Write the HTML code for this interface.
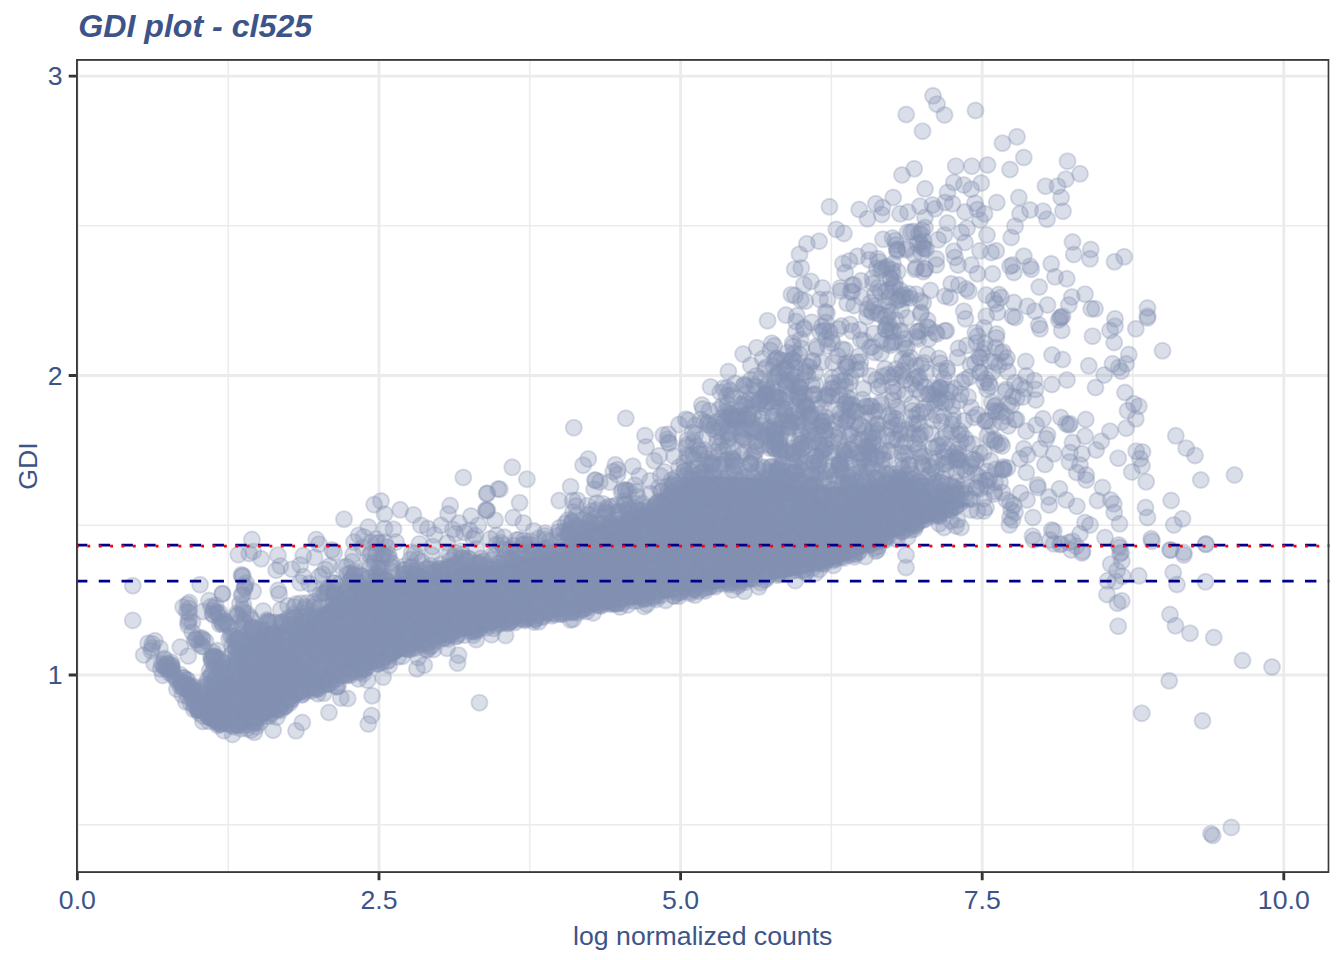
<!DOCTYPE html>
<html><head><meta charset="utf-8"><title>GDI plot - cl525</title>
<style>
html,body{margin:0;padding:0;background:#fff;}
body{width:1344px;height:960px;overflow:hidden;font-family:"Liberation Sans",sans-serif;}
svg{display:block}
text{font-family:"Liberation Sans",sans-serif;fill:#3C5488;}
.p circle{fill:#8491B4;fill-opacity:.3;stroke:#8491B4;stroke-opacity:.3;stroke-width:1.9}
</style></head><body>
<svg width="1344" height="960" viewBox="0 0 1344 960">
<rect width="1344" height="960" fill="#fff"/>
<defs><clipPath id="cp"><rect x="76.0" y="58.95" width="1253.55" height="814.0999999999999"/></clipPath></defs>
<g clip-path="url(#cp)">
<path d="M228.20 58.95V873.05M529.80 58.95V873.05M831.40 58.95V873.05M1133.00 58.95V873.05M76.0 824.68H1329.55M76.0 525.25H1329.55M76.0 225.82H1329.55" stroke="#EBEBEB" stroke-width="1.42" fill="none"/>
<path d="M77.40 58.95V873.05M379.00 58.95V873.05M680.60 58.95V873.05M982.20 58.95V873.05M1283.80 58.95V873.05M76.0 674.96H1329.55M76.0 375.53H1329.55M76.0 76.10H1329.55" stroke="#EBEBEB" stroke-width="2.84" fill="none"/>
<path d="M238.0 730.1L244.0 729.6L250.0 727.7L256.0 725.9L262.0 724.0L268.0 720.5L274.0 717.0L280.0 713.5L286.0 709.8L292.0 706.0L298.0 702.2L304.0 698.5L310.0 695.7L316.0 692.8L322.0 690.0L328.0 686.9L334.0 683.8L340.0 680.6L346.0 677.7L352.0 676.0L358.0 674.3L364.0 672.6L370.0 670.7L376.0 668.7L382.0 666.7L388.0 664.5L394.0 661.2L400.0 658.0L406.0 654.8L412.0 652.5L418.0 650.4L424.0 648.4L430.0 646.4L436.0 644.7L442.0 643.0L448.0 641.3L454.0 639.7L460.0 638.1L466.0 636.5L472.0 635.0L478.0 633.5L484.0 632.0L490.0 630.5L496.0 629.0L502.0 627.6L508.0 626.4L514.0 625.2L520.0 624.0L526.0 622.8L532.0 621.7L538.0 620.7L544.0 619.7L550.0 618.7L556.0 617.8L562.0 616.8L568.0 615.8L574.0 614.8L580.0 613.9L586.0 612.9L592.0 611.9L598.0 610.9L604.0 610.0L610.0 609.0L616.0 608.0L622.0 606.9L628.0 605.7L634.0 604.6L640.0 603.4L646.0 602.3L652.0 601.1L658.0 600.0L664.0 598.9L670.0 597.7L676.0 596.6L682.0 595.4L688.0 594.3L694.0 593.1L700.0 592.0L706.0 591.0L712.0 590.0L718.0 588.9L724.0 587.9L730.0 586.9L736.0 585.9L742.0 584.9L748.0 583.8L754.0 582.8L760.0 581.8L766.0 580.8L772.0 579.8L778.0 578.7L784.0 577.7L790.0 576.7L796.0 575.7L802.0 574.4L808.0 572.6L814.0 570.8L820.0 569.0L826.0 567.2L832.0 565.4L838.0 563.6L844.0 561.8L850.0 560.0L856.0 557.0L862.0 554.0L868.0 551.0L874.0 548.0L880.0 545.0L886.0 542.0L892.0 539.0L898.0 536.0L904.0 533.3L910.0 530.8L916.0 528.3L922.0 525.8L928.0 523.3L934.0 520.8L940.0 518.0L946.0 515.0L952.0 512.0L958.0 509.0L964.0 506.9L970.0 505.3L970.0 503.6L964.0 502.3L958.0 501.0L952.0 499.7L946.0 498.4L940.0 497.1L934.0 495.3L928.0 491.0L922.0 486.6L916.0 482.3L910.0 478.0L904.0 479.0L898.0 479.9L892.0 480.9L886.0 481.8L880.0 482.8L874.0 483.8L868.0 484.7L862.0 485.7L856.0 486.2L850.0 486.4L844.0 486.6L838.0 486.9L832.0 487.1L826.0 487.4L820.0 487.6L814.0 487.8L808.0 487.6L802.0 486.4L796.0 485.2L790.0 484.0L784.0 482.8L778.0 481.6L772.0 480.4L766.0 479.2L760.0 478.0L754.0 477.8L748.0 477.5L742.0 477.3L736.0 477.0L730.0 476.8L724.0 476.6L718.0 476.3L712.0 476.1L706.0 476.4L700.0 476.9L694.0 477.5L688.0 478.0L682.0 483.6L676.0 489.1L670.0 494.7L664.0 500.3L658.0 504.9L652.0 507.7L646.0 510.4L640.0 513.2L634.0 515.5L628.0 516.8L622.0 518.2L616.0 519.5L610.0 520.9L604.0 522.5L598.0 525.2L592.0 527.9L586.0 530.6L580.0 533.3L574.0 536.0L568.0 544.2L562.0 551.2L556.0 552.4L550.0 553.5L544.0 554.7L538.0 555.9L532.0 557.0L526.0 558.2L520.0 559.5L514.0 560.8L508.0 562.2L502.0 563.5L496.0 564.9L490.0 566.1L484.0 567.0L478.0 567.9L472.0 568.7L466.0 569.6L460.0 570.4L454.0 571.3L448.0 572.2L442.0 573.1L436.0 574.1L430.0 575.0L424.0 576.0L418.0 576.3L412.0 576.6L406.0 576.9L400.0 577.2L394.0 577.5L388.0 577.8L382.0 578.2L376.0 579.5L370.0 580.8L364.0 582.0L358.0 583.3L352.0 584.6L346.0 588.4L340.0 593.5L334.0 598.6L328.0 603.7L322.0 608.8L316.0 613.6L310.0 617.1L304.0 620.6L298.0 623.4L292.0 624.5L286.0 625.5L280.0 626.6L274.0 627.7L268.0 628.8L262.0 633.2L256.0 638.2L250.0 643.3L244.0 648.3L238.0 656.1Z" fill="#8793B5"/>
<g class="p">
<circle cx="205.4" cy="684.1" r="8.06"/><circle cx="207.3" cy="713.4" r="8.06"/><circle cx="208.9" cy="703.7" r="8.06"/><circle cx="209.0" cy="704.5" r="8.06"/><circle cx="211.5" cy="710.2" r="8.06"/><circle cx="211.7" cy="714.9" r="8.06"/><circle cx="211.8" cy="716.0" r="8.06"/><circle cx="211.5" cy="716.3" r="8.06"/><circle cx="212.4" cy="697.4" r="8.06"/><circle cx="212.9" cy="700.1" r="8.06"/><circle cx="212.2" cy="713.9" r="8.06"/><circle cx="212.0" cy="715.3" r="8.06"/><circle cx="213.2" cy="697.8" r="8.06"/><circle cx="213.4" cy="699.8" r="8.06"/><circle cx="214.9" cy="696.7" r="8.06"/><circle cx="214.3" cy="708.0" r="8.06"/><circle cx="215.8" cy="685.2" r="8.06"/><circle cx="216.7" cy="699.9" r="8.06"/><circle cx="216.7" cy="720.8" r="8.06"/><circle cx="217.0" cy="722.8" r="8.06"/><circle cx="217.3" cy="650.5" r="8.06"/><circle cx="217.8" cy="673.3" r="8.06"/><circle cx="217.2" cy="709.3" r="8.06"/><circle cx="218.4" cy="694.6" r="8.06"/><circle cx="218.7" cy="718.7" r="8.06"/><circle cx="218.5" cy="720.0" r="8.06"/><circle cx="218.8" cy="721.8" r="8.06"/><circle cx="220.0" cy="686.3" r="8.06"/><circle cx="219.3" cy="688.7" r="8.06"/><circle cx="219.9" cy="710.5" r="8.06"/><circle cx="220.8" cy="708.0" r="8.06"/><circle cx="220.1" cy="708.8" r="8.06"/><circle cx="220.0" cy="715.1" r="8.06"/><circle cx="220.3" cy="717.0" r="8.06"/><circle cx="220.1" cy="723.5" r="8.06"/><circle cx="220.4" cy="724.2" r="8.06"/><circle cx="221.8" cy="688.5" r="8.06"/><circle cx="221.7" cy="705.1" r="8.06"/><circle cx="222.7" cy="685.7" r="8.06"/><circle cx="222.2" cy="716.7" r="8.06"/><circle cx="223.5" cy="684.4" r="8.06"/><circle cx="223.2" cy="722.1" r="8.06"/><circle cx="223.9" cy="730.6" r="8.06"/><circle cx="224.3" cy="672.2" r="8.06"/><circle cx="224.6" cy="685.3" r="8.06"/><circle cx="224.3" cy="717.1" r="8.06"/><circle cx="225.2" cy="697.5" r="8.06"/><circle cx="225.9" cy="705.8" r="8.06"/><circle cx="225.8" cy="708.6" r="8.06"/><circle cx="226.8" cy="718.4" r="8.06"/><circle cx="226.9" cy="719.1" r="8.06"/><circle cx="227.2" cy="663.4" r="8.06"/><circle cx="227.7" cy="682.0" r="8.06"/><circle cx="228.4" cy="667.3" r="8.06"/><circle cx="228.9" cy="685.1" r="8.06"/><circle cx="228.3" cy="723.5" r="8.06"/><circle cx="229.9" cy="668.8" r="8.06"/><circle cx="229.1" cy="701.9" r="8.06"/><circle cx="229.8" cy="713.7" r="8.06"/><circle cx="229.2" cy="715.8" r="8.06"/><circle cx="229.6" cy="724.2" r="8.06"/><circle cx="230.7" cy="691.3" r="8.06"/><circle cx="230.2" cy="709.9" r="8.06"/><circle cx="231.2" cy="654.7" r="8.06"/><circle cx="231.6" cy="668.0" r="8.06"/><circle cx="231.1" cy="684.4" r="8.06"/><circle cx="231.9" cy="701.4" r="8.06"/><circle cx="231.1" cy="725.3" r="8.06"/><circle cx="232.2" cy="645.4" r="8.06"/><circle cx="233.0" cy="652.5" r="8.06"/><circle cx="232.3" cy="686.5" r="8.06"/><circle cx="232.8" cy="702.9" r="8.06"/><circle cx="232.1" cy="715.5" r="8.06"/><circle cx="233.9" cy="664.9" r="8.06"/><circle cx="233.6" cy="710.6" r="8.06"/><circle cx="233.3" cy="725.5" r="8.06"/><circle cx="234.8" cy="640.7" r="8.06"/><circle cx="234.5" cy="665.3" r="8.06"/><circle cx="234.4" cy="680.1" r="8.06"/><circle cx="234.6" cy="708.5" r="8.06"/><circle cx="234.1" cy="713.1" r="8.06"/><circle cx="234.3" cy="715.2" r="8.06"/><circle cx="234.2" cy="726.8" r="8.06"/><circle cx="235.9" cy="648.0" r="8.06"/><circle cx="235.9" cy="655.7" r="8.06"/><circle cx="235.3" cy="669.2" r="8.06"/><circle cx="235.2" cy="673.4" r="8.06"/><circle cx="235.1" cy="684.3" r="8.06"/><circle cx="236.0" cy="696.7" r="8.06"/><circle cx="235.7" cy="724.2" r="8.06"/><circle cx="236.2" cy="649.1" r="8.06"/><circle cx="236.8" cy="657.5" r="8.06"/><circle cx="236.6" cy="658.9" r="8.06"/><circle cx="236.9" cy="704.6" r="8.06"/><circle cx="237.3" cy="664.2" r="8.06"/><circle cx="237.6" cy="701.0" r="8.06"/><circle cx="237.9" cy="721.9" r="8.06"/><circle cx="237.2" cy="723.3" r="8.06"/><circle cx="237.1" cy="724.7" r="8.06"/><circle cx="237.4" cy="724.7" r="8.06"/><circle cx="238.8" cy="659.6" r="8.06"/><circle cx="238.8" cy="682.8" r="8.06"/><circle cx="238.5" cy="697.3" r="8.06"/><circle cx="238.4" cy="717.5" r="8.06"/><circle cx="239.0" cy="725.3" r="8.06"/><circle cx="239.5" cy="647.9" r="8.06"/><circle cx="239.0" cy="652.2" r="8.06"/><circle cx="239.1" cy="664.6" r="8.06"/><circle cx="239.9" cy="693.5" r="8.06"/><circle cx="240.8" cy="679.8" r="8.06"/><circle cx="240.5" cy="691.3" r="8.06"/><circle cx="240.9" cy="713.8" r="8.06"/><circle cx="241.0" cy="656.4" r="8.06"/><circle cx="241.6" cy="668.9" r="8.06"/><circle cx="241.7" cy="671.6" r="8.06"/><circle cx="241.7" cy="687.4" r="8.06"/><circle cx="241.8" cy="707.7" r="8.06"/><circle cx="241.1" cy="728.7" r="8.06"/><circle cx="242.6" cy="626.4" r="8.06"/><circle cx="242.2" cy="696.4" r="8.06"/><circle cx="242.3" cy="720.5" r="8.06"/><circle cx="242.6" cy="722.5" r="8.06"/><circle cx="243.8" cy="651.6" r="8.06"/><circle cx="243.4" cy="658.3" r="8.06"/><circle cx="243.5" cy="697.3" r="8.06"/><circle cx="243.4" cy="712.0" r="8.06"/><circle cx="245.0" cy="642.4" r="8.06"/><circle cx="244.7" cy="661.0" r="8.06"/><circle cx="244.7" cy="669.7" r="8.06"/><circle cx="244.8" cy="709.4" r="8.06"/><circle cx="244.2" cy="725.2" r="8.06"/><circle cx="245.4" cy="640.4" r="8.06"/><circle cx="245.9" cy="646.8" r="8.06"/><circle cx="245.4" cy="657.7" r="8.06"/><circle cx="245.3" cy="705.6" r="8.06"/><circle cx="246.8" cy="641.2" r="8.06"/><circle cx="246.5" cy="667.6" r="8.06"/><circle cx="246.7" cy="706.5" r="8.06"/><circle cx="247.9" cy="638.8" r="8.06"/><circle cx="247.2" cy="643.3" r="8.06"/><circle cx="247.3" cy="672.7" r="8.06"/><circle cx="247.8" cy="724.8" r="8.06"/><circle cx="247.0" cy="728.6" r="8.06"/><circle cx="248.5" cy="704.7" r="8.06"/><circle cx="248.6" cy="711.5" r="8.06"/><circle cx="248.8" cy="714.6" r="8.06"/><circle cx="248.1" cy="718.5" r="8.06"/><circle cx="248.4" cy="721.4" r="8.06"/><circle cx="249.6" cy="657.4" r="8.06"/><circle cx="249.2" cy="677.6" r="8.06"/><circle cx="249.3" cy="680.5" r="8.06"/><circle cx="249.8" cy="686.0" r="8.06"/><circle cx="250.0" cy="694.1" r="8.06"/><circle cx="250.3" cy="617.2" r="8.06"/><circle cx="250.4" cy="653.9" r="8.06"/><circle cx="250.2" cy="657.9" r="8.06"/><circle cx="250.8" cy="664.2" r="8.06"/><circle cx="250.0" cy="670.1" r="8.06"/><circle cx="250.5" cy="678.3" r="8.06"/><circle cx="250.7" cy="688.6" r="8.06"/><circle cx="250.4" cy="698.6" r="8.06"/><circle cx="250.7" cy="702.7" r="8.06"/><circle cx="250.1" cy="704.3" r="8.06"/><circle cx="251.2" cy="640.5" r="8.06"/><circle cx="251.8" cy="687.4" r="8.06"/><circle cx="251.2" cy="730.1" r="8.06"/><circle cx="252.7" cy="634.9" r="8.06"/><circle cx="252.1" cy="653.1" r="8.06"/><circle cx="252.1" cy="696.0" r="8.06"/><circle cx="252.2" cy="721.3" r="8.06"/><circle cx="253.3" cy="668.8" r="8.06"/><circle cx="253.0" cy="678.0" r="8.06"/><circle cx="253.5" cy="693.1" r="8.06"/><circle cx="253.6" cy="702.9" r="8.06"/><circle cx="253.5" cy="703.0" r="8.06"/><circle cx="253.4" cy="722.2" r="8.06"/><circle cx="254.6" cy="636.0" r="8.06"/><circle cx="254.7" cy="689.2" r="8.06"/><circle cx="254.4" cy="694.9" r="8.06"/><circle cx="254.3" cy="702.3" r="8.06"/><circle cx="254.7" cy="721.8" r="8.06"/><circle cx="254.9" cy="722.7" r="8.06"/><circle cx="255.9" cy="632.2" r="8.06"/><circle cx="255.1" cy="634.9" r="8.06"/><circle cx="255.3" cy="640.3" r="8.06"/><circle cx="255.4" cy="717.7" r="8.06"/><circle cx="256.6" cy="643.7" r="8.06"/><circle cx="256.8" cy="648.2" r="8.06"/><circle cx="256.3" cy="693.2" r="8.06"/><circle cx="256.7" cy="697.0" r="8.06"/><circle cx="256.7" cy="704.7" r="8.06"/><circle cx="256.2" cy="704.4" r="8.06"/><circle cx="256.4" cy="717.8" r="8.06"/><circle cx="256.0" cy="723.6" r="8.06"/><circle cx="256.5" cy="726.7" r="8.06"/><circle cx="257.1" cy="636.1" r="8.06"/><circle cx="257.7" cy="646.4" r="8.06"/><circle cx="257.3" cy="676.9" r="8.06"/><circle cx="258.1" cy="641.5" r="8.06"/><circle cx="259.0" cy="646.1" r="8.06"/><circle cx="258.0" cy="668.1" r="8.06"/><circle cx="258.8" cy="671.3" r="8.06"/><circle cx="258.4" cy="691.5" r="8.06"/><circle cx="259.1" cy="629.2" r="8.06"/><circle cx="259.1" cy="682.6" r="8.06"/><circle cx="259.1" cy="683.7" r="8.06"/><circle cx="259.6" cy="695.9" r="8.06"/><circle cx="259.3" cy="711.5" r="8.06"/><circle cx="259.9" cy="712.6" r="8.06"/><circle cx="259.7" cy="713.1" r="8.06"/><circle cx="259.9" cy="722.4" r="8.06"/><circle cx="260.5" cy="627.5" r="8.06"/><circle cx="260.7" cy="658.8" r="8.06"/><circle cx="260.1" cy="676.5" r="8.06"/><circle cx="260.2" cy="677.9" r="8.06"/><circle cx="260.9" cy="687.3" r="8.06"/><circle cx="261.0" cy="697.9" r="8.06"/><circle cx="260.8" cy="699.1" r="8.06"/><circle cx="260.3" cy="717.6" r="8.06"/><circle cx="261.7" cy="631.0" r="8.06"/><circle cx="261.6" cy="642.1" r="8.06"/><circle cx="261.9" cy="645.3" r="8.06"/><circle cx="261.2" cy="652.1" r="8.06"/><circle cx="261.9" cy="664.4" r="8.06"/><circle cx="261.2" cy="682.3" r="8.06"/><circle cx="261.8" cy="697.8" r="8.06"/><circle cx="261.9" cy="704.4" r="8.06"/><circle cx="261.4" cy="706.1" r="8.06"/><circle cx="261.3" cy="711.9" r="8.06"/><circle cx="262.8" cy="629.9" r="8.06"/><circle cx="262.1" cy="651.3" r="8.06"/><circle cx="262.2" cy="678.8" r="8.06"/><circle cx="262.0" cy="687.3" r="8.06"/><circle cx="262.8" cy="702.4" r="8.06"/><circle cx="263.2" cy="611.0" r="8.06"/><circle cx="263.8" cy="643.9" r="8.06"/><circle cx="263.4" cy="644.3" r="8.06"/><circle cx="263.2" cy="673.3" r="8.06"/><circle cx="263.0" cy="691.6" r="8.06"/><circle cx="263.4" cy="709.8" r="8.06"/><circle cx="264.9" cy="634.9" r="8.06"/><circle cx="265.0" cy="636.7" r="8.06"/><circle cx="264.3" cy="640.0" r="8.06"/><circle cx="264.4" cy="665.7" r="8.06"/><circle cx="264.7" cy="668.3" r="8.06"/><circle cx="264.4" cy="705.4" r="8.06"/><circle cx="265.3" cy="643.0" r="8.06"/><circle cx="265.3" cy="655.6" r="8.06"/><circle cx="265.2" cy="667.3" r="8.06"/><circle cx="265.5" cy="668.1" r="8.06"/><circle cx="265.6" cy="677.9" r="8.06"/><circle cx="265.8" cy="691.8" r="8.06"/><circle cx="265.4" cy="701.9" r="8.06"/><circle cx="266.0" cy="706.3" r="8.06"/><circle cx="266.9" cy="637.6" r="8.06"/><circle cx="266.4" cy="695.3" r="8.06"/><circle cx="266.2" cy="712.6" r="8.06"/><circle cx="266.9" cy="715.8" r="8.06"/><circle cx="267.0" cy="620.0" r="8.06"/><circle cx="267.7" cy="621.4" r="8.06"/><circle cx="267.4" cy="635.2" r="8.06"/><circle cx="268.3" cy="622.0" r="8.06"/><circle cx="268.3" cy="622.2" r="8.06"/><circle cx="268.5" cy="651.3" r="8.06"/><circle cx="269.0" cy="660.8" r="8.06"/><circle cx="268.9" cy="665.3" r="8.06"/><circle cx="268.2" cy="669.4" r="8.06"/><circle cx="268.7" cy="699.2" r="8.06"/><circle cx="269.6" cy="641.5" r="8.06"/><circle cx="269.6" cy="649.3" r="8.06"/><circle cx="269.2" cy="666.1" r="8.06"/><circle cx="269.1" cy="673.0" r="8.06"/><circle cx="269.4" cy="700.4" r="8.06"/><circle cx="269.6" cy="709.2" r="8.06"/><circle cx="269.6" cy="716.3" r="8.06"/><circle cx="270.7" cy="622.4" r="8.06"/><circle cx="270.6" cy="635.2" r="8.06"/><circle cx="270.9" cy="635.9" r="8.06"/><circle cx="270.7" cy="654.9" r="8.06"/><circle cx="270.6" cy="677.4" r="8.06"/><circle cx="270.9" cy="691.9" r="8.06"/><circle cx="270.2" cy="713.6" r="8.06"/><circle cx="271.0" cy="651.2" r="8.06"/><circle cx="271.9" cy="653.5" r="8.06"/><circle cx="271.5" cy="698.6" r="8.06"/><circle cx="271.7" cy="713.2" r="8.06"/><circle cx="272.9" cy="638.3" r="8.06"/><circle cx="272.3" cy="645.0" r="8.06"/><circle cx="272.5" cy="655.6" r="8.06"/><circle cx="272.7" cy="667.9" r="8.06"/><circle cx="272.8" cy="689.0" r="8.06"/><circle cx="272.1" cy="691.4" r="8.06"/><circle cx="272.7" cy="708.0" r="8.06"/><circle cx="273.6" cy="633.7" r="8.06"/><circle cx="273.6" cy="676.1" r="8.06"/><circle cx="273.5" cy="689.1" r="8.06"/><circle cx="273.2" cy="691.9" r="8.06"/><circle cx="274.9" cy="622.6" r="8.06"/><circle cx="274.8" cy="633.0" r="8.06"/><circle cx="274.2" cy="633.3" r="8.06"/><circle cx="274.5" cy="674.8" r="8.06"/><circle cx="274.1" cy="676.4" r="8.06"/><circle cx="274.1" cy="688.6" r="8.06"/><circle cx="274.0" cy="691.5" r="8.06"/><circle cx="274.3" cy="700.4" r="8.06"/><circle cx="275.6" cy="643.7" r="8.06"/><circle cx="275.3" cy="666.6" r="8.06"/><circle cx="275.7" cy="677.5" r="8.06"/><circle cx="275.3" cy="690.2" r="8.06"/><circle cx="275.1" cy="698.1" r="8.06"/><circle cx="275.3" cy="707.9" r="8.06"/><circle cx="276.6" cy="635.3" r="8.06"/><circle cx="276.9" cy="652.6" r="8.06"/><circle cx="276.6" cy="662.8" r="8.06"/><circle cx="276.7" cy="667.4" r="8.06"/><circle cx="276.2" cy="667.1" r="8.06"/><circle cx="276.3" cy="694.1" r="8.06"/><circle cx="276.6" cy="710.1" r="8.06"/><circle cx="276.9" cy="717.1" r="8.06"/><circle cx="277.5" cy="649.6" r="8.06"/><circle cx="277.5" cy="664.0" r="8.06"/><circle cx="277.1" cy="666.6" r="8.06"/><circle cx="278.2" cy="590.3" r="8.06"/><circle cx="278.3" cy="673.4" r="8.06"/><circle cx="278.9" cy="689.6" r="8.06"/><circle cx="278.2" cy="708.4" r="8.06"/><circle cx="279.2" cy="593.9" r="8.06"/><circle cx="279.9" cy="654.1" r="8.06"/><circle cx="279.2" cy="686.3" r="8.06"/><circle cx="279.4" cy="697.7" r="8.06"/><circle cx="279.4" cy="708.7" r="8.06"/><circle cx="279.2" cy="708.9" r="8.06"/><circle cx="280.8" cy="609.9" r="8.06"/><circle cx="280.7" cy="662.9" r="8.06"/><circle cx="280.0" cy="688.0" r="8.06"/><circle cx="280.8" cy="710.4" r="8.06"/><circle cx="281.9" cy="622.4" r="8.06"/><circle cx="281.5" cy="622.0" r="8.06"/><circle cx="281.4" cy="632.4" r="8.06"/><circle cx="281.7" cy="636.8" r="8.06"/><circle cx="281.9" cy="663.8" r="8.06"/><circle cx="281.1" cy="670.5" r="8.06"/><circle cx="281.6" cy="672.2" r="8.06"/><circle cx="281.7" cy="685.8" r="8.06"/><circle cx="281.8" cy="704.3" r="8.06"/><circle cx="281.2" cy="705.1" r="8.06"/><circle cx="282.4" cy="622.7" r="8.06"/><circle cx="282.5" cy="650.7" r="8.06"/><circle cx="282.5" cy="667.5" r="8.06"/><circle cx="282.7" cy="676.2" r="8.06"/><circle cx="283.0" cy="685.0" r="8.06"/><circle cx="282.5" cy="698.1" r="8.06"/><circle cx="282.6" cy="700.2" r="8.06"/><circle cx="283.3" cy="625.0" r="8.06"/><circle cx="283.2" cy="657.8" r="8.06"/><circle cx="283.8" cy="676.5" r="8.06"/><circle cx="283.7" cy="692.4" r="8.06"/><circle cx="283.2" cy="693.3" r="8.06"/><circle cx="283.4" cy="699.9" r="8.06"/><circle cx="284.9" cy="632.2" r="8.06"/><circle cx="284.9" cy="641.7" r="8.06"/><circle cx="284.6" cy="655.2" r="8.06"/><circle cx="284.9" cy="686.9" r="8.06"/><circle cx="284.6" cy="697.0" r="8.06"/><circle cx="284.2" cy="706.6" r="8.06"/><circle cx="285.0" cy="706.2" r="8.06"/><circle cx="285.6" cy="641.2" r="8.06"/><circle cx="285.4" cy="659.3" r="8.06"/><circle cx="285.7" cy="683.7" r="8.06"/><circle cx="285.2" cy="693.5" r="8.06"/><circle cx="285.4" cy="706.3" r="8.06"/><circle cx="286.9" cy="631.8" r="8.06"/><circle cx="286.3" cy="681.5" r="8.06"/><circle cx="287.0" cy="685.2" r="8.06"/><circle cx="287.1" cy="620.1" r="8.06"/><circle cx="287.5" cy="632.3" r="8.06"/><circle cx="287.7" cy="646.4" r="8.06"/><circle cx="287.5" cy="662.7" r="8.06"/><circle cx="287.6" cy="664.0" r="8.06"/><circle cx="287.6" cy="667.1" r="8.06"/><circle cx="287.1" cy="667.9" r="8.06"/><circle cx="287.5" cy="672.1" r="8.06"/><circle cx="288.0" cy="605.9" r="8.06"/><circle cx="288.1" cy="639.3" r="8.06"/><circle cx="288.3" cy="668.1" r="8.06"/><circle cx="288.6" cy="675.2" r="8.06"/><circle cx="288.4" cy="686.4" r="8.06"/><circle cx="288.3" cy="701.3" r="8.06"/><circle cx="289.2" cy="617.4" r="8.06"/><circle cx="289.6" cy="648.2" r="8.06"/><circle cx="290.0" cy="691.7" r="8.06"/><circle cx="289.3" cy="698.0" r="8.06"/><circle cx="289.9" cy="703.0" r="8.06"/><circle cx="290.7" cy="620.1" r="8.06"/><circle cx="290.8" cy="624.6" r="8.06"/><circle cx="290.2" cy="626.3" r="8.06"/><circle cx="290.8" cy="699.8" r="8.06"/><circle cx="291.4" cy="661.5" r="8.06"/><circle cx="292.5" cy="660.1" r="8.06"/><circle cx="292.5" cy="663.3" r="8.06"/><circle cx="292.3" cy="670.6" r="8.06"/><circle cx="292.9" cy="671.6" r="8.06"/><circle cx="292.3" cy="681.6" r="8.06"/><circle cx="292.1" cy="699.1" r="8.06"/><circle cx="293.3" cy="668.3" r="8.06"/><circle cx="293.8" cy="675.1" r="8.06"/><circle cx="294.4" cy="606.9" r="8.06"/><circle cx="294.1" cy="614.3" r="8.06"/><circle cx="294.8" cy="617.3" r="8.06"/><circle cx="294.4" cy="624.2" r="8.06"/><circle cx="294.5" cy="628.8" r="8.06"/><circle cx="294.4" cy="653.4" r="8.06"/><circle cx="294.6" cy="657.9" r="8.06"/><circle cx="295.9" cy="604.0" r="8.06"/><circle cx="295.5" cy="618.7" r="8.06"/><circle cx="295.9" cy="646.5" r="8.06"/><circle cx="295.4" cy="651.3" r="8.06"/><circle cx="295.2" cy="666.0" r="8.06"/><circle cx="296.7" cy="642.3" r="8.06"/><circle cx="296.3" cy="690.1" r="8.06"/><circle cx="297.7" cy="649.9" r="8.06"/><circle cx="298.8" cy="634.1" r="8.06"/><circle cx="298.9" cy="639.3" r="8.06"/><circle cx="298.7" cy="648.4" r="8.06"/><circle cx="298.6" cy="668.1" r="8.06"/><circle cx="298.4" cy="670.0" r="8.06"/><circle cx="298.2" cy="693.2" r="8.06"/><circle cx="299.5" cy="621.1" r="8.06"/><circle cx="299.1" cy="672.8" r="8.06"/><circle cx="299.5" cy="686.3" r="8.06"/><circle cx="300.2" cy="582.7" r="8.06"/><circle cx="300.8" cy="603.2" r="8.06"/><circle cx="300.2" cy="627.4" r="8.06"/><circle cx="300.4" cy="669.8" r="8.06"/><circle cx="300.5" cy="669.7" r="8.06"/><circle cx="300.1" cy="690.4" r="8.06"/><circle cx="301.6" cy="658.7" r="8.06"/><circle cx="301.9" cy="694.8" r="8.06"/><circle cx="302.7" cy="613.5" r="8.06"/><circle cx="302.4" cy="616.5" r="8.06"/><circle cx="302.5" cy="622.4" r="8.06"/><circle cx="302.5" cy="631.7" r="8.06"/><circle cx="303.0" cy="663.5" r="8.06"/><circle cx="302.9" cy="670.3" r="8.06"/><circle cx="302.1" cy="670.8" r="8.06"/><circle cx="302.1" cy="678.9" r="8.06"/><circle cx="302.9" cy="684.0" r="8.06"/><circle cx="302.6" cy="692.0" r="8.06"/><circle cx="302.3" cy="694.4" r="8.06"/><circle cx="303.5" cy="576.5" r="8.06"/><circle cx="303.7" cy="622.2" r="8.06"/><circle cx="303.3" cy="626.3" r="8.06"/><circle cx="303.6" cy="647.7" r="8.06"/><circle cx="303.6" cy="653.4" r="8.06"/><circle cx="303.7" cy="671.4" r="8.06"/><circle cx="304.6" cy="609.1" r="8.06"/><circle cx="304.1" cy="630.4" r="8.06"/><circle cx="304.2" cy="638.5" r="8.06"/><circle cx="304.0" cy="662.2" r="8.06"/><circle cx="304.9" cy="686.5" r="8.06"/><circle cx="305.3" cy="606.8" r="8.06"/><circle cx="305.6" cy="627.1" r="8.06"/><circle cx="305.6" cy="683.0" r="8.06"/><circle cx="305.6" cy="691.3" r="8.06"/><circle cx="307.0" cy="602.9" r="8.06"/><circle cx="306.8" cy="632.7" r="8.06"/><circle cx="306.6" cy="658.2" r="8.06"/><circle cx="306.6" cy="660.3" r="8.06"/><circle cx="306.1" cy="673.7" r="8.06"/><circle cx="307.9" cy="616.2" r="8.06"/><circle cx="307.6" cy="620.3" r="8.06"/><circle cx="307.7" cy="620.7" r="8.06"/><circle cx="307.6" cy="621.4" r="8.06"/><circle cx="307.7" cy="622.6" r="8.06"/><circle cx="307.8" cy="636.6" r="8.06"/><circle cx="307.8" cy="645.8" r="8.06"/><circle cx="307.9" cy="681.7" r="8.06"/><circle cx="309.2" cy="583.5" r="8.06"/><circle cx="309.6" cy="632.4" r="8.06"/><circle cx="309.1" cy="641.3" r="8.06"/><circle cx="310.2" cy="615.8" r="8.06"/><circle cx="310.1" cy="621.0" r="8.06"/><circle cx="310.4" cy="669.7" r="8.06"/><circle cx="310.3" cy="689.2" r="8.06"/><circle cx="311.6" cy="633.7" r="8.06"/><circle cx="311.9" cy="676.6" r="8.06"/><circle cx="311.9" cy="686.7" r="8.06"/><circle cx="312.0" cy="690.7" r="8.06"/><circle cx="312.8" cy="613.9" r="8.06"/><circle cx="312.9" cy="643.2" r="8.06"/><circle cx="312.7" cy="680.8" r="8.06"/><circle cx="313.5" cy="607.0" r="8.06"/><circle cx="313.5" cy="628.6" r="8.06"/><circle cx="313.2" cy="648.8" r="8.06"/><circle cx="313.7" cy="654.1" r="8.06"/><circle cx="314.0" cy="669.9" r="8.06"/><circle cx="314.6" cy="557.4" r="8.06"/><circle cx="314.1" cy="601.8" r="8.06"/><circle cx="314.3" cy="629.1" r="8.06"/><circle cx="314.1" cy="634.1" r="8.06"/><circle cx="315.0" cy="648.6" r="8.06"/><circle cx="314.6" cy="677.4" r="8.06"/><circle cx="315.7" cy="589.0" r="8.06"/><circle cx="315.2" cy="604.3" r="8.06"/><circle cx="315.5" cy="651.2" r="8.06"/><circle cx="315.6" cy="687.1" r="8.06"/><circle cx="315.7" cy="687.5" r="8.06"/><circle cx="316.4" cy="617.2" r="8.06"/><circle cx="316.5" cy="618.5" r="8.06"/><circle cx="316.4" cy="619.3" r="8.06"/><circle cx="316.0" cy="651.4" r="8.06"/><circle cx="316.4" cy="664.2" r="8.06"/><circle cx="316.6" cy="688.9" r="8.06"/><circle cx="316.9" cy="688.7" r="8.06"/><circle cx="317.4" cy="618.7" r="8.06"/><circle cx="317.8" cy="628.0" r="8.06"/><circle cx="317.1" cy="628.0" r="8.06"/><circle cx="317.9" cy="654.9" r="8.06"/><circle cx="317.0" cy="666.0" r="8.06"/><circle cx="317.7" cy="693.7" r="8.06"/><circle cx="318.5" cy="667.9" r="8.06"/><circle cx="318.9" cy="688.9" r="8.06"/><circle cx="319.3" cy="576.5" r="8.06"/><circle cx="319.3" cy="606.1" r="8.06"/><circle cx="319.5" cy="648.5" r="8.06"/><circle cx="320.0" cy="665.3" r="8.06"/><circle cx="319.6" cy="670.3" r="8.06"/><circle cx="320.6" cy="594.2" r="8.06"/><circle cx="320.7" cy="607.0" r="8.06"/><circle cx="320.5" cy="619.7" r="8.06"/><circle cx="320.7" cy="633.0" r="8.06"/><circle cx="320.0" cy="634.0" r="8.06"/><circle cx="320.7" cy="669.9" r="8.06"/><circle cx="320.0" cy="672.7" r="8.06"/><circle cx="321.6" cy="684.9" r="8.06"/><circle cx="322.6" cy="574.2" r="8.06"/><circle cx="322.8" cy="615.1" r="8.06"/><circle cx="322.7" cy="631.7" r="8.06"/><circle cx="322.3" cy="646.9" r="8.06"/><circle cx="322.2" cy="660.9" r="8.06"/><circle cx="322.7" cy="663.8" r="8.06"/><circle cx="323.5" cy="593.3" r="8.06"/><circle cx="323.4" cy="628.6" r="8.06"/><circle cx="323.7" cy="632.7" r="8.06"/><circle cx="323.1" cy="679.6" r="8.06"/><circle cx="323.9" cy="679.9" r="8.06"/><circle cx="323.7" cy="693.3" r="8.06"/><circle cx="324.6" cy="592.7" r="8.06"/><circle cx="324.6" cy="615.0" r="8.06"/><circle cx="324.7" cy="619.3" r="8.06"/><circle cx="324.8" cy="638.9" r="8.06"/><circle cx="324.9" cy="669.3" r="8.06"/><circle cx="324.6" cy="679.2" r="8.06"/><circle cx="324.6" cy="685.0" r="8.06"/><circle cx="325.5" cy="569.4" r="8.06"/><circle cx="325.5" cy="624.8" r="8.06"/><circle cx="325.1" cy="641.0" r="8.06"/><circle cx="325.6" cy="651.6" r="8.06"/><circle cx="325.4" cy="651.8" r="8.06"/><circle cx="325.7" cy="657.1" r="8.06"/><circle cx="326.6" cy="591.7" r="8.06"/><circle cx="326.7" cy="677.4" r="8.06"/><circle cx="326.3" cy="679.1" r="8.06"/><circle cx="327.9" cy="590.2" r="8.06"/><circle cx="327.3" cy="591.1" r="8.06"/><circle cx="327.5" cy="615.9" r="8.06"/><circle cx="327.6" cy="618.1" r="8.06"/><circle cx="327.0" cy="625.7" r="8.06"/><circle cx="327.3" cy="637.0" r="8.06"/><circle cx="327.9" cy="646.0" r="8.06"/><circle cx="327.3" cy="678.3" r="8.06"/><circle cx="327.8" cy="684.0" r="8.06"/><circle cx="328.3" cy="587.6" r="8.06"/><circle cx="328.3" cy="613.8" r="8.06"/><circle cx="328.9" cy="639.8" r="8.06"/><circle cx="328.3" cy="645.4" r="8.06"/><circle cx="328.6" cy="684.0" r="8.06"/><circle cx="329.0" cy="611.7" r="8.06"/><circle cx="329.2" cy="616.8" r="8.06"/><circle cx="329.3" cy="683.4" r="8.06"/><circle cx="330.0" cy="622.2" r="8.06"/><circle cx="330.3" cy="626.2" r="8.06"/><circle cx="330.8" cy="635.9" r="8.06"/><circle cx="330.5" cy="641.3" r="8.06"/><circle cx="330.1" cy="679.5" r="8.06"/><circle cx="331.9" cy="550.0" r="8.06"/><circle cx="331.6" cy="606.5" r="8.06"/><circle cx="331.3" cy="644.1" r="8.06"/><circle cx="331.3" cy="674.9" r="8.06"/><circle cx="331.4" cy="678.7" r="8.06"/><circle cx="331.6" cy="683.0" r="8.06"/><circle cx="332.5" cy="594.3" r="8.06"/><circle cx="332.9" cy="607.5" r="8.06"/><circle cx="332.3" cy="609.7" r="8.06"/><circle cx="332.8" cy="639.7" r="8.06"/><circle cx="332.8" cy="651.7" r="8.06"/><circle cx="333.4" cy="583.0" r="8.06"/><circle cx="333.5" cy="592.5" r="8.06"/><circle cx="333.3" cy="636.6" r="8.06"/><circle cx="333.2" cy="637.0" r="8.06"/><circle cx="334.7" cy="589.4" r="8.06"/><circle cx="334.9" cy="590.6" r="8.06"/><circle cx="334.6" cy="595.7" r="8.06"/><circle cx="334.1" cy="596.3" r="8.06"/><circle cx="334.7" cy="621.7" r="8.06"/><circle cx="334.9" cy="626.3" r="8.06"/><circle cx="334.3" cy="656.6" r="8.06"/><circle cx="335.1" cy="583.0" r="8.06"/><circle cx="335.8" cy="593.7" r="8.06"/><circle cx="335.5" cy="593.1" r="8.06"/><circle cx="335.4" cy="607.0" r="8.06"/><circle cx="335.1" cy="608.6" r="8.06"/><circle cx="335.4" cy="628.6" r="8.06"/><circle cx="335.1" cy="647.3" r="8.06"/><circle cx="335.5" cy="654.8" r="8.06"/><circle cx="335.6" cy="660.4" r="8.06"/><circle cx="335.2" cy="678.3" r="8.06"/><circle cx="336.3" cy="637.0" r="8.06"/><circle cx="336.3" cy="670.4" r="8.06"/><circle cx="336.6" cy="676.1" r="8.06"/><circle cx="336.9" cy="686.5" r="8.06"/><circle cx="336.2" cy="686.8" r="8.06"/><circle cx="337.8" cy="605.2" r="8.06"/><circle cx="337.7" cy="612.6" r="8.06"/><circle cx="337.9" cy="621.8" r="8.06"/><circle cx="337.7" cy="625.2" r="8.06"/><circle cx="337.6" cy="637.8" r="8.06"/><circle cx="337.3" cy="656.0" r="8.06"/><circle cx="337.2" cy="659.5" r="8.06"/><circle cx="337.3" cy="678.6" r="8.06"/><circle cx="338.6" cy="599.3" r="8.06"/><circle cx="338.9" cy="604.4" r="8.06"/><circle cx="338.6" cy="612.3" r="8.06"/><circle cx="338.5" cy="620.3" r="8.06"/><circle cx="338.1" cy="636.1" r="8.06"/><circle cx="338.8" cy="640.4" r="8.06"/><circle cx="338.5" cy="652.8" r="8.06"/><circle cx="338.0" cy="670.7" r="8.06"/><circle cx="338.1" cy="686.1" r="8.06"/><circle cx="339.6" cy="583.7" r="8.06"/><circle cx="339.6" cy="598.4" r="8.06"/><circle cx="339.8" cy="604.5" r="8.06"/><circle cx="339.5" cy="640.8" r="8.06"/><circle cx="340.3" cy="603.0" r="8.06"/><circle cx="340.4" cy="604.4" r="8.06"/><circle cx="340.5" cy="609.6" r="8.06"/><circle cx="340.6" cy="619.4" r="8.06"/><circle cx="340.6" cy="643.0" r="8.06"/><circle cx="341.4" cy="627.1" r="8.06"/><circle cx="341.7" cy="635.3" r="8.06"/><circle cx="341.9" cy="657.4" r="8.06"/><circle cx="341.1" cy="674.9" r="8.06"/><circle cx="341.7" cy="675.1" r="8.06"/><circle cx="342.4" cy="567.3" r="8.06"/><circle cx="342.9" cy="595.5" r="8.06"/><circle cx="342.1" cy="616.6" r="8.06"/><circle cx="342.7" cy="622.4" r="8.06"/><circle cx="342.0" cy="626.8" r="8.06"/><circle cx="342.7" cy="632.0" r="8.06"/><circle cx="342.2" cy="653.1" r="8.06"/><circle cx="342.4" cy="658.6" r="8.06"/><circle cx="342.8" cy="675.3" r="8.06"/><circle cx="343.9" cy="610.3" r="8.06"/><circle cx="343.6" cy="650.0" r="8.06"/><circle cx="344.4" cy="639.7" r="8.06"/><circle cx="344.7" cy="642.4" r="8.06"/><circle cx="344.5" cy="642.3" r="8.06"/><circle cx="344.8" cy="646.9" r="8.06"/><circle cx="344.7" cy="658.3" r="8.06"/><circle cx="344.6" cy="665.0" r="8.06"/><circle cx="345.3" cy="591.7" r="8.06"/><circle cx="345.5" cy="605.3" r="8.06"/><circle cx="345.8" cy="611.1" r="8.06"/><circle cx="345.2" cy="631.8" r="8.06"/><circle cx="345.2" cy="635.6" r="8.06"/><circle cx="345.6" cy="674.8" r="8.06"/><circle cx="346.5" cy="566.5" r="8.06"/><circle cx="346.8" cy="589.3" r="8.06"/><circle cx="346.1" cy="592.5" r="8.06"/><circle cx="346.9" cy="597.5" r="8.06"/><circle cx="346.2" cy="662.0" r="8.06"/><circle cx="347.5" cy="574.2" r="8.06"/><circle cx="347.4" cy="634.9" r="8.06"/><circle cx="347.4" cy="639.8" r="8.06"/><circle cx="347.4" cy="650.6" r="8.06"/><circle cx="347.1" cy="674.3" r="8.06"/><circle cx="348.0" cy="675.4" r="8.06"/><circle cx="348.0" cy="583.2" r="8.06"/><circle cx="348.1" cy="616.0" r="8.06"/><circle cx="348.6" cy="625.8" r="8.06"/><circle cx="349.9" cy="606.7" r="8.06"/><circle cx="349.8" cy="630.9" r="8.06"/><circle cx="349.0" cy="640.0" r="8.06"/><circle cx="349.2" cy="646.8" r="8.06"/><circle cx="350.6" cy="573.1" r="8.06"/><circle cx="350.9" cy="580.1" r="8.06"/><circle cx="350.3" cy="581.6" r="8.06"/><circle cx="350.0" cy="598.2" r="8.06"/><circle cx="350.5" cy="656.7" r="8.06"/><circle cx="350.5" cy="672.5" r="8.06"/><circle cx="350.7" cy="675.1" r="8.06"/><circle cx="351.5" cy="607.6" r="8.06"/><circle cx="351.2" cy="633.4" r="8.06"/><circle cx="352.0" cy="644.5" r="8.06"/><circle cx="351.4" cy="647.4" r="8.06"/><circle cx="351.1" cy="656.6" r="8.06"/><circle cx="352.2" cy="561.7" r="8.06"/><circle cx="352.3" cy="578.7" r="8.06"/><circle cx="352.1" cy="584.5" r="8.06"/><circle cx="352.9" cy="609.3" r="8.06"/><circle cx="352.4" cy="622.0" r="8.06"/><circle cx="352.3" cy="634.1" r="8.06"/><circle cx="352.7" cy="639.6" r="8.06"/><circle cx="352.2" cy="644.2" r="8.06"/><circle cx="352.5" cy="652.8" r="8.06"/><circle cx="352.0" cy="652.6" r="8.06"/><circle cx="352.7" cy="670.0" r="8.06"/><circle cx="353.1" cy="554.7" r="8.06"/><circle cx="353.6" cy="575.5" r="8.06"/><circle cx="354.0" cy="671.7" r="8.06"/><circle cx="354.0" cy="542.1" r="8.06"/><circle cx="354.9" cy="571.4" r="8.06"/><circle cx="355.0" cy="575.2" r="8.06"/><circle cx="354.5" cy="602.3" r="8.06"/><circle cx="354.0" cy="633.3" r="8.06"/><circle cx="354.4" cy="639.3" r="8.06"/><circle cx="354.6" cy="656.8" r="8.06"/><circle cx="354.0" cy="662.7" r="8.06"/><circle cx="355.4" cy="573.6" r="8.06"/><circle cx="355.6" cy="582.6" r="8.06"/><circle cx="356.0" cy="607.3" r="8.06"/><circle cx="355.7" cy="608.5" r="8.06"/><circle cx="355.8" cy="622.8" r="8.06"/><circle cx="355.5" cy="636.5" r="8.06"/><circle cx="355.0" cy="657.3" r="8.06"/><circle cx="355.7" cy="659.1" r="8.06"/><circle cx="355.1" cy="662.6" r="8.06"/><circle cx="356.2" cy="581.7" r="8.06"/><circle cx="356.6" cy="648.5" r="8.06"/><circle cx="356.1" cy="653.0" r="8.06"/><circle cx="357.4" cy="581.6" r="8.06"/><circle cx="358.0" cy="648.5" r="8.06"/><circle cx="357.5" cy="658.2" r="8.06"/><circle cx="358.7" cy="535.3" r="8.06"/><circle cx="358.9" cy="590.2" r="8.06"/><circle cx="358.7" cy="612.3" r="8.06"/><circle cx="358.2" cy="612.4" r="8.06"/><circle cx="358.3" cy="631.0" r="8.06"/><circle cx="358.3" cy="662.9" r="8.06"/><circle cx="358.5" cy="679.0" r="8.06"/><circle cx="359.6" cy="600.3" r="8.06"/><circle cx="359.1" cy="617.3" r="8.06"/><circle cx="359.0" cy="637.3" r="8.06"/><circle cx="359.7" cy="640.0" r="8.06"/><circle cx="359.1" cy="668.6" r="8.06"/><circle cx="359.3" cy="672.3" r="8.06"/><circle cx="360.9" cy="575.7" r="8.06"/><circle cx="360.0" cy="601.0" r="8.06"/><circle cx="360.5" cy="605.2" r="8.06"/><circle cx="361.3" cy="586.7" r="8.06"/><circle cx="361.9" cy="614.3" r="8.06"/><circle cx="361.3" cy="627.2" r="8.06"/><circle cx="361.2" cy="634.0" r="8.06"/><circle cx="361.7" cy="637.3" r="8.06"/><circle cx="361.7" cy="643.8" r="8.06"/><circle cx="361.8" cy="667.2" r="8.06"/><circle cx="361.5" cy="669.2" r="8.06"/><circle cx="362.7" cy="547.6" r="8.06"/><circle cx="362.1" cy="576.0" r="8.06"/><circle cx="362.2" cy="591.2" r="8.06"/><circle cx="362.7" cy="599.2" r="8.06"/><circle cx="362.8" cy="607.8" r="8.06"/><circle cx="362.1" cy="614.7" r="8.06"/><circle cx="362.7" cy="670.6" r="8.06"/><circle cx="364.0" cy="594.2" r="8.06"/><circle cx="363.4" cy="609.9" r="8.06"/><circle cx="364.0" cy="611.4" r="8.06"/><circle cx="363.5" cy="635.2" r="8.06"/><circle cx="363.8" cy="646.7" r="8.06"/><circle cx="363.9" cy="647.6" r="8.06"/><circle cx="363.8" cy="649.7" r="8.06"/><circle cx="364.0" cy="662.6" r="8.06"/><circle cx="363.3" cy="673.8" r="8.06"/><circle cx="364.0" cy="590.7" r="8.06"/><circle cx="364.8" cy="597.7" r="8.06"/><circle cx="364.6" cy="599.0" r="8.06"/><circle cx="364.1" cy="605.9" r="8.06"/><circle cx="364.8" cy="614.2" r="8.06"/><circle cx="364.2" cy="641.5" r="8.06"/><circle cx="364.4" cy="667.3" r="8.06"/><circle cx="364.8" cy="668.7" r="8.06"/><circle cx="365.6" cy="591.0" r="8.06"/><circle cx="365.1" cy="620.6" r="8.06"/><circle cx="365.4" cy="639.3" r="8.06"/><circle cx="366.2" cy="608.5" r="8.06"/><circle cx="366.2" cy="631.0" r="8.06"/><circle cx="366.1" cy="667.8" r="8.06"/><circle cx="367.7" cy="578.8" r="8.06"/><circle cx="367.7" cy="589.9" r="8.06"/><circle cx="367.8" cy="602.7" r="8.06"/><circle cx="367.1" cy="611.0" r="8.06"/><circle cx="367.2" cy="624.6" r="8.06"/><circle cx="367.4" cy="625.2" r="8.06"/><circle cx="367.6" cy="636.8" r="8.06"/><circle cx="367.3" cy="644.7" r="8.06"/><circle cx="367.0" cy="648.3" r="8.06"/><circle cx="367.3" cy="649.8" r="8.06"/><circle cx="367.6" cy="655.9" r="8.06"/><circle cx="367.6" cy="662.1" r="8.06"/><circle cx="368.9" cy="563.3" r="8.06"/><circle cx="368.7" cy="615.5" r="8.06"/><circle cx="368.2" cy="623.1" r="8.06"/><circle cx="368.9" cy="666.2" r="8.06"/><circle cx="369.9" cy="554.9" r="8.06"/><circle cx="369.7" cy="595.5" r="8.06"/><circle cx="369.0" cy="606.5" r="8.06"/><circle cx="369.9" cy="606.4" r="8.06"/><circle cx="369.2" cy="622.0" r="8.06"/><circle cx="369.9" cy="624.5" r="8.06"/><circle cx="369.5" cy="637.0" r="8.06"/><circle cx="369.4" cy="640.4" r="8.06"/><circle cx="370.9" cy="542.5" r="8.06"/><circle cx="370.1" cy="566.7" r="8.06"/><circle cx="371.0" cy="589.1" r="8.06"/><circle cx="370.7" cy="640.4" r="8.06"/><circle cx="371.2" cy="553.0" r="8.06"/><circle cx="372.0" cy="577.2" r="8.06"/><circle cx="371.1" cy="581.5" r="8.06"/><circle cx="371.7" cy="593.6" r="8.06"/><circle cx="371.5" cy="610.3" r="8.06"/><circle cx="371.0" cy="622.9" r="8.06"/><circle cx="371.4" cy="632.1" r="8.06"/><circle cx="371.0" cy="634.9" r="8.06"/><circle cx="371.6" cy="637.4" r="8.06"/><circle cx="371.4" cy="650.2" r="8.06"/><circle cx="372.6" cy="585.8" r="8.06"/><circle cx="372.5" cy="603.7" r="8.06"/><circle cx="372.8" cy="604.1" r="8.06"/><circle cx="372.3" cy="617.5" r="8.06"/><circle cx="372.3" cy="620.7" r="8.06"/><circle cx="373.4" cy="588.4" r="8.06"/><circle cx="373.9" cy="607.6" r="8.06"/><circle cx="373.4" cy="627.2" r="8.06"/><circle cx="373.3" cy="647.3" r="8.06"/><circle cx="374.8" cy="559.9" r="8.06"/><circle cx="374.3" cy="562.6" r="8.06"/><circle cx="374.9" cy="604.5" r="8.06"/><circle cx="374.4" cy="636.8" r="8.06"/><circle cx="374.7" cy="638.9" r="8.06"/><circle cx="375.4" cy="579.2" r="8.06"/><circle cx="375.3" cy="629.4" r="8.06"/><circle cx="375.5" cy="633.6" r="8.06"/><circle cx="375.7" cy="642.9" r="8.06"/><circle cx="375.0" cy="649.6" r="8.06"/><circle cx="375.4" cy="662.3" r="8.06"/><circle cx="376.2" cy="539.1" r="8.06"/><circle cx="376.5" cy="553.2" r="8.06"/><circle cx="376.9" cy="573.8" r="8.06"/><circle cx="376.9" cy="601.1" r="8.06"/><circle cx="376.5" cy="602.2" r="8.06"/><circle cx="376.1" cy="609.9" r="8.06"/><circle cx="376.3" cy="633.0" r="8.06"/><circle cx="376.9" cy="654.1" r="8.06"/><circle cx="377.4" cy="576.4" r="8.06"/><circle cx="377.8" cy="607.7" r="8.06"/><circle cx="377.6" cy="627.9" r="8.06"/><circle cx="377.9" cy="642.9" r="8.06"/><circle cx="377.2" cy="660.5" r="8.06"/><circle cx="377.5" cy="664.1" r="8.06"/><circle cx="378.4" cy="567.8" r="8.06"/><circle cx="379.0" cy="613.4" r="8.06"/><circle cx="378.7" cy="634.2" r="8.06"/><circle cx="378.2" cy="645.2" r="8.06"/><circle cx="378.3" cy="651.0" r="8.06"/><circle cx="378.9" cy="653.3" r="8.06"/><circle cx="378.3" cy="663.7" r="8.06"/><circle cx="379.1" cy="542.8" r="8.06"/><circle cx="379.3" cy="576.9" r="8.06"/><circle cx="380.0" cy="582.1" r="8.06"/><circle cx="379.8" cy="590.0" r="8.06"/><circle cx="379.9" cy="593.6" r="8.06"/><circle cx="379.2" cy="599.3" r="8.06"/><circle cx="379.7" cy="625.3" r="8.06"/><circle cx="379.8" cy="648.1" r="8.06"/><circle cx="380.4" cy="568.3" r="8.06"/><circle cx="381.0" cy="574.7" r="8.06"/><circle cx="380.5" cy="576.8" r="8.06"/><circle cx="380.5" cy="579.8" r="8.06"/><circle cx="380.5" cy="585.6" r="8.06"/><circle cx="380.6" cy="599.6" r="8.06"/><circle cx="380.7" cy="637.6" r="8.06"/><circle cx="380.1" cy="647.2" r="8.06"/><circle cx="381.6" cy="558.7" r="8.06"/><circle cx="381.9" cy="584.0" r="8.06"/><circle cx="381.9" cy="613.1" r="8.06"/><circle cx="381.6" cy="662.3" r="8.06"/><circle cx="382.2" cy="554.4" r="8.06"/><circle cx="382.7" cy="569.2" r="8.06"/><circle cx="382.9" cy="587.1" r="8.06"/><circle cx="382.2" cy="616.5" r="8.06"/><circle cx="382.8" cy="660.2" r="8.06"/><circle cx="383.3" cy="595.2" r="8.06"/><circle cx="383.2" cy="607.6" r="8.06"/><circle cx="384.7" cy="542.3" r="8.06"/><circle cx="384.1" cy="555.6" r="8.06"/><circle cx="384.2" cy="594.4" r="8.06"/><circle cx="385.0" cy="608.6" r="8.06"/><circle cx="384.2" cy="627.7" r="8.06"/><circle cx="385.5" cy="580.9" r="8.06"/><circle cx="385.6" cy="580.3" r="8.06"/><circle cx="385.0" cy="581.0" r="8.06"/><circle cx="386.8" cy="547.2" r="8.06"/><circle cx="386.8" cy="556.5" r="8.06"/><circle cx="386.2" cy="580.1" r="8.06"/><circle cx="386.5" cy="585.7" r="8.06"/><circle cx="386.1" cy="587.7" r="8.06"/><circle cx="386.8" cy="657.1" r="8.06"/><circle cx="387.5" cy="595.5" r="8.06"/><circle cx="387.2" cy="596.8" r="8.06"/><circle cx="387.2" cy="621.7" r="8.06"/><circle cx="387.7" cy="627.1" r="8.06"/><circle cx="387.7" cy="644.0" r="8.06"/><circle cx="387.5" cy="660.7" r="8.06"/><circle cx="388.6" cy="554.5" r="8.06"/><circle cx="388.1" cy="586.3" r="8.06"/><circle cx="388.4" cy="587.3" r="8.06"/><circle cx="388.5" cy="596.4" r="8.06"/><circle cx="388.9" cy="600.3" r="8.06"/><circle cx="388.2" cy="610.9" r="8.06"/><circle cx="388.8" cy="616.4" r="8.06"/><circle cx="388.2" cy="632.1" r="8.06"/><circle cx="388.8" cy="652.5" r="8.06"/><circle cx="388.3" cy="660.8" r="8.06"/><circle cx="389.2" cy="558.4" r="8.06"/><circle cx="389.3" cy="595.9" r="8.06"/><circle cx="389.5" cy="615.5" r="8.06"/><circle cx="389.7" cy="621.5" r="8.06"/><circle cx="389.3" cy="624.4" r="8.06"/><circle cx="389.7" cy="649.6" r="8.06"/><circle cx="389.2" cy="665.5" r="8.06"/><circle cx="390.5" cy="591.8" r="8.06"/><circle cx="390.3" cy="621.8" r="8.06"/><circle cx="391.5" cy="566.7" r="8.06"/><circle cx="391.8" cy="571.7" r="8.06"/><circle cx="391.4" cy="608.9" r="8.06"/><circle cx="391.9" cy="615.0" r="8.06"/><circle cx="391.4" cy="629.5" r="8.06"/><circle cx="392.0" cy="635.8" r="8.06"/><circle cx="392.2" cy="563.5" r="8.06"/><circle cx="392.0" cy="592.3" r="8.06"/><circle cx="392.0" cy="608.9" r="8.06"/><circle cx="392.5" cy="653.3" r="8.06"/><circle cx="393.0" cy="596.8" r="8.06"/><circle cx="393.4" cy="610.7" r="8.06"/><circle cx="393.2" cy="613.0" r="8.06"/><circle cx="393.0" cy="652.5" r="8.06"/><circle cx="394.1" cy="583.4" r="8.06"/><circle cx="394.6" cy="611.7" r="8.06"/><circle cx="394.5" cy="617.3" r="8.06"/><circle cx="394.5" cy="638.3" r="8.06"/><circle cx="394.3" cy="641.3" r="8.06"/><circle cx="395.5" cy="591.2" r="8.06"/><circle cx="395.7" cy="595.1" r="8.06"/><circle cx="395.3" cy="609.7" r="8.06"/><circle cx="395.9" cy="628.9" r="8.06"/><circle cx="395.5" cy="633.6" r="8.06"/><circle cx="395.2" cy="647.7" r="8.06"/><circle cx="396.4" cy="586.0" r="8.06"/><circle cx="396.0" cy="590.9" r="8.06"/><circle cx="396.7" cy="594.3" r="8.06"/><circle cx="396.8" cy="608.6" r="8.06"/><circle cx="396.3" cy="609.7" r="8.06"/><circle cx="396.9" cy="610.2" r="8.06"/><circle cx="396.9" cy="612.1" r="8.06"/><circle cx="397.8" cy="583.5" r="8.06"/><circle cx="397.1" cy="617.7" r="8.06"/><circle cx="397.6" cy="625.0" r="8.06"/><circle cx="397.4" cy="636.9" r="8.06"/><circle cx="397.2" cy="638.2" r="8.06"/><circle cx="397.1" cy="643.6" r="8.06"/><circle cx="398.9" cy="573.5" r="8.06"/><circle cx="398.8" cy="603.0" r="8.06"/><circle cx="398.1" cy="628.9" r="8.06"/><circle cx="398.0" cy="656.8" r="8.06"/><circle cx="399.8" cy="599.4" r="8.06"/><circle cx="399.8" cy="615.6" r="8.06"/><circle cx="399.7" cy="641.3" r="8.06"/><circle cx="400.7" cy="617.0" r="8.06"/><circle cx="400.6" cy="646.8" r="8.06"/><circle cx="401.9" cy="579.2" r="8.06"/><circle cx="401.3" cy="598.4" r="8.06"/><circle cx="401.1" cy="599.6" r="8.06"/><circle cx="401.3" cy="612.0" r="8.06"/><circle cx="402.0" cy="611.9" r="8.06"/><circle cx="401.1" cy="620.2" r="8.06"/><circle cx="402.8" cy="587.8" r="8.06"/><circle cx="402.6" cy="627.8" r="8.06"/><circle cx="402.4" cy="656.3" r="8.06"/><circle cx="403.3" cy="569.8" r="8.06"/><circle cx="403.9" cy="574.8" r="8.06"/><circle cx="403.9" cy="583.9" r="8.06"/><circle cx="403.5" cy="597.0" r="8.06"/><circle cx="403.6" cy="601.1" r="8.06"/><circle cx="403.4" cy="627.5" r="8.06"/><circle cx="404.0" cy="637.1" r="8.06"/><circle cx="404.2" cy="566.3" r="8.06"/><circle cx="404.3" cy="589.3" r="8.06"/><circle cx="404.1" cy="614.5" r="8.06"/><circle cx="404.5" cy="632.8" r="8.06"/><circle cx="404.6" cy="636.5" r="8.06"/><circle cx="405.2" cy="569.8" r="8.06"/><circle cx="405.8" cy="592.5" r="8.06"/><circle cx="405.3" cy="595.7" r="8.06"/><circle cx="405.8" cy="596.9" r="8.06"/><circle cx="405.5" cy="598.5" r="8.06"/><circle cx="405.1" cy="604.7" r="8.06"/><circle cx="405.9" cy="610.0" r="8.06"/><circle cx="405.1" cy="622.1" r="8.06"/><circle cx="405.3" cy="647.9" r="8.06"/><circle cx="406.3" cy="574.1" r="8.06"/><circle cx="406.4" cy="628.6" r="8.06"/><circle cx="406.2" cy="649.0" r="8.06"/><circle cx="407.8" cy="588.0" r="8.06"/><circle cx="407.6" cy="601.9" r="8.06"/><circle cx="407.4" cy="625.7" r="8.06"/><circle cx="407.5" cy="639.1" r="8.06"/><circle cx="407.5" cy="642.0" r="8.06"/><circle cx="408.7" cy="573.9" r="8.06"/><circle cx="408.6" cy="618.4" r="8.06"/><circle cx="408.9" cy="626.5" r="8.06"/><circle cx="408.1" cy="648.4" r="8.06"/><circle cx="408.7" cy="649.6" r="8.06"/><circle cx="409.6" cy="578.2" r="8.06"/><circle cx="409.7" cy="586.6" r="8.06"/><circle cx="410.5" cy="559.6" r="8.06"/><circle cx="410.9" cy="567.8" r="8.06"/><circle cx="410.9" cy="589.4" r="8.06"/><circle cx="411.7" cy="552.3" r="8.06"/><circle cx="411.9" cy="566.5" r="8.06"/><circle cx="411.8" cy="584.2" r="8.06"/><circle cx="411.1" cy="588.2" r="8.06"/><circle cx="411.6" cy="596.0" r="8.06"/><circle cx="411.4" cy="638.2" r="8.06"/><circle cx="411.3" cy="649.2" r="8.06"/><circle cx="412.9" cy="576.5" r="8.06"/><circle cx="412.8" cy="611.2" r="8.06"/><circle cx="412.3" cy="615.9" r="8.06"/><circle cx="412.8" cy="647.1" r="8.06"/><circle cx="413.4" cy="514.9" r="8.06"/><circle cx="413.4" cy="581.8" r="8.06"/><circle cx="413.6" cy="618.0" r="8.06"/><circle cx="413.9" cy="622.7" r="8.06"/><circle cx="414.7" cy="553.4" r="8.06"/><circle cx="414.9" cy="585.5" r="8.06"/><circle cx="414.4" cy="599.5" r="8.06"/><circle cx="414.9" cy="617.4" r="8.06"/><circle cx="414.9" cy="623.8" r="8.06"/><circle cx="415.6" cy="571.1" r="8.06"/><circle cx="415.3" cy="573.7" r="8.06"/><circle cx="415.6" cy="575.4" r="8.06"/><circle cx="415.2" cy="580.7" r="8.06"/><circle cx="415.1" cy="585.8" r="8.06"/><circle cx="415.7" cy="587.9" r="8.06"/><circle cx="416.0" cy="622.0" r="8.06"/><circle cx="416.3" cy="591.6" r="8.06"/><circle cx="416.7" cy="613.0" r="8.06"/><circle cx="416.7" cy="623.6" r="8.06"/><circle cx="416.8" cy="631.6" r="8.06"/><circle cx="416.4" cy="647.8" r="8.06"/><circle cx="417.7" cy="559.7" r="8.06"/><circle cx="417.5" cy="569.5" r="8.06"/><circle cx="417.4" cy="581.8" r="8.06"/><circle cx="417.8" cy="594.0" r="8.06"/><circle cx="418.1" cy="575.1" r="8.06"/><circle cx="418.6" cy="577.4" r="8.06"/><circle cx="418.7" cy="585.4" r="8.06"/><circle cx="418.4" cy="595.6" r="8.06"/><circle cx="418.2" cy="600.0" r="8.06"/><circle cx="418.2" cy="601.7" r="8.06"/><circle cx="418.2" cy="640.4" r="8.06"/><circle cx="418.2" cy="657.6" r="8.06"/><circle cx="419.4" cy="543.9" r="8.06"/><circle cx="419.2" cy="589.0" r="8.06"/><circle cx="419.3" cy="590.1" r="8.06"/><circle cx="419.9" cy="598.8" r="8.06"/><circle cx="419.5" cy="618.4" r="8.06"/><circle cx="419.4" cy="627.2" r="8.06"/><circle cx="419.9" cy="630.0" r="8.06"/><circle cx="420.2" cy="590.7" r="8.06"/><circle cx="420.2" cy="602.8" r="8.06"/><circle cx="420.4" cy="603.6" r="8.06"/><circle cx="420.3" cy="629.0" r="8.06"/><circle cx="420.5" cy="644.4" r="8.06"/><circle cx="421.4" cy="561.4" r="8.06"/><circle cx="421.4" cy="606.8" r="8.06"/><circle cx="421.6" cy="608.3" r="8.06"/><circle cx="421.2" cy="628.9" r="8.06"/><circle cx="422.9" cy="578.8" r="8.06"/><circle cx="422.2" cy="596.7" r="8.06"/><circle cx="422.3" cy="620.8" r="8.06"/><circle cx="422.0" cy="642.1" r="8.06"/><circle cx="422.5" cy="643.2" r="8.06"/><circle cx="424.2" cy="578.2" r="8.06"/><circle cx="424.0" cy="593.9" r="8.06"/><circle cx="424.8" cy="602.6" r="8.06"/><circle cx="424.6" cy="604.0" r="8.06"/><circle cx="424.5" cy="621.9" r="8.06"/><circle cx="424.4" cy="629.0" r="8.06"/><circle cx="425.0" cy="634.0" r="8.06"/><circle cx="425.3" cy="569.7" r="8.06"/><circle cx="425.6" cy="601.8" r="8.06"/><circle cx="425.8" cy="619.8" r="8.06"/><circle cx="425.3" cy="624.7" r="8.06"/><circle cx="425.4" cy="638.3" r="8.06"/><circle cx="425.6" cy="644.7" r="8.06"/><circle cx="425.9" cy="649.4" r="8.06"/><circle cx="426.9" cy="597.2" r="8.06"/><circle cx="426.5" cy="600.7" r="8.06"/><circle cx="426.4" cy="614.7" r="8.06"/><circle cx="426.5" cy="621.0" r="8.06"/><circle cx="426.7" cy="630.5" r="8.06"/><circle cx="427.4" cy="568.3" r="8.06"/><circle cx="427.1" cy="579.1" r="8.06"/><circle cx="427.8" cy="603.2" r="8.06"/><circle cx="427.6" cy="613.1" r="8.06"/><circle cx="427.4" cy="619.3" r="8.06"/><circle cx="427.5" cy="642.8" r="8.06"/><circle cx="427.5" cy="649.8" r="8.06"/><circle cx="428.7" cy="616.7" r="8.06"/><circle cx="429.6" cy="572.7" r="8.06"/><circle cx="429.2" cy="589.3" r="8.06"/><circle cx="429.4" cy="600.9" r="8.06"/><circle cx="429.2" cy="639.5" r="8.06"/><circle cx="429.4" cy="643.4" r="8.06"/><circle cx="430.0" cy="647.0" r="8.06"/><circle cx="430.5" cy="565.7" r="8.06"/><circle cx="430.0" cy="594.4" r="8.06"/><circle cx="430.5" cy="630.0" r="8.06"/><circle cx="431.8" cy="555.0" r="8.06"/><circle cx="431.7" cy="569.8" r="8.06"/><circle cx="431.3" cy="608.6" r="8.06"/><circle cx="431.6" cy="622.7" r="8.06"/><circle cx="431.8" cy="645.7" r="8.06"/><circle cx="432.6" cy="546.5" r="8.06"/><circle cx="432.3" cy="586.5" r="8.06"/><circle cx="433.0" cy="607.3" r="8.06"/><circle cx="432.7" cy="608.0" r="8.06"/><circle cx="433.0" cy="625.3" r="8.06"/><circle cx="433.2" cy="572.5" r="8.06"/><circle cx="433.5" cy="649.5" r="8.06"/><circle cx="434.1" cy="575.7" r="8.06"/><circle cx="434.3" cy="587.5" r="8.06"/><circle cx="434.4" cy="604.6" r="8.06"/><circle cx="434.2" cy="609.3" r="8.06"/><circle cx="434.8" cy="616.7" r="8.06"/><circle cx="434.1" cy="617.1" r="8.06"/><circle cx="435.0" cy="572.0" r="8.06"/><circle cx="435.0" cy="598.8" r="8.06"/><circle cx="435.1" cy="614.4" r="8.06"/><circle cx="435.8" cy="639.9" r="8.06"/><circle cx="436.5" cy="570.8" r="8.06"/><circle cx="436.7" cy="590.3" r="8.06"/><circle cx="437.0" cy="610.3" r="8.06"/><circle cx="436.5" cy="624.6" r="8.06"/><circle cx="437.0" cy="626.2" r="8.06"/><circle cx="437.3" cy="591.1" r="8.06"/><circle cx="437.4" cy="598.1" r="8.06"/><circle cx="437.9" cy="627.9" r="8.06"/><circle cx="437.9" cy="633.5" r="8.06"/><circle cx="437.8" cy="638.1" r="8.06"/><circle cx="438.6" cy="591.8" r="8.06"/><circle cx="438.4" cy="640.7" r="8.06"/><circle cx="439.8" cy="568.9" r="8.06"/><circle cx="439.7" cy="600.5" r="8.06"/><circle cx="439.8" cy="605.6" r="8.06"/><circle cx="439.9" cy="607.3" r="8.06"/><circle cx="439.3" cy="607.1" r="8.06"/><circle cx="441.0" cy="525.3" r="8.06"/><circle cx="440.7" cy="564.3" r="8.06"/><circle cx="440.2" cy="569.0" r="8.06"/><circle cx="440.6" cy="571.8" r="8.06"/><circle cx="440.3" cy="601.0" r="8.06"/><circle cx="440.1" cy="615.4" r="8.06"/><circle cx="441.8" cy="619.4" r="8.06"/><circle cx="441.7" cy="625.7" r="8.06"/><circle cx="442.5" cy="569.3" r="8.06"/><circle cx="442.2" cy="576.6" r="8.06"/><circle cx="442.9" cy="589.5" r="8.06"/><circle cx="442.2" cy="600.3" r="8.06"/><circle cx="442.5" cy="627.6" r="8.06"/><circle cx="443.1" cy="580.3" r="8.06"/><circle cx="443.9" cy="603.8" r="8.06"/><circle cx="443.2" cy="610.7" r="8.06"/><circle cx="443.8" cy="615.8" r="8.06"/><circle cx="443.3" cy="630.4" r="8.06"/><circle cx="444.0" cy="633.2" r="8.06"/><circle cx="443.9" cy="638.1" r="8.06"/><circle cx="444.4" cy="570.8" r="8.06"/><circle cx="444.3" cy="580.1" r="8.06"/><circle cx="444.6" cy="600.8" r="8.06"/><circle cx="444.8" cy="626.9" r="8.06"/><circle cx="444.2" cy="627.2" r="8.06"/><circle cx="444.3" cy="638.2" r="8.06"/><circle cx="445.9" cy="587.0" r="8.06"/><circle cx="445.2" cy="594.9" r="8.06"/><circle cx="446.5" cy="579.1" r="8.06"/><circle cx="446.9" cy="602.9" r="8.06"/><circle cx="446.7" cy="603.3" r="8.06"/><circle cx="446.2" cy="606.8" r="8.06"/><circle cx="446.1" cy="625.0" r="8.06"/><circle cx="447.3" cy="543.0" r="8.06"/><circle cx="447.5" cy="569.4" r="8.06"/><circle cx="447.9" cy="588.6" r="8.06"/><circle cx="447.1" cy="599.6" r="8.06"/><circle cx="447.7" cy="610.5" r="8.06"/><circle cx="447.1" cy="612.1" r="8.06"/><circle cx="447.7" cy="636.3" r="8.06"/><circle cx="448.0" cy="638.9" r="8.06"/><circle cx="447.1" cy="648.3" r="8.06"/><circle cx="448.0" cy="566.5" r="8.06"/><circle cx="448.3" cy="595.5" r="8.06"/><circle cx="448.1" cy="600.4" r="8.06"/><circle cx="448.3" cy="606.9" r="8.06"/><circle cx="448.2" cy="613.4" r="8.06"/><circle cx="448.9" cy="630.2" r="8.06"/><circle cx="448.1" cy="633.2" r="8.06"/><circle cx="449.2" cy="554.0" r="8.06"/><circle cx="449.4" cy="567.4" r="8.06"/><circle cx="449.6" cy="568.6" r="8.06"/><circle cx="449.3" cy="591.0" r="8.06"/><circle cx="449.6" cy="605.5" r="8.06"/><circle cx="450.0" cy="619.9" r="8.06"/><circle cx="449.9" cy="634.1" r="8.06"/><circle cx="449.3" cy="635.0" r="8.06"/><circle cx="450.1" cy="560.2" r="8.06"/><circle cx="451.7" cy="590.4" r="8.06"/><circle cx="452.0" cy="634.6" r="8.06"/><circle cx="452.9" cy="565.9" r="8.06"/><circle cx="452.1" cy="592.4" r="8.06"/><circle cx="452.2" cy="617.2" r="8.06"/><circle cx="452.0" cy="627.5" r="8.06"/><circle cx="453.5" cy="565.5" r="8.06"/><circle cx="454.2" cy="557.0" r="8.06"/><circle cx="454.7" cy="587.6" r="8.06"/><circle cx="454.6" cy="593.9" r="8.06"/><circle cx="454.8" cy="607.4" r="8.06"/><circle cx="455.4" cy="552.9" r="8.06"/><circle cx="455.1" cy="577.4" r="8.06"/><circle cx="455.0" cy="589.6" r="8.06"/><circle cx="455.5" cy="617.4" r="8.06"/><circle cx="455.2" cy="623.0" r="8.06"/><circle cx="455.5" cy="625.9" r="8.06"/><circle cx="457.0" cy="582.2" r="8.06"/><circle cx="456.3" cy="589.4" r="8.06"/><circle cx="456.0" cy="598.7" r="8.06"/><circle cx="456.9" cy="615.7" r="8.06"/><circle cx="456.6" cy="636.1" r="8.06"/><circle cx="456.3" cy="636.4" r="8.06"/><circle cx="457.4" cy="563.2" r="8.06"/><circle cx="457.8" cy="569.8" r="8.06"/><circle cx="457.0" cy="571.4" r="8.06"/><circle cx="457.1" cy="590.0" r="8.06"/><circle cx="457.2" cy="608.7" r="8.06"/><circle cx="457.8" cy="624.0" r="8.06"/><circle cx="457.0" cy="627.0" r="8.06"/><circle cx="458.9" cy="523.0" r="8.06"/><circle cx="458.4" cy="604.1" r="8.06"/><circle cx="458.1" cy="624.4" r="8.06"/><circle cx="458.4" cy="634.3" r="8.06"/><circle cx="459.3" cy="579.3" r="8.06"/><circle cx="459.4" cy="603.7" r="8.06"/><circle cx="460.8" cy="551.2" r="8.06"/><circle cx="461.0" cy="577.0" r="8.06"/><circle cx="460.8" cy="579.1" r="8.06"/><circle cx="460.3" cy="598.0" r="8.06"/><circle cx="460.7" cy="620.8" r="8.06"/><circle cx="462.1" cy="554.4" r="8.06"/><circle cx="462.1" cy="557.9" r="8.06"/><circle cx="462.3" cy="558.6" r="8.06"/><circle cx="462.1" cy="564.8" r="8.06"/><circle cx="462.5" cy="575.0" r="8.06"/><circle cx="462.2" cy="616.6" r="8.06"/><circle cx="463.5" cy="569.0" r="8.06"/><circle cx="463.6" cy="593.9" r="8.06"/><circle cx="463.4" cy="600.9" r="8.06"/><circle cx="464.2" cy="532.5" r="8.06"/><circle cx="464.5" cy="573.8" r="8.06"/><circle cx="464.2" cy="599.0" r="8.06"/><circle cx="464.0" cy="621.9" r="8.06"/><circle cx="464.3" cy="635.1" r="8.06"/><circle cx="465.2" cy="560.5" r="8.06"/><circle cx="465.7" cy="574.4" r="8.06"/><circle cx="465.5" cy="576.4" r="8.06"/><circle cx="465.5" cy="598.3" r="8.06"/><circle cx="465.9" cy="603.3" r="8.06"/><circle cx="466.9" cy="561.2" r="8.06"/><circle cx="466.7" cy="577.1" r="8.06"/><circle cx="466.7" cy="614.0" r="8.06"/><circle cx="466.1" cy="622.0" r="8.06"/><circle cx="466.8" cy="625.0" r="8.06"/><circle cx="467.5" cy="558.3" r="8.06"/><circle cx="467.1" cy="603.7" r="8.06"/><circle cx="467.8" cy="607.0" r="8.06"/><circle cx="468.4" cy="575.5" r="8.06"/><circle cx="468.8" cy="592.7" r="8.06"/><circle cx="468.1" cy="613.7" r="8.06"/><circle cx="468.6" cy="626.2" r="8.06"/><circle cx="469.6" cy="530.3" r="8.06"/><circle cx="469.6" cy="559.0" r="8.06"/><circle cx="469.4" cy="572.0" r="8.06"/><circle cx="469.4" cy="572.0" r="8.06"/><circle cx="469.5" cy="579.8" r="8.06"/><circle cx="470.1" cy="569.8" r="8.06"/><circle cx="470.3" cy="606.3" r="8.06"/><circle cx="470.8" cy="610.3" r="8.06"/><circle cx="470.2" cy="631.2" r="8.06"/><circle cx="471.1" cy="574.6" r="8.06"/><circle cx="471.9" cy="589.8" r="8.06"/><circle cx="471.4" cy="610.9" r="8.06"/><circle cx="471.5" cy="622.8" r="8.06"/><circle cx="471.5" cy="624.9" r="8.06"/><circle cx="472.5" cy="629.0" r="8.06"/><circle cx="473.2" cy="538.3" r="8.06"/><circle cx="473.4" cy="577.9" r="8.06"/><circle cx="473.3" cy="600.8" r="8.06"/><circle cx="474.0" cy="601.6" r="8.06"/><circle cx="473.8" cy="606.6" r="8.06"/><circle cx="473.6" cy="619.5" r="8.06"/><circle cx="473.4" cy="628.1" r="8.06"/><circle cx="473.2" cy="630.9" r="8.06"/><circle cx="473.4" cy="635.2" r="8.06"/><circle cx="474.3" cy="604.9" r="8.06"/><circle cx="474.7" cy="610.9" r="8.06"/><circle cx="474.8" cy="628.2" r="8.06"/><circle cx="474.1" cy="631.0" r="8.06"/><circle cx="474.3" cy="632.3" r="8.06"/><circle cx="475.2" cy="535.5" r="8.06"/><circle cx="475.6" cy="564.0" r="8.06"/><circle cx="475.7" cy="572.9" r="8.06"/><circle cx="475.9" cy="589.3" r="8.06"/><circle cx="475.6" cy="605.4" r="8.06"/><circle cx="476.4" cy="548.9" r="8.06"/><circle cx="476.2" cy="564.7" r="8.06"/><circle cx="476.3" cy="570.2" r="8.06"/><circle cx="476.5" cy="573.6" r="8.06"/><circle cx="477.0" cy="578.5" r="8.06"/><circle cx="476.4" cy="629.3" r="8.06"/><circle cx="478.0" cy="563.0" r="8.06"/><circle cx="477.4" cy="600.1" r="8.06"/><circle cx="477.9" cy="601.9" r="8.06"/><circle cx="478.0" cy="630.1" r="8.06"/><circle cx="478.3" cy="571.9" r="8.06"/><circle cx="478.8" cy="595.5" r="8.06"/><circle cx="478.3" cy="609.6" r="8.06"/><circle cx="478.3" cy="612.5" r="8.06"/><circle cx="478.6" cy="626.4" r="8.06"/><circle cx="479.8" cy="562.7" r="8.06"/><circle cx="479.4" cy="564.3" r="8.06"/><circle cx="479.0" cy="579.1" r="8.06"/><circle cx="479.8" cy="590.7" r="8.06"/><circle cx="480.0" cy="607.0" r="8.06"/><circle cx="479.3" cy="608.2" r="8.06"/><circle cx="479.9" cy="628.6" r="8.06"/><circle cx="480.1" cy="566.6" r="8.06"/><circle cx="480.3" cy="581.2" r="8.06"/><circle cx="481.1" cy="558.4" r="8.06"/><circle cx="481.1" cy="570.6" r="8.06"/><circle cx="481.7" cy="575.3" r="8.06"/><circle cx="481.3" cy="597.0" r="8.06"/><circle cx="481.4" cy="602.2" r="8.06"/><circle cx="481.5" cy="610.8" r="8.06"/><circle cx="481.8" cy="610.9" r="8.06"/><circle cx="482.8" cy="589.5" r="8.06"/><circle cx="482.9" cy="624.8" r="8.06"/><circle cx="483.4" cy="561.2" r="8.06"/><circle cx="483.7" cy="585.1" r="8.06"/><circle cx="483.9" cy="603.8" r="8.06"/><circle cx="483.5" cy="605.9" r="8.06"/><circle cx="483.5" cy="619.6" r="8.06"/><circle cx="483.5" cy="620.9" r="8.06"/><circle cx="484.9" cy="573.0" r="8.06"/><circle cx="484.5" cy="575.6" r="8.06"/><circle cx="484.2" cy="596.6" r="8.06"/><circle cx="485.9" cy="509.8" r="8.06"/><circle cx="485.9" cy="565.7" r="8.06"/><circle cx="485.9" cy="570.5" r="8.06"/><circle cx="485.7" cy="601.7" r="8.06"/><circle cx="485.9" cy="606.1" r="8.06"/><circle cx="486.3" cy="587.1" r="8.06"/><circle cx="486.2" cy="589.9" r="8.06"/><circle cx="486.8" cy="603.4" r="8.06"/><circle cx="487.0" cy="614.9" r="8.06"/><circle cx="486.8" cy="621.7" r="8.06"/><circle cx="487.2" cy="591.0" r="8.06"/><circle cx="487.9" cy="623.3" r="8.06"/><circle cx="487.0" cy="627.8" r="8.06"/><circle cx="488.1" cy="596.8" r="8.06"/><circle cx="488.6" cy="603.2" r="8.06"/><circle cx="488.2" cy="621.9" r="8.06"/><circle cx="488.3" cy="625.5" r="8.06"/><circle cx="489.4" cy="573.4" r="8.06"/><circle cx="489.4" cy="595.3" r="8.06"/><circle cx="490.0" cy="606.8" r="8.06"/><circle cx="490.3" cy="538.9" r="8.06"/><circle cx="490.5" cy="578.9" r="8.06"/><circle cx="490.6" cy="592.9" r="8.06"/><circle cx="491.2" cy="560.2" r="8.06"/><circle cx="491.7" cy="569.4" r="8.06"/><circle cx="491.2" cy="604.4" r="8.06"/><circle cx="491.6" cy="634.7" r="8.06"/><circle cx="492.1" cy="555.4" r="8.06"/><circle cx="493.0" cy="579.4" r="8.06"/><circle cx="492.1" cy="580.4" r="8.06"/><circle cx="492.2" cy="603.0" r="8.06"/><circle cx="492.1" cy="609.1" r="8.06"/><circle cx="492.2" cy="622.8" r="8.06"/><circle cx="493.5" cy="567.2" r="8.06"/><circle cx="493.3" cy="583.7" r="8.06"/><circle cx="493.6" cy="584.9" r="8.06"/><circle cx="493.7" cy="600.1" r="8.06"/><circle cx="493.9" cy="617.8" r="8.06"/><circle cx="493.6" cy="628.4" r="8.06"/><circle cx="494.3" cy="573.6" r="8.06"/><circle cx="494.7" cy="578.9" r="8.06"/><circle cx="494.4" cy="601.4" r="8.06"/><circle cx="494.6" cy="612.4" r="8.06"/><circle cx="495.0" cy="555.7" r="8.06"/><circle cx="496.0" cy="600.9" r="8.06"/><circle cx="496.5" cy="535.4" r="8.06"/><circle cx="496.3" cy="544.5" r="8.06"/><circle cx="496.2" cy="587.2" r="8.06"/><circle cx="496.3" cy="602.3" r="8.06"/><circle cx="496.0" cy="618.7" r="8.06"/><circle cx="496.1" cy="625.6" r="8.06"/><circle cx="498.1" cy="563.4" r="8.06"/><circle cx="498.7" cy="591.9" r="8.06"/><circle cx="499.0" cy="610.0" r="8.06"/><circle cx="498.2" cy="623.5" r="8.06"/><circle cx="500.0" cy="570.4" r="8.06"/><circle cx="499.4" cy="601.4" r="8.06"/><circle cx="499.8" cy="612.5" r="8.06"/><circle cx="500.3" cy="563.1" r="8.06"/><circle cx="500.5" cy="567.5" r="8.06"/><circle cx="500.4" cy="612.0" r="8.06"/><circle cx="501.1" cy="542.7" r="8.06"/><circle cx="502.0" cy="585.1" r="8.06"/><circle cx="501.6" cy="589.7" r="8.06"/><circle cx="501.9" cy="593.6" r="8.06"/><circle cx="501.5" cy="623.4" r="8.06"/><circle cx="503.0" cy="545.1" r="8.06"/><circle cx="502.5" cy="609.5" r="8.06"/><circle cx="503.8" cy="549.3" r="8.06"/><circle cx="504.0" cy="558.7" r="8.06"/><circle cx="503.4" cy="606.1" r="8.06"/><circle cx="503.4" cy="614.2" r="8.06"/><circle cx="503.4" cy="622.0" r="8.06"/><circle cx="504.3" cy="537.2" r="8.06"/><circle cx="504.1" cy="577.2" r="8.06"/><circle cx="504.7" cy="583.6" r="8.06"/><circle cx="504.6" cy="614.6" r="8.06"/><circle cx="505.8" cy="549.9" r="8.06"/><circle cx="505.0" cy="576.7" r="8.06"/><circle cx="506.0" cy="592.8" r="8.06"/><circle cx="505.2" cy="604.9" r="8.06"/><circle cx="505.4" cy="610.2" r="8.06"/><circle cx="505.6" cy="612.6" r="8.06"/><circle cx="505.7" cy="618.9" r="8.06"/><circle cx="505.2" cy="621.4" r="8.06"/><circle cx="505.5" cy="635.4" r="8.06"/><circle cx="506.5" cy="564.5" r="8.06"/><circle cx="506.2" cy="567.7" r="8.06"/><circle cx="506.4" cy="587.1" r="8.06"/><circle cx="507.0" cy="600.2" r="8.06"/><circle cx="507.2" cy="577.0" r="8.06"/><circle cx="507.1" cy="595.5" r="8.06"/><circle cx="507.6" cy="602.9" r="8.06"/><circle cx="507.1" cy="617.5" r="8.06"/><circle cx="507.2" cy="623.4" r="8.06"/><circle cx="508.9" cy="558.7" r="8.06"/><circle cx="508.7" cy="598.5" r="8.06"/><circle cx="508.9" cy="623.0" r="8.06"/><circle cx="509.5" cy="558.6" r="8.06"/><circle cx="509.5" cy="569.3" r="8.06"/><circle cx="509.4" cy="574.1" r="8.06"/><circle cx="509.4" cy="621.1" r="8.06"/><circle cx="510.5" cy="549.0" r="8.06"/><circle cx="510.1" cy="569.6" r="8.06"/><circle cx="510.7" cy="579.7" r="8.06"/><circle cx="510.3" cy="607.2" r="8.06"/><circle cx="511.0" cy="617.2" r="8.06"/><circle cx="510.4" cy="621.5" r="8.06"/><circle cx="511.8" cy="596.4" r="8.06"/><circle cx="512.5" cy="558.9" r="8.06"/><circle cx="512.9" cy="560.6" r="8.06"/><circle cx="512.4" cy="573.6" r="8.06"/><circle cx="512.3" cy="577.7" r="8.06"/><circle cx="512.7" cy="608.8" r="8.06"/><circle cx="512.7" cy="609.4" r="8.06"/><circle cx="512.5" cy="619.0" r="8.06"/><circle cx="513.2" cy="517.6" r="8.06"/><circle cx="513.7" cy="545.8" r="8.06"/><circle cx="513.3" cy="559.5" r="8.06"/><circle cx="513.6" cy="577.7" r="8.06"/><circle cx="513.8" cy="606.1" r="8.06"/><circle cx="513.0" cy="613.8" r="8.06"/><circle cx="513.3" cy="617.5" r="8.06"/><circle cx="513.5" cy="620.5" r="8.06"/><circle cx="514.3" cy="555.6" r="8.06"/><circle cx="514.2" cy="585.5" r="8.06"/><circle cx="514.2" cy="611.1" r="8.06"/><circle cx="514.9" cy="622.5" r="8.06"/><circle cx="515.4" cy="585.0" r="8.06"/><circle cx="515.6" cy="613.8" r="8.06"/><circle cx="516.7" cy="539.9" r="8.06"/><circle cx="517.7" cy="558.3" r="8.06"/><circle cx="517.7" cy="563.8" r="8.06"/><circle cx="517.7" cy="564.2" r="8.06"/><circle cx="517.4" cy="581.2" r="8.06"/><circle cx="517.9" cy="582.1" r="8.06"/><circle cx="518.0" cy="609.0" r="8.06"/><circle cx="518.8" cy="550.5" r="8.06"/><circle cx="518.5" cy="553.1" r="8.06"/><circle cx="518.4" cy="571.7" r="8.06"/><circle cx="518.1" cy="588.8" r="8.06"/><circle cx="518.9" cy="605.2" r="8.06"/><circle cx="519.2" cy="539.6" r="8.06"/><circle cx="519.7" cy="554.1" r="8.06"/><circle cx="519.9" cy="568.1" r="8.06"/><circle cx="519.8" cy="580.6" r="8.06"/><circle cx="520.3" cy="581.5" r="8.06"/><circle cx="520.2" cy="595.5" r="8.06"/><circle cx="520.8" cy="604.9" r="8.06"/><circle cx="520.4" cy="613.5" r="8.06"/><circle cx="520.0" cy="619.0" r="8.06"/><circle cx="521.2" cy="574.7" r="8.06"/><circle cx="521.3" cy="606.7" r="8.06"/><circle cx="522.7" cy="566.9" r="8.06"/><circle cx="522.4" cy="601.4" r="8.06"/><circle cx="522.2" cy="604.0" r="8.06"/><circle cx="523.4" cy="523.0" r="8.06"/><circle cx="523.9" cy="540.5" r="8.06"/><circle cx="523.6" cy="544.3" r="8.06"/><circle cx="523.7" cy="544.9" r="8.06"/><circle cx="523.9" cy="564.4" r="8.06"/><circle cx="523.6" cy="570.8" r="8.06"/><circle cx="523.7" cy="583.1" r="8.06"/><circle cx="523.7" cy="586.6" r="8.06"/><circle cx="523.3" cy="593.8" r="8.06"/><circle cx="523.4" cy="605.8" r="8.06"/><circle cx="523.3" cy="610.5" r="8.06"/><circle cx="524.3" cy="568.4" r="8.06"/><circle cx="524.6" cy="569.4" r="8.06"/><circle cx="525.0" cy="580.7" r="8.06"/><circle cx="524.2" cy="613.9" r="8.06"/><circle cx="524.3" cy="613.2" r="8.06"/><circle cx="524.9" cy="620.4" r="8.06"/><circle cx="525.6" cy="569.2" r="8.06"/><circle cx="525.1" cy="610.7" r="8.06"/><circle cx="525.1" cy="619.3" r="8.06"/><circle cx="525.0" cy="619.0" r="8.06"/><circle cx="526.7" cy="557.0" r="8.06"/><circle cx="526.5" cy="565.5" r="8.06"/><circle cx="526.3" cy="590.6" r="8.06"/><circle cx="526.6" cy="605.1" r="8.06"/><circle cx="526.7" cy="609.0" r="8.06"/><circle cx="526.0" cy="617.4" r="8.06"/><circle cx="527.4" cy="567.3" r="8.06"/><circle cx="527.9" cy="570.5" r="8.06"/><circle cx="527.0" cy="573.2" r="8.06"/><circle cx="527.4" cy="583.6" r="8.06"/><circle cx="528.0" cy="586.1" r="8.06"/><circle cx="527.7" cy="594.9" r="8.06"/><circle cx="527.1" cy="617.0" r="8.06"/><circle cx="528.6" cy="569.2" r="8.06"/><circle cx="528.9" cy="583.6" r="8.06"/><circle cx="528.9" cy="594.4" r="8.06"/><circle cx="528.6" cy="615.9" r="8.06"/><circle cx="529.7" cy="555.3" r="8.06"/><circle cx="529.7" cy="590.7" r="8.06"/><circle cx="529.3" cy="593.1" r="8.06"/><circle cx="530.0" cy="598.5" r="8.06"/><circle cx="529.9" cy="605.3" r="8.06"/><circle cx="529.8" cy="611.3" r="8.06"/><circle cx="529.2" cy="616.4" r="8.06"/><circle cx="530.6" cy="541.2" r="8.06"/><circle cx="530.5" cy="544.6" r="8.06"/><circle cx="530.7" cy="552.1" r="8.06"/><circle cx="530.9" cy="566.9" r="8.06"/><circle cx="530.1" cy="591.1" r="8.06"/><circle cx="531.7" cy="548.9" r="8.06"/><circle cx="531.5" cy="583.4" r="8.06"/><circle cx="532.7" cy="596.1" r="8.06"/><circle cx="532.2" cy="599.1" r="8.06"/><circle cx="532.1" cy="600.7" r="8.06"/><circle cx="533.7" cy="530.9" r="8.06"/><circle cx="533.8" cy="554.0" r="8.06"/><circle cx="533.5" cy="571.3" r="8.06"/><circle cx="533.1" cy="575.2" r="8.06"/><circle cx="533.4" cy="604.0" r="8.06"/><circle cx="533.5" cy="611.5" r="8.06"/><circle cx="533.9" cy="621.9" r="8.06"/><circle cx="534.1" cy="547.9" r="8.06"/><circle cx="534.4" cy="551.1" r="8.06"/><circle cx="534.1" cy="560.0" r="8.06"/><circle cx="534.8" cy="619.6" r="8.06"/><circle cx="534.7" cy="619.3" r="8.06"/><circle cx="535.0" cy="579.7" r="8.06"/><circle cx="535.2" cy="616.5" r="8.06"/><circle cx="536.4" cy="558.1" r="8.06"/><circle cx="536.8" cy="558.7" r="8.06"/><circle cx="536.5" cy="563.7" r="8.06"/><circle cx="536.3" cy="568.1" r="8.06"/><circle cx="536.0" cy="576.4" r="8.06"/><circle cx="536.3" cy="618.1" r="8.06"/><circle cx="537.9" cy="568.5" r="8.06"/><circle cx="537.5" cy="592.8" r="8.06"/><circle cx="537.0" cy="615.1" r="8.06"/><circle cx="538.4" cy="538.6" r="8.06"/><circle cx="538.7" cy="578.1" r="8.06"/><circle cx="538.6" cy="601.2" r="8.06"/><circle cx="538.2" cy="602.5" r="8.06"/><circle cx="538.8" cy="621.8" r="8.06"/><circle cx="539.6" cy="569.4" r="8.06"/><circle cx="540.8" cy="581.1" r="8.06"/><circle cx="541.3" cy="555.1" r="8.06"/><circle cx="541.5" cy="585.8" r="8.06"/><circle cx="541.8" cy="586.9" r="8.06"/><circle cx="541.6" cy="597.4" r="8.06"/><circle cx="541.0" cy="614.9" r="8.06"/><circle cx="542.6" cy="552.5" r="8.06"/><circle cx="542.8" cy="555.7" r="8.06"/><circle cx="542.1" cy="592.2" r="8.06"/><circle cx="542.8" cy="599.3" r="8.06"/><circle cx="543.0" cy="616.4" r="8.06"/><circle cx="543.2" cy="569.6" r="8.06"/><circle cx="543.5" cy="569.4" r="8.06"/><circle cx="543.6" cy="585.9" r="8.06"/><circle cx="543.8" cy="590.3" r="8.06"/><circle cx="543.0" cy="616.9" r="8.06"/><circle cx="544.5" cy="559.8" r="8.06"/><circle cx="544.5" cy="572.3" r="8.06"/><circle cx="544.7" cy="576.6" r="8.06"/><circle cx="544.8" cy="586.0" r="8.06"/><circle cx="545.2" cy="533.2" r="8.06"/><circle cx="545.2" cy="536.0" r="8.06"/><circle cx="546.0" cy="539.5" r="8.06"/><circle cx="545.9" cy="550.9" r="8.06"/><circle cx="545.1" cy="566.2" r="8.06"/><circle cx="545.0" cy="587.8" r="8.06"/><circle cx="545.8" cy="595.2" r="8.06"/><circle cx="546.0" cy="548.1" r="8.06"/><circle cx="546.6" cy="549.7" r="8.06"/><circle cx="546.7" cy="565.9" r="8.06"/><circle cx="547.8" cy="547.7" r="8.06"/><circle cx="547.8" cy="580.4" r="8.06"/><circle cx="547.4" cy="612.6" r="8.06"/><circle cx="547.7" cy="613.1" r="8.06"/><circle cx="548.8" cy="553.3" r="8.06"/><circle cx="548.4" cy="572.2" r="8.06"/><circle cx="549.5" cy="541.6" r="8.06"/><circle cx="549.4" cy="562.6" r="8.06"/><circle cx="549.7" cy="582.1" r="8.06"/><circle cx="550.4" cy="552.7" r="8.06"/><circle cx="550.6" cy="563.0" r="8.06"/><circle cx="550.8" cy="580.4" r="8.06"/><circle cx="550.2" cy="608.8" r="8.06"/><circle cx="551.0" cy="557.8" r="8.06"/><circle cx="551.8" cy="589.4" r="8.06"/><circle cx="551.7" cy="593.9" r="8.06"/><circle cx="551.6" cy="604.0" r="8.06"/><circle cx="552.4" cy="576.8" r="8.06"/><circle cx="552.4" cy="578.9" r="8.06"/><circle cx="552.4" cy="582.4" r="8.06"/><circle cx="552.5" cy="587.8" r="8.06"/><circle cx="552.3" cy="612.9" r="8.06"/><circle cx="552.6" cy="613.2" r="8.06"/><circle cx="552.1" cy="615.7" r="8.06"/><circle cx="553.4" cy="555.6" r="8.06"/><circle cx="553.0" cy="557.6" r="8.06"/><circle cx="553.1" cy="562.7" r="8.06"/><circle cx="553.2" cy="571.3" r="8.06"/><circle cx="553.9" cy="584.8" r="8.06"/><circle cx="553.4" cy="594.3" r="8.06"/><circle cx="553.0" cy="596.4" r="8.06"/><circle cx="553.6" cy="598.6" r="8.06"/><circle cx="554.6" cy="551.8" r="8.06"/><circle cx="554.8" cy="559.7" r="8.06"/><circle cx="554.5" cy="564.6" r="8.06"/><circle cx="554.6" cy="574.0" r="8.06"/><circle cx="554.1" cy="574.1" r="8.06"/><circle cx="554.8" cy="576.7" r="8.06"/><circle cx="554.8" cy="579.8" r="8.06"/><circle cx="554.6" cy="580.6" r="8.06"/><circle cx="554.3" cy="584.4" r="8.06"/><circle cx="554.3" cy="589.5" r="8.06"/><circle cx="554.5" cy="589.8" r="8.06"/><circle cx="554.4" cy="590.0" r="8.06"/><circle cx="555.8" cy="589.9" r="8.06"/><circle cx="555.2" cy="614.4" r="8.06"/><circle cx="556.1" cy="562.4" r="8.06"/><circle cx="557.9" cy="535.7" r="8.06"/><circle cx="557.8" cy="552.5" r="8.06"/><circle cx="558.0" cy="578.4" r="8.06"/><circle cx="558.7" cy="532.0" r="8.06"/><circle cx="558.6" cy="557.2" r="8.06"/><circle cx="558.9" cy="561.8" r="8.06"/><circle cx="558.6" cy="570.3" r="8.06"/><circle cx="558.8" cy="585.8" r="8.06"/><circle cx="559.0" cy="602.4" r="8.06"/><circle cx="559.0" cy="609.1" r="8.06"/><circle cx="559.6" cy="527.8" r="8.06"/><circle cx="559.0" cy="563.6" r="8.06"/><circle cx="559.5" cy="592.6" r="8.06"/><circle cx="559.3" cy="596.8" r="8.06"/><circle cx="560.8" cy="569.1" r="8.06"/><circle cx="560.6" cy="572.3" r="8.06"/><circle cx="560.3" cy="588.1" r="8.06"/><circle cx="560.1" cy="600.3" r="8.06"/><circle cx="560.9" cy="612.5" r="8.06"/><circle cx="560.4" cy="614.0" r="8.06"/><circle cx="561.3" cy="541.0" r="8.06"/><circle cx="561.8" cy="562.5" r="8.06"/><circle cx="561.2" cy="575.2" r="8.06"/><circle cx="561.1" cy="607.5" r="8.06"/><circle cx="561.4" cy="614.2" r="8.06"/><circle cx="562.8" cy="547.0" r="8.06"/><circle cx="562.3" cy="550.7" r="8.06"/><circle cx="563.7" cy="531.3" r="8.06"/><circle cx="563.5" cy="540.2" r="8.06"/><circle cx="564.0" cy="599.6" r="8.06"/><circle cx="563.1" cy="611.5" r="8.06"/><circle cx="564.8" cy="563.3" r="8.06"/><circle cx="564.6" cy="573.5" r="8.06"/><circle cx="564.3" cy="578.3" r="8.06"/><circle cx="564.4" cy="579.3" r="8.06"/><circle cx="564.8" cy="589.8" r="8.06"/><circle cx="564.5" cy="613.6" r="8.06"/><circle cx="565.5" cy="523.4" r="8.06"/><circle cx="565.4" cy="552.4" r="8.06"/><circle cx="565.7" cy="553.5" r="8.06"/><circle cx="565.9" cy="596.6" r="8.06"/><circle cx="565.4" cy="600.3" r="8.06"/><circle cx="566.3" cy="532.5" r="8.06"/><circle cx="566.8" cy="571.2" r="8.06"/><circle cx="566.3" cy="578.3" r="8.06"/><circle cx="566.3" cy="588.0" r="8.06"/><circle cx="567.9" cy="520.1" r="8.06"/><circle cx="568.0" cy="544.2" r="8.06"/><circle cx="567.2" cy="565.6" r="8.06"/><circle cx="567.4" cy="569.4" r="8.06"/><circle cx="568.0" cy="582.4" r="8.06"/><circle cx="567.1" cy="610.6" r="8.06"/><circle cx="568.9" cy="533.5" r="8.06"/><circle cx="568.1" cy="535.0" r="8.06"/><circle cx="568.8" cy="547.0" r="8.06"/><circle cx="568.1" cy="599.4" r="8.06"/><circle cx="569.7" cy="528.6" r="8.06"/><circle cx="569.4" cy="532.8" r="8.06"/><circle cx="569.7" cy="580.7" r="8.06"/><circle cx="569.2" cy="591.1" r="8.06"/><circle cx="570.6" cy="533.0" r="8.06"/><circle cx="570.2" cy="565.3" r="8.06"/><circle cx="570.2" cy="576.7" r="8.06"/><circle cx="570.4" cy="596.3" r="8.06"/><circle cx="570.9" cy="611.1" r="8.06"/><circle cx="570.4" cy="612.6" r="8.06"/><circle cx="570.4" cy="619.9" r="8.06"/><circle cx="571.8" cy="523.0" r="8.06"/><circle cx="571.1" cy="554.8" r="8.06"/><circle cx="571.0" cy="600.6" r="8.06"/><circle cx="572.0" cy="520.9" r="8.06"/><circle cx="572.5" cy="522.2" r="8.06"/><circle cx="572.4" cy="528.5" r="8.06"/><circle cx="572.8" cy="533.9" r="8.06"/><circle cx="572.5" cy="553.4" r="8.06"/><circle cx="572.8" cy="611.6" r="8.06"/><circle cx="572.8" cy="611.9" r="8.06"/><circle cx="573.0" cy="512.0" r="8.06"/><circle cx="573.7" cy="539.7" r="8.06"/><circle cx="573.1" cy="544.6" r="8.06"/><circle cx="573.6" cy="576.2" r="8.06"/><circle cx="573.1" cy="619.3" r="8.06"/><circle cx="574.5" cy="538.9" r="8.06"/><circle cx="574.9" cy="540.8" r="8.06"/><circle cx="574.5" cy="541.1" r="8.06"/><circle cx="574.2" cy="553.1" r="8.06"/><circle cx="575.9" cy="506.0" r="8.06"/><circle cx="575.9" cy="516.3" r="8.06"/><circle cx="575.1" cy="563.7" r="8.06"/><circle cx="575.1" cy="604.7" r="8.06"/><circle cx="575.9" cy="608.2" r="8.06"/><circle cx="575.9" cy="608.5" r="8.06"/><circle cx="576.4" cy="526.4" r="8.06"/><circle cx="576.3" cy="559.8" r="8.06"/><circle cx="576.2" cy="583.9" r="8.06"/><circle cx="577.5" cy="500.4" r="8.06"/><circle cx="577.3" cy="526.4" r="8.06"/><circle cx="577.0" cy="542.3" r="8.06"/><circle cx="577.5" cy="556.7" r="8.06"/><circle cx="577.7" cy="610.9" r="8.06"/><circle cx="578.0" cy="613.0" r="8.06"/><circle cx="578.6" cy="533.0" r="8.06"/><circle cx="578.6" cy="553.9" r="8.06"/><circle cx="578.0" cy="565.1" r="8.06"/><circle cx="578.8" cy="589.5" r="8.06"/><circle cx="578.9" cy="591.6" r="8.06"/><circle cx="578.9" cy="592.7" r="8.06"/><circle cx="579.2" cy="536.5" r="8.06"/><circle cx="579.5" cy="540.0" r="8.06"/><circle cx="579.0" cy="543.2" r="8.06"/><circle cx="579.8" cy="545.7" r="8.06"/><circle cx="579.4" cy="555.0" r="8.06"/><circle cx="579.8" cy="555.1" r="8.06"/><circle cx="579.7" cy="569.9" r="8.06"/><circle cx="579.0" cy="570.7" r="8.06"/><circle cx="579.2" cy="578.4" r="8.06"/><circle cx="579.0" cy="584.7" r="8.06"/><circle cx="579.7" cy="602.8" r="8.06"/><circle cx="580.2" cy="528.7" r="8.06"/><circle cx="580.0" cy="540.8" r="8.06"/><circle cx="580.6" cy="565.3" r="8.06"/><circle cx="580.6" cy="567.3" r="8.06"/><circle cx="580.9" cy="579.2" r="8.06"/><circle cx="580.7" cy="583.9" r="8.06"/><circle cx="580.6" cy="590.9" r="8.06"/><circle cx="580.3" cy="601.1" r="8.06"/><circle cx="581.2" cy="582.6" r="8.06"/><circle cx="582.1" cy="538.6" r="8.06"/><circle cx="582.8" cy="546.5" r="8.06"/><circle cx="582.5" cy="556.9" r="8.06"/><circle cx="582.6" cy="577.7" r="8.06"/><circle cx="582.9" cy="605.7" r="8.06"/><circle cx="582.1" cy="609.2" r="8.06"/><circle cx="582.2" cy="610.1" r="8.06"/><circle cx="583.5" cy="519.6" r="8.06"/><circle cx="584.2" cy="528.9" r="8.06"/><circle cx="584.6" cy="542.6" r="8.06"/><circle cx="584.3" cy="563.4" r="8.06"/><circle cx="584.6" cy="604.5" r="8.06"/><circle cx="584.8" cy="608.2" r="8.06"/><circle cx="585.1" cy="536.6" r="8.06"/><circle cx="585.5" cy="544.7" r="8.06"/><circle cx="585.4" cy="565.7" r="8.06"/><circle cx="586.0" cy="566.8" r="8.06"/><circle cx="585.9" cy="607.9" r="8.06"/><circle cx="586.7" cy="530.9" r="8.06"/><circle cx="586.4" cy="570.7" r="8.06"/><circle cx="586.9" cy="587.4" r="8.06"/><circle cx="586.0" cy="590.2" r="8.06"/><circle cx="586.6" cy="598.4" r="8.06"/><circle cx="586.4" cy="601.5" r="8.06"/><circle cx="586.6" cy="611.5" r="8.06"/><circle cx="587.5" cy="505.7" r="8.06"/><circle cx="587.9" cy="514.4" r="8.06"/><circle cx="587.2" cy="530.6" r="8.06"/><circle cx="587.4" cy="561.9" r="8.06"/><circle cx="588.0" cy="581.6" r="8.06"/><circle cx="588.5" cy="528.2" r="8.06"/><circle cx="588.9" cy="554.6" r="8.06"/><circle cx="588.3" cy="570.2" r="8.06"/><circle cx="588.1" cy="580.1" r="8.06"/><circle cx="588.6" cy="581.0" r="8.06"/><circle cx="588.2" cy="593.4" r="8.06"/><circle cx="589.9" cy="514.9" r="8.06"/><circle cx="589.1" cy="522.1" r="8.06"/><circle cx="589.4" cy="537.0" r="8.06"/><circle cx="589.2" cy="560.4" r="8.06"/><circle cx="589.4" cy="567.4" r="8.06"/><circle cx="589.5" cy="570.7" r="8.06"/><circle cx="589.5" cy="572.5" r="8.06"/><circle cx="589.1" cy="607.4" r="8.06"/><circle cx="590.2" cy="521.6" r="8.06"/><circle cx="590.5" cy="529.3" r="8.06"/><circle cx="590.0" cy="529.1" r="8.06"/><circle cx="590.5" cy="587.1" r="8.06"/><circle cx="590.6" cy="594.8" r="8.06"/><circle cx="591.6" cy="511.1" r="8.06"/><circle cx="592.0" cy="524.2" r="8.06"/><circle cx="591.6" cy="533.3" r="8.06"/><circle cx="591.2" cy="551.6" r="8.06"/><circle cx="591.7" cy="598.3" r="8.06"/><circle cx="591.5" cy="600.6" r="8.06"/><circle cx="591.1" cy="604.2" r="8.06"/><circle cx="592.7" cy="553.5" r="8.06"/><circle cx="592.5" cy="562.4" r="8.06"/><circle cx="592.0" cy="577.8" r="8.06"/><circle cx="592.1" cy="597.7" r="8.06"/><circle cx="593.7" cy="519.0" r="8.06"/><circle cx="593.4" cy="579.9" r="8.06"/><circle cx="593.5" cy="580.9" r="8.06"/><circle cx="593.1" cy="582.9" r="8.06"/><circle cx="593.4" cy="589.4" r="8.06"/><circle cx="593.2" cy="599.4" r="8.06"/><circle cx="593.5" cy="602.4" r="8.06"/><circle cx="593.2" cy="612.9" r="8.06"/><circle cx="594.9" cy="479.9" r="8.06"/><circle cx="594.5" cy="530.8" r="8.06"/><circle cx="594.1" cy="577.6" r="8.06"/><circle cx="594.1" cy="589.9" r="8.06"/><circle cx="595.7" cy="480.6" r="8.06"/><circle cx="595.2" cy="528.6" r="8.06"/><circle cx="595.9" cy="551.7" r="8.06"/><circle cx="595.2" cy="554.8" r="8.06"/><circle cx="595.3" cy="565.4" r="8.06"/><circle cx="595.4" cy="594.3" r="8.06"/><circle cx="595.3" cy="596.3" r="8.06"/><circle cx="595.0" cy="601.3" r="8.06"/><circle cx="596.8" cy="503.0" r="8.06"/><circle cx="596.6" cy="510.2" r="8.06"/><circle cx="596.2" cy="534.3" r="8.06"/><circle cx="596.3" cy="537.4" r="8.06"/><circle cx="596.6" cy="548.6" r="8.06"/><circle cx="596.1" cy="568.3" r="8.06"/><circle cx="596.7" cy="582.2" r="8.06"/><circle cx="596.3" cy="584.7" r="8.06"/><circle cx="596.8" cy="602.3" r="8.06"/><circle cx="596.9" cy="603.3" r="8.06"/><circle cx="597.8" cy="605.5" r="8.06"/><circle cx="598.9" cy="523.5" r="8.06"/><circle cx="598.6" cy="540.4" r="8.06"/><circle cx="598.1" cy="556.2" r="8.06"/><circle cx="598.8" cy="575.6" r="8.06"/><circle cx="599.0" cy="589.7" r="8.06"/><circle cx="598.3" cy="594.8" r="8.06"/><circle cx="599.9" cy="529.8" r="8.06"/><circle cx="599.7" cy="537.7" r="8.06"/><circle cx="599.5" cy="561.8" r="8.06"/><circle cx="599.9" cy="562.6" r="8.06"/><circle cx="599.1" cy="569.6" r="8.06"/><circle cx="599.6" cy="571.4" r="8.06"/><circle cx="599.4" cy="573.8" r="8.06"/><circle cx="599.8" cy="574.9" r="8.06"/><circle cx="599.3" cy="594.5" r="8.06"/><circle cx="599.3" cy="604.0" r="8.06"/><circle cx="600.2" cy="534.1" r="8.06"/><circle cx="600.9" cy="554.4" r="8.06"/><circle cx="600.8" cy="561.7" r="8.06"/><circle cx="600.2" cy="577.8" r="8.06"/><circle cx="600.3" cy="605.3" r="8.06"/><circle cx="601.0" cy="606.0" r="8.06"/><circle cx="601.0" cy="596.0" r="8.06"/><circle cx="602.7" cy="503.7" r="8.06"/><circle cx="602.1" cy="551.6" r="8.06"/><circle cx="602.0" cy="559.0" r="8.06"/><circle cx="603.5" cy="523.3" r="8.06"/><circle cx="603.9" cy="552.8" r="8.06"/><circle cx="603.4" cy="561.5" r="8.06"/><circle cx="603.0" cy="561.2" r="8.06"/><circle cx="604.2" cy="517.4" r="8.06"/><circle cx="604.7" cy="544.1" r="8.06"/><circle cx="604.0" cy="545.9" r="8.06"/><circle cx="604.0" cy="578.5" r="8.06"/><circle cx="604.4" cy="597.9" r="8.06"/><circle cx="604.5" cy="603.6" r="8.06"/><circle cx="605.7" cy="511.5" r="8.06"/><circle cx="605.7" cy="513.4" r="8.06"/><circle cx="605.5" cy="557.1" r="8.06"/><circle cx="605.7" cy="583.4" r="8.06"/><circle cx="606.2" cy="508.8" r="8.06"/><circle cx="606.5" cy="550.5" r="8.06"/><circle cx="606.8" cy="556.9" r="8.06"/><circle cx="606.1" cy="574.8" r="8.06"/><circle cx="606.7" cy="595.2" r="8.06"/><circle cx="608.0" cy="513.6" r="8.06"/><circle cx="607.5" cy="544.0" r="8.06"/><circle cx="607.1" cy="599.5" r="8.06"/><circle cx="608.6" cy="506.4" r="8.06"/><circle cx="608.1" cy="522.7" r="8.06"/><circle cx="608.0" cy="526.6" r="8.06"/><circle cx="608.7" cy="570.6" r="8.06"/><circle cx="608.4" cy="592.2" r="8.06"/><circle cx="608.1" cy="597.5" r="8.06"/><circle cx="609.7" cy="482.1" r="8.06"/><circle cx="609.8" cy="524.0" r="8.06"/><circle cx="609.8" cy="526.2" r="8.06"/><circle cx="609.8" cy="533.7" r="8.06"/><circle cx="609.1" cy="534.6" r="8.06"/><circle cx="609.9" cy="540.7" r="8.06"/><circle cx="609.2" cy="556.6" r="8.06"/><circle cx="610.0" cy="582.6" r="8.06"/><circle cx="610.8" cy="530.5" r="8.06"/><circle cx="610.8" cy="573.2" r="8.06"/><circle cx="610.2" cy="575.1" r="8.06"/><circle cx="610.3" cy="578.1" r="8.06"/><circle cx="610.9" cy="604.3" r="8.06"/><circle cx="611.2" cy="522.0" r="8.06"/><circle cx="611.3" cy="527.1" r="8.06"/><circle cx="611.1" cy="552.4" r="8.06"/><circle cx="611.1" cy="603.0" r="8.06"/><circle cx="612.4" cy="506.4" r="8.06"/><circle cx="612.2" cy="527.4" r="8.06"/><circle cx="612.5" cy="550.6" r="8.06"/><circle cx="612.7" cy="555.8" r="8.06"/><circle cx="612.4" cy="557.9" r="8.06"/><circle cx="612.2" cy="571.2" r="8.06"/><circle cx="612.1" cy="595.1" r="8.06"/><circle cx="612.4" cy="598.7" r="8.06"/><circle cx="612.5" cy="603.1" r="8.06"/><circle cx="613.4" cy="534.4" r="8.06"/><circle cx="613.5" cy="543.2" r="8.06"/><circle cx="613.7" cy="549.4" r="8.06"/><circle cx="613.7" cy="568.7" r="8.06"/><circle cx="613.5" cy="586.4" r="8.06"/><circle cx="614.0" cy="593.0" r="8.06"/><circle cx="613.7" cy="602.1" r="8.06"/><circle cx="614.8" cy="542.6" r="8.06"/><circle cx="614.3" cy="545.4" r="8.06"/><circle cx="614.0" cy="546.4" r="8.06"/><circle cx="614.2" cy="546.4" r="8.06"/><circle cx="614.6" cy="548.6" r="8.06"/><circle cx="614.4" cy="579.5" r="8.06"/><circle cx="614.5" cy="597.6" r="8.06"/><circle cx="614.1" cy="597.8" r="8.06"/><circle cx="614.5" cy="603.7" r="8.06"/><circle cx="615.4" cy="464.8" r="8.06"/><circle cx="615.1" cy="547.3" r="8.06"/><circle cx="615.4" cy="552.0" r="8.06"/><circle cx="615.6" cy="564.5" r="8.06"/><circle cx="615.9" cy="574.8" r="8.06"/><circle cx="615.9" cy="578.9" r="8.06"/><circle cx="616.0" cy="586.3" r="8.06"/><circle cx="615.8" cy="587.2" r="8.06"/><circle cx="616.9" cy="505.1" r="8.06"/><circle cx="616.3" cy="531.2" r="8.06"/><circle cx="616.7" cy="539.9" r="8.06"/><circle cx="616.7" cy="553.9" r="8.06"/><circle cx="616.7" cy="560.5" r="8.06"/><circle cx="616.0" cy="563.2" r="8.06"/><circle cx="616.3" cy="577.0" r="8.06"/><circle cx="616.9" cy="588.3" r="8.06"/><circle cx="616.9" cy="598.4" r="8.06"/><circle cx="617.7" cy="469.7" r="8.06"/><circle cx="617.7" cy="511.9" r="8.06"/><circle cx="617.5" cy="527.6" r="8.06"/><circle cx="617.1" cy="527.8" r="8.06"/><circle cx="618.0" cy="549.6" r="8.06"/><circle cx="617.1" cy="554.9" r="8.06"/><circle cx="617.4" cy="561.3" r="8.06"/><circle cx="617.7" cy="566.8" r="8.06"/><circle cx="617.9" cy="603.1" r="8.06"/><circle cx="617.3" cy="603.7" r="8.06"/><circle cx="617.9" cy="603.5" r="8.06"/><circle cx="618.6" cy="585.2" r="8.06"/><circle cx="618.8" cy="587.2" r="8.06"/><circle cx="618.8" cy="588.0" r="8.06"/><circle cx="619.3" cy="511.4" r="8.06"/><circle cx="619.8" cy="513.5" r="8.06"/><circle cx="619.1" cy="519.5" r="8.06"/><circle cx="619.4" cy="538.2" r="8.06"/><circle cx="619.3" cy="560.6" r="8.06"/><circle cx="619.7" cy="579.4" r="8.06"/><circle cx="619.3" cy="580.5" r="8.06"/><circle cx="620.5" cy="540.7" r="8.06"/><circle cx="620.4" cy="559.2" r="8.06"/><circle cx="620.1" cy="563.0" r="8.06"/><circle cx="620.5" cy="571.5" r="8.06"/><circle cx="620.7" cy="575.2" r="8.06"/><circle cx="620.7" cy="575.4" r="8.06"/><circle cx="620.0" cy="607.0" r="8.06"/><circle cx="621.5" cy="492.0" r="8.06"/><circle cx="621.1" cy="523.9" r="8.06"/><circle cx="621.4" cy="532.2" r="8.06"/><circle cx="621.7" cy="544.0" r="8.06"/><circle cx="621.9" cy="548.8" r="8.06"/><circle cx="621.1" cy="567.0" r="8.06"/><circle cx="622.0" cy="594.0" r="8.06"/><circle cx="621.2" cy="599.1" r="8.06"/><circle cx="622.2" cy="527.8" r="8.06"/><circle cx="622.1" cy="542.2" r="8.06"/><circle cx="622.5" cy="549.4" r="8.06"/><circle cx="622.3" cy="552.3" r="8.06"/><circle cx="622.5" cy="559.5" r="8.06"/><circle cx="622.2" cy="563.0" r="8.06"/><circle cx="622.7" cy="568.5" r="8.06"/><circle cx="623.0" cy="592.6" r="8.06"/><circle cx="622.8" cy="602.9" r="8.06"/><circle cx="623.8" cy="522.4" r="8.06"/><circle cx="623.4" cy="536.1" r="8.06"/><circle cx="623.7" cy="554.9" r="8.06"/><circle cx="624.3" cy="501.0" r="8.06"/><circle cx="624.2" cy="504.6" r="8.06"/><circle cx="624.2" cy="561.6" r="8.06"/><circle cx="624.6" cy="583.3" r="8.06"/><circle cx="625.6" cy="490.1" r="8.06"/><circle cx="625.6" cy="503.9" r="8.06"/><circle cx="625.6" cy="527.3" r="8.06"/><circle cx="625.2" cy="568.3" r="8.06"/><circle cx="625.5" cy="572.0" r="8.06"/><circle cx="625.3" cy="577.1" r="8.06"/><circle cx="626.8" cy="529.6" r="8.06"/><circle cx="626.1" cy="532.0" r="8.06"/><circle cx="626.3" cy="550.9" r="8.06"/><circle cx="626.9" cy="559.2" r="8.06"/><circle cx="626.5" cy="576.1" r="8.06"/><circle cx="626.3" cy="591.5" r="8.06"/><circle cx="627.4" cy="513.6" r="8.06"/><circle cx="627.9" cy="520.2" r="8.06"/><circle cx="627.0" cy="534.1" r="8.06"/><circle cx="627.1" cy="540.5" r="8.06"/><circle cx="627.2" cy="558.1" r="8.06"/><circle cx="627.1" cy="581.2" r="8.06"/><circle cx="627.0" cy="600.3" r="8.06"/><circle cx="627.6" cy="605.0" r="8.06"/><circle cx="629.0" cy="507.0" r="8.06"/><circle cx="628.3" cy="509.1" r="8.06"/><circle cx="628.7" cy="510.1" r="8.06"/><circle cx="628.2" cy="530.1" r="8.06"/><circle cx="628.1" cy="532.1" r="8.06"/><circle cx="628.7" cy="540.2" r="8.06"/><circle cx="628.0" cy="562.4" r="8.06"/><circle cx="628.0" cy="579.7" r="8.06"/><circle cx="629.8" cy="520.6" r="8.06"/><circle cx="629.9" cy="523.5" r="8.06"/><circle cx="629.4" cy="527.2" r="8.06"/><circle cx="629.1" cy="556.1" r="8.06"/><circle cx="631.0" cy="519.9" r="8.06"/><circle cx="630.0" cy="545.1" r="8.06"/><circle cx="630.6" cy="580.5" r="8.06"/><circle cx="631.4" cy="518.7" r="8.06"/><circle cx="631.3" cy="519.4" r="8.06"/><circle cx="631.1" cy="523.9" r="8.06"/><circle cx="631.7" cy="545.1" r="8.06"/><circle cx="633.0" cy="533.8" r="8.06"/><circle cx="632.1" cy="535.3" r="8.06"/><circle cx="632.3" cy="548.8" r="8.06"/><circle cx="632.1" cy="550.4" r="8.06"/><circle cx="632.2" cy="551.0" r="8.06"/><circle cx="632.4" cy="556.0" r="8.06"/><circle cx="632.8" cy="559.0" r="8.06"/><circle cx="633.0" cy="568.1" r="8.06"/><circle cx="632.3" cy="592.5" r="8.06"/><circle cx="633.9" cy="528.6" r="8.06"/><circle cx="633.9" cy="541.8" r="8.06"/><circle cx="633.3" cy="543.1" r="8.06"/><circle cx="633.4" cy="547.2" r="8.06"/><circle cx="633.7" cy="581.5" r="8.06"/><circle cx="634.0" cy="601.1" r="8.06"/><circle cx="634.9" cy="485.3" r="8.06"/><circle cx="634.6" cy="507.9" r="8.06"/><circle cx="634.6" cy="525.4" r="8.06"/><circle cx="634.3" cy="529.1" r="8.06"/><circle cx="634.9" cy="549.6" r="8.06"/><circle cx="634.3" cy="551.7" r="8.06"/><circle cx="634.9" cy="574.7" r="8.06"/><circle cx="634.1" cy="575.9" r="8.06"/><circle cx="635.0" cy="595.7" r="8.06"/><circle cx="635.6" cy="503.6" r="8.06"/><circle cx="635.5" cy="517.9" r="8.06"/><circle cx="635.6" cy="541.7" r="8.06"/><circle cx="635.6" cy="554.7" r="8.06"/><circle cx="635.8" cy="557.2" r="8.06"/><circle cx="635.5" cy="597.0" r="8.06"/><circle cx="636.4" cy="491.8" r="8.06"/><circle cx="636.1" cy="514.4" r="8.06"/><circle cx="636.9" cy="522.5" r="8.06"/><circle cx="636.9" cy="530.4" r="8.06"/><circle cx="636.4" cy="572.2" r="8.06"/><circle cx="636.4" cy="581.5" r="8.06"/><circle cx="636.5" cy="593.1" r="8.06"/><circle cx="637.6" cy="496.7" r="8.06"/><circle cx="637.9" cy="510.5" r="8.06"/><circle cx="637.6" cy="529.8" r="8.06"/><circle cx="637.6" cy="541.5" r="8.06"/><circle cx="637.3" cy="559.8" r="8.06"/><circle cx="637.7" cy="591.8" r="8.06"/><circle cx="638.8" cy="510.0" r="8.06"/><circle cx="638.2" cy="515.9" r="8.06"/><circle cx="638.2" cy="561.4" r="8.06"/><circle cx="638.1" cy="562.7" r="8.06"/><circle cx="638.5" cy="566.1" r="8.06"/><circle cx="638.0" cy="600.7" r="8.06"/><circle cx="639.2" cy="476.1" r="8.06"/><circle cx="639.1" cy="551.4" r="8.06"/><circle cx="639.9" cy="556.3" r="8.06"/><circle cx="639.6" cy="563.3" r="8.06"/><circle cx="639.3" cy="580.2" r="8.06"/><circle cx="639.7" cy="595.5" r="8.06"/><circle cx="640.3" cy="528.8" r="8.06"/><circle cx="640.0" cy="545.2" r="8.06"/><circle cx="640.4" cy="553.9" r="8.06"/><circle cx="640.1" cy="554.6" r="8.06"/><circle cx="640.7" cy="563.4" r="8.06"/><circle cx="640.3" cy="596.3" r="8.06"/><circle cx="641.6" cy="517.6" r="8.06"/><circle cx="641.3" cy="584.6" r="8.06"/><circle cx="642.4" cy="503.6" r="8.06"/><circle cx="642.3" cy="514.9" r="8.06"/><circle cx="642.5" cy="516.8" r="8.06"/><circle cx="642.9" cy="533.6" r="8.06"/><circle cx="642.5" cy="559.4" r="8.06"/><circle cx="642.6" cy="564.8" r="8.06"/><circle cx="642.3" cy="581.1" r="8.06"/><circle cx="642.3" cy="591.9" r="8.06"/><circle cx="642.2" cy="596.8" r="8.06"/><circle cx="642.7" cy="598.6" r="8.06"/><circle cx="644.0" cy="510.9" r="8.06"/><circle cx="643.3" cy="552.1" r="8.06"/><circle cx="643.3" cy="578.7" r="8.06"/><circle cx="644.7" cy="516.5" r="8.06"/><circle cx="644.8" cy="519.2" r="8.06"/><circle cx="645.0" cy="546.4" r="8.06"/><circle cx="644.6" cy="562.6" r="8.06"/><circle cx="644.4" cy="566.8" r="8.06"/><circle cx="644.8" cy="586.4" r="8.06"/><circle cx="644.3" cy="589.2" r="8.06"/><circle cx="644.8" cy="597.4" r="8.06"/><circle cx="644.3" cy="599.5" r="8.06"/><circle cx="644.2" cy="606.4" r="8.06"/><circle cx="645.0" cy="435.6" r="8.06"/><circle cx="645.8" cy="507.3" r="8.06"/><circle cx="645.2" cy="528.5" r="8.06"/><circle cx="645.7" cy="539.7" r="8.06"/><circle cx="645.4" cy="549.0" r="8.06"/><circle cx="645.2" cy="595.5" r="8.06"/><circle cx="646.4" cy="544.9" r="8.06"/><circle cx="646.4" cy="566.0" r="8.06"/><circle cx="646.2" cy="577.6" r="8.06"/><circle cx="647.3" cy="515.7" r="8.06"/><circle cx="647.2" cy="544.5" r="8.06"/><circle cx="647.0" cy="598.5" r="8.06"/><circle cx="647.1" cy="604.2" r="8.06"/><circle cx="648.4" cy="511.5" r="8.06"/><circle cx="648.0" cy="583.5" r="8.06"/><circle cx="648.1" cy="589.2" r="8.06"/><circle cx="648.8" cy="594.5" r="8.06"/><circle cx="649.0" cy="509.6" r="8.06"/><circle cx="649.5" cy="513.6" r="8.06"/><circle cx="649.8" cy="533.6" r="8.06"/><circle cx="649.4" cy="542.0" r="8.06"/><circle cx="649.2" cy="569.8" r="8.06"/><circle cx="649.9" cy="579.2" r="8.06"/><circle cx="649.8" cy="582.6" r="8.06"/><circle cx="650.2" cy="480.8" r="8.06"/><circle cx="650.2" cy="493.7" r="8.06"/><circle cx="650.2" cy="570.7" r="8.06"/><circle cx="650.5" cy="591.0" r="8.06"/><circle cx="651.7" cy="540.3" r="8.06"/><circle cx="651.6" cy="566.9" r="8.06"/><circle cx="651.2" cy="586.6" r="8.06"/><circle cx="652.5" cy="516.7" r="8.06"/><circle cx="653.0" cy="539.5" r="8.06"/><circle cx="652.8" cy="579.1" r="8.06"/><circle cx="652.1" cy="582.8" r="8.06"/><circle cx="653.6" cy="510.6" r="8.06"/><circle cx="653.2" cy="537.6" r="8.06"/><circle cx="653.5" cy="571.7" r="8.06"/><circle cx="653.8" cy="579.1" r="8.06"/><circle cx="654.0" cy="597.7" r="8.06"/><circle cx="654.3" cy="460.8" r="8.06"/><circle cx="655.0" cy="506.8" r="8.06"/><circle cx="654.5" cy="531.9" r="8.06"/><circle cx="654.2" cy="595.6" r="8.06"/><circle cx="654.6" cy="596.4" r="8.06"/><circle cx="655.4" cy="505.5" r="8.06"/><circle cx="655.1" cy="525.8" r="8.06"/><circle cx="655.9" cy="551.5" r="8.06"/><circle cx="655.6" cy="557.1" r="8.06"/><circle cx="655.0" cy="567.5" r="8.06"/><circle cx="656.6" cy="503.3" r="8.06"/><circle cx="656.7" cy="528.8" r="8.06"/><circle cx="656.8" cy="549.4" r="8.06"/><circle cx="656.4" cy="555.7" r="8.06"/><circle cx="656.7" cy="569.5" r="8.06"/><circle cx="656.2" cy="576.9" r="8.06"/><circle cx="656.4" cy="599.4" r="8.06"/><circle cx="657.9" cy="502.0" r="8.06"/><circle cx="657.4" cy="509.0" r="8.06"/><circle cx="658.8" cy="487.6" r="8.06"/><circle cx="658.3" cy="524.7" r="8.06"/><circle cx="658.3" cy="527.7" r="8.06"/><circle cx="658.6" cy="547.0" r="8.06"/><circle cx="658.8" cy="576.2" r="8.06"/><circle cx="658.5" cy="594.6" r="8.06"/><circle cx="659.4" cy="518.7" r="8.06"/><circle cx="659.8" cy="518.3" r="8.06"/><circle cx="659.3" cy="520.5" r="8.06"/><circle cx="659.6" cy="523.9" r="8.06"/><circle cx="659.4" cy="531.7" r="8.06"/><circle cx="659.9" cy="534.5" r="8.06"/><circle cx="660.8" cy="476.1" r="8.06"/><circle cx="660.6" cy="501.0" r="8.06"/><circle cx="661.0" cy="505.0" r="8.06"/><circle cx="660.8" cy="525.6" r="8.06"/><circle cx="660.1" cy="535.4" r="8.06"/><circle cx="660.3" cy="584.3" r="8.06"/><circle cx="661.5" cy="491.2" r="8.06"/><circle cx="661.2" cy="492.3" r="8.06"/><circle cx="661.2" cy="537.3" r="8.06"/><circle cx="661.7" cy="552.1" r="8.06"/><circle cx="661.8" cy="577.7" r="8.06"/><circle cx="661.3" cy="595.4" r="8.06"/><circle cx="663.0" cy="502.4" r="8.06"/><circle cx="662.3" cy="534.1" r="8.06"/><circle cx="662.7" cy="561.2" r="8.06"/><circle cx="663.0" cy="579.6" r="8.06"/><circle cx="663.3" cy="435.1" r="8.06"/><circle cx="663.9" cy="533.7" r="8.06"/><circle cx="663.5" cy="548.1" r="8.06"/><circle cx="663.4" cy="556.5" r="8.06"/><circle cx="663.4" cy="571.4" r="8.06"/><circle cx="663.0" cy="575.5" r="8.06"/><circle cx="664.3" cy="471.9" r="8.06"/><circle cx="664.0" cy="504.5" r="8.06"/><circle cx="664.9" cy="531.0" r="8.06"/><circle cx="664.3" cy="559.5" r="8.06"/><circle cx="664.4" cy="574.4" r="8.06"/><circle cx="665.2" cy="500.3" r="8.06"/><circle cx="665.2" cy="502.3" r="8.06"/><circle cx="665.6" cy="506.2" r="8.06"/><circle cx="665.7" cy="507.5" r="8.06"/><circle cx="665.3" cy="512.9" r="8.06"/><circle cx="665.4" cy="514.9" r="8.06"/><circle cx="665.8" cy="515.5" r="8.06"/><circle cx="666.0" cy="524.9" r="8.06"/><circle cx="665.1" cy="544.5" r="8.06"/><circle cx="665.1" cy="566.3" r="8.06"/><circle cx="665.9" cy="572.4" r="8.06"/><circle cx="665.3" cy="575.9" r="8.06"/><circle cx="665.6" cy="600.4" r="8.06"/><circle cx="666.8" cy="508.7" r="8.06"/><circle cx="666.5" cy="527.9" r="8.06"/><circle cx="666.5" cy="553.2" r="8.06"/><circle cx="666.3" cy="555.9" r="8.06"/><circle cx="666.7" cy="566.9" r="8.06"/><circle cx="666.9" cy="568.5" r="8.06"/><circle cx="666.8" cy="576.6" r="8.06"/><circle cx="666.3" cy="578.6" r="8.06"/><circle cx="666.7" cy="585.2" r="8.06"/><circle cx="666.7" cy="589.5" r="8.06"/><circle cx="667.1" cy="486.4" r="8.06"/><circle cx="667.7" cy="496.4" r="8.06"/><circle cx="667.5" cy="502.0" r="8.06"/><circle cx="667.2" cy="526.0" r="8.06"/><circle cx="667.7" cy="544.2" r="8.06"/><circle cx="667.5" cy="547.4" r="8.06"/><circle cx="667.9" cy="587.1" r="8.06"/><circle cx="668.3" cy="434.3" r="8.06"/><circle cx="668.2" cy="491.5" r="8.06"/><circle cx="668.4" cy="513.2" r="8.06"/><circle cx="669.0" cy="548.2" r="8.06"/><circle cx="668.3" cy="552.8" r="8.06"/><circle cx="668.8" cy="554.4" r="8.06"/><circle cx="668.4" cy="557.6" r="8.06"/><circle cx="668.9" cy="570.4" r="8.06"/><circle cx="669.2" cy="443.4" r="8.06"/><circle cx="669.6" cy="496.9" r="8.06"/><circle cx="669.3" cy="501.4" r="8.06"/><circle cx="669.8" cy="541.6" r="8.06"/><circle cx="669.1" cy="550.9" r="8.06"/><circle cx="669.2" cy="570.2" r="8.06"/><circle cx="669.5" cy="575.3" r="8.06"/><circle cx="669.1" cy="576.1" r="8.06"/><circle cx="670.0" cy="512.9" r="8.06"/><circle cx="671.0" cy="530.3" r="8.06"/><circle cx="670.6" cy="541.6" r="8.06"/><circle cx="671.8" cy="480.1" r="8.06"/><circle cx="672.0" cy="494.7" r="8.06"/><circle cx="671.4" cy="518.2" r="8.06"/><circle cx="671.0" cy="547.3" r="8.06"/><circle cx="671.6" cy="553.7" r="8.06"/><circle cx="671.0" cy="560.6" r="8.06"/><circle cx="671.6" cy="590.9" r="8.06"/><circle cx="672.2" cy="485.6" r="8.06"/><circle cx="672.3" cy="492.2" r="8.06"/><circle cx="672.1" cy="512.8" r="8.06"/><circle cx="673.0" cy="519.3" r="8.06"/><circle cx="672.6" cy="531.0" r="8.06"/><circle cx="672.2" cy="542.6" r="8.06"/><circle cx="672.1" cy="570.9" r="8.06"/><circle cx="672.1" cy="578.6" r="8.06"/><circle cx="673.7" cy="486.0" r="8.06"/><circle cx="673.3" cy="493.5" r="8.06"/><circle cx="673.4" cy="506.4" r="8.06"/><circle cx="673.3" cy="518.3" r="8.06"/><circle cx="673.5" cy="532.5" r="8.06"/><circle cx="673.7" cy="595.6" r="8.06"/><circle cx="674.0" cy="596.0" r="8.06"/><circle cx="674.1" cy="456.2" r="8.06"/><circle cx="674.2" cy="482.4" r="8.06"/><circle cx="674.1" cy="484.1" r="8.06"/><circle cx="674.7" cy="495.8" r="8.06"/><circle cx="674.5" cy="512.1" r="8.06"/><circle cx="674.5" cy="534.3" r="8.06"/><circle cx="674.7" cy="566.5" r="8.06"/><circle cx="674.5" cy="571.6" r="8.06"/><circle cx="676.0" cy="497.6" r="8.06"/><circle cx="675.5" cy="516.1" r="8.06"/><circle cx="675.9" cy="522.6" r="8.06"/><circle cx="675.1" cy="553.2" r="8.06"/><circle cx="675.5" cy="588.4" r="8.06"/><circle cx="676.1" cy="477.9" r="8.06"/><circle cx="677.3" cy="489.6" r="8.06"/><circle cx="677.8" cy="501.4" r="8.06"/><circle cx="677.4" cy="544.4" r="8.06"/><circle cx="677.3" cy="552.2" r="8.06"/><circle cx="678.5" cy="484.6" r="8.06"/><circle cx="678.2" cy="506.7" r="8.06"/><circle cx="679.0" cy="514.4" r="8.06"/><circle cx="678.8" cy="532.6" r="8.06"/><circle cx="678.3" cy="544.6" r="8.06"/><circle cx="678.6" cy="567.0" r="8.06"/><circle cx="678.5" cy="581.4" r="8.06"/><circle cx="678.8" cy="592.9" r="8.06"/><circle cx="679.3" cy="467.2" r="8.06"/><circle cx="680.0" cy="492.6" r="8.06"/><circle cx="679.9" cy="498.1" r="8.06"/><circle cx="679.5" cy="501.6" r="8.06"/><circle cx="679.9" cy="507.5" r="8.06"/><circle cx="679.7" cy="518.6" r="8.06"/><circle cx="679.9" cy="525.7" r="8.06"/><circle cx="679.8" cy="551.3" r="8.06"/><circle cx="679.7" cy="552.4" r="8.06"/><circle cx="680.0" cy="582.9" r="8.06"/><circle cx="679.8" cy="590.2" r="8.06"/><circle cx="679.0" cy="592.9" r="8.06"/><circle cx="679.0" cy="596.2" r="8.06"/><circle cx="681.0" cy="488.0" r="8.06"/><circle cx="680.0" cy="493.9" r="8.06"/><circle cx="680.5" cy="494.8" r="8.06"/><circle cx="680.3" cy="495.2" r="8.06"/><circle cx="680.1" cy="500.1" r="8.06"/><circle cx="680.0" cy="500.0" r="8.06"/><circle cx="681.0" cy="544.2" r="8.06"/><circle cx="681.2" cy="500.6" r="8.06"/><circle cx="681.4" cy="512.6" r="8.06"/><circle cx="681.3" cy="512.8" r="8.06"/><circle cx="681.4" cy="529.3" r="8.06"/><circle cx="681.5" cy="537.7" r="8.06"/><circle cx="681.3" cy="548.8" r="8.06"/><circle cx="681.1" cy="549.0" r="8.06"/><circle cx="681.1" cy="550.8" r="8.06"/><circle cx="681.0" cy="577.3" r="8.06"/><circle cx="681.7" cy="591.6" r="8.06"/><circle cx="682.3" cy="511.7" r="8.06"/><circle cx="682.6" cy="515.1" r="8.06"/><circle cx="682.5" cy="532.2" r="8.06"/><circle cx="683.0" cy="555.9" r="8.06"/><circle cx="682.6" cy="572.5" r="8.06"/><circle cx="683.0" cy="514.7" r="8.06"/><circle cx="683.5" cy="521.3" r="8.06"/><circle cx="683.1" cy="535.2" r="8.06"/><circle cx="683.3" cy="539.9" r="8.06"/><circle cx="683.6" cy="553.0" r="8.06"/><circle cx="684.1" cy="462.9" r="8.06"/><circle cx="684.4" cy="470.8" r="8.06"/><circle cx="684.1" cy="471.7" r="8.06"/><circle cx="684.2" cy="499.0" r="8.06"/><circle cx="684.1" cy="523.7" r="8.06"/><circle cx="684.1" cy="537.7" r="8.06"/><circle cx="684.9" cy="548.0" r="8.06"/><circle cx="684.2" cy="567.9" r="8.06"/><circle cx="684.0" cy="576.6" r="8.06"/><circle cx="685.8" cy="419.3" r="8.06"/><circle cx="685.7" cy="485.6" r="8.06"/><circle cx="685.1" cy="545.4" r="8.06"/><circle cx="685.3" cy="547.5" r="8.06"/><circle cx="685.9" cy="582.2" r="8.06"/><circle cx="685.0" cy="583.2" r="8.06"/><circle cx="686.9" cy="444.9" r="8.06"/><circle cx="686.1" cy="447.5" r="8.06"/><circle cx="686.2" cy="475.2" r="8.06"/><circle cx="686.4" cy="521.7" r="8.06"/><circle cx="686.9" cy="540.2" r="8.06"/><circle cx="686.6" cy="568.0" r="8.06"/><circle cx="686.4" cy="588.6" r="8.06"/><circle cx="687.4" cy="440.2" r="8.06"/><circle cx="687.3" cy="455.2" r="8.06"/><circle cx="687.6" cy="495.4" r="8.06"/><circle cx="687.2" cy="498.6" r="8.06"/><circle cx="687.7" cy="499.4" r="8.06"/><circle cx="687.9" cy="514.1" r="8.06"/><circle cx="687.6" cy="519.5" r="8.06"/><circle cx="687.0" cy="519.6" r="8.06"/><circle cx="687.9" cy="556.7" r="8.06"/><circle cx="687.4" cy="569.7" r="8.06"/><circle cx="688.4" cy="420.3" r="8.06"/><circle cx="688.9" cy="470.3" r="8.06"/><circle cx="688.9" cy="486.5" r="8.06"/><circle cx="688.2" cy="550.3" r="8.06"/><circle cx="688.1" cy="561.0" r="8.06"/><circle cx="688.0" cy="582.9" r="8.06"/><circle cx="689.5" cy="456.3" r="8.06"/><circle cx="689.5" cy="486.2" r="8.06"/><circle cx="689.0" cy="492.7" r="8.06"/><circle cx="689.8" cy="523.6" r="8.06"/><circle cx="689.5" cy="566.1" r="8.06"/><circle cx="689.5" cy="581.1" r="8.06"/><circle cx="689.9" cy="591.6" r="8.06"/><circle cx="690.4" cy="478.2" r="8.06"/><circle cx="690.9" cy="491.3" r="8.06"/><circle cx="690.0" cy="498.7" r="8.06"/><circle cx="690.1" cy="582.9" r="8.06"/><circle cx="690.4" cy="593.4" r="8.06"/><circle cx="691.9" cy="472.3" r="8.06"/><circle cx="691.4" cy="479.1" r="8.06"/><circle cx="691.1" cy="488.9" r="8.06"/><circle cx="691.2" cy="528.6" r="8.06"/><circle cx="691.6" cy="530.9" r="8.06"/><circle cx="691.9" cy="587.4" r="8.06"/><circle cx="692.7" cy="432.8" r="8.06"/><circle cx="692.6" cy="454.9" r="8.06"/><circle cx="692.9" cy="484.1" r="8.06"/><circle cx="692.8" cy="491.4" r="8.06"/><circle cx="692.7" cy="512.8" r="8.06"/><circle cx="692.6" cy="516.5" r="8.06"/><circle cx="692.9" cy="538.0" r="8.06"/><circle cx="692.1" cy="551.3" r="8.06"/><circle cx="693.9" cy="442.2" r="8.06"/><circle cx="693.1" cy="479.7" r="8.06"/><circle cx="693.7" cy="503.9" r="8.06"/><circle cx="693.4" cy="507.6" r="8.06"/><circle cx="693.9" cy="511.5" r="8.06"/><circle cx="694.0" cy="525.6" r="8.06"/><circle cx="693.1" cy="547.5" r="8.06"/><circle cx="693.7" cy="589.6" r="8.06"/><circle cx="694.3" cy="459.9" r="8.06"/><circle cx="695.0" cy="468.0" r="8.06"/><circle cx="694.8" cy="475.9" r="8.06"/><circle cx="694.8" cy="486.4" r="8.06"/><circle cx="694.2" cy="507.1" r="8.06"/><circle cx="694.1" cy="510.3" r="8.06"/><circle cx="694.3" cy="534.1" r="8.06"/><circle cx="694.6" cy="561.2" r="8.06"/><circle cx="695.0" cy="563.5" r="8.06"/><circle cx="694.5" cy="575.2" r="8.06"/><circle cx="694.1" cy="577.2" r="8.06"/><circle cx="694.3" cy="586.0" r="8.06"/><circle cx="694.6" cy="589.8" r="8.06"/><circle cx="695.6" cy="425.3" r="8.06"/><circle cx="695.8" cy="485.6" r="8.06"/><circle cx="695.5" cy="503.8" r="8.06"/><circle cx="695.6" cy="510.0" r="8.06"/><circle cx="695.0" cy="510.4" r="8.06"/><circle cx="695.1" cy="588.4" r="8.06"/><circle cx="695.2" cy="595.1" r="8.06"/><circle cx="696.7" cy="446.4" r="8.06"/><circle cx="696.0" cy="517.5" r="8.06"/><circle cx="696.8" cy="526.6" r="8.06"/><circle cx="696.7" cy="557.9" r="8.06"/><circle cx="696.5" cy="573.4" r="8.06"/><circle cx="697.0" cy="484.0" r="8.06"/><circle cx="697.0" cy="511.0" r="8.06"/><circle cx="697.2" cy="539.3" r="8.06"/><circle cx="697.6" cy="553.9" r="8.06"/><circle cx="697.3" cy="572.0" r="8.06"/><circle cx="697.3" cy="573.5" r="8.06"/><circle cx="698.9" cy="450.3" r="8.06"/><circle cx="698.2" cy="491.8" r="8.06"/><circle cx="698.5" cy="500.2" r="8.06"/><circle cx="698.5" cy="515.0" r="8.06"/><circle cx="698.3" cy="586.1" r="8.06"/><circle cx="698.6" cy="591.2" r="8.06"/><circle cx="699.7" cy="454.0" r="8.06"/><circle cx="699.1" cy="477.6" r="8.06"/><circle cx="699.0" cy="543.9" r="8.06"/><circle cx="699.8" cy="569.8" r="8.06"/><circle cx="699.7" cy="578.7" r="8.06"/><circle cx="700.6" cy="473.3" r="8.06"/><circle cx="700.3" cy="487.9" r="8.06"/><circle cx="700.6" cy="493.5" r="8.06"/><circle cx="700.8" cy="509.5" r="8.06"/><circle cx="700.4" cy="526.1" r="8.06"/><circle cx="700.1" cy="534.4" r="8.06"/><circle cx="700.0" cy="551.5" r="8.06"/><circle cx="700.5" cy="572.8" r="8.06"/><circle cx="701.9" cy="405.0" r="8.06"/><circle cx="701.7" cy="484.6" r="8.06"/><circle cx="702.0" cy="497.0" r="8.06"/><circle cx="701.7" cy="526.9" r="8.06"/><circle cx="701.9" cy="528.9" r="8.06"/><circle cx="701.8" cy="539.0" r="8.06"/><circle cx="701.7" cy="543.6" r="8.06"/><circle cx="701.1" cy="558.6" r="8.06"/><circle cx="701.9" cy="569.3" r="8.06"/><circle cx="701.5" cy="572.5" r="8.06"/><circle cx="702.2" cy="439.2" r="8.06"/><circle cx="702.6" cy="471.4" r="8.06"/><circle cx="702.5" cy="485.1" r="8.06"/><circle cx="702.9" cy="503.6" r="8.06"/><circle cx="702.5" cy="522.5" r="8.06"/><circle cx="702.1" cy="526.4" r="8.06"/><circle cx="702.5" cy="546.0" r="8.06"/><circle cx="702.2" cy="557.4" r="8.06"/><circle cx="702.8" cy="577.9" r="8.06"/><circle cx="704.0" cy="461.6" r="8.06"/><circle cx="703.1" cy="490.3" r="8.06"/><circle cx="703.4" cy="492.8" r="8.06"/><circle cx="703.4" cy="504.0" r="8.06"/><circle cx="703.2" cy="547.0" r="8.06"/><circle cx="703.4" cy="550.0" r="8.06"/><circle cx="703.5" cy="552.3" r="8.06"/><circle cx="703.9" cy="578.3" r="8.06"/><circle cx="704.7" cy="421.8" r="8.06"/><circle cx="704.1" cy="450.1" r="8.06"/><circle cx="704.1" cy="453.9" r="8.06"/><circle cx="704.9" cy="492.2" r="8.06"/><circle cx="704.7" cy="539.8" r="8.06"/><circle cx="704.3" cy="546.5" r="8.06"/><circle cx="704.7" cy="561.6" r="8.06"/><circle cx="704.8" cy="582.9" r="8.06"/><circle cx="704.1" cy="588.8" r="8.06"/><circle cx="706.0" cy="465.0" r="8.06"/><circle cx="705.4" cy="471.5" r="8.06"/><circle cx="705.9" cy="477.8" r="8.06"/><circle cx="705.1" cy="484.0" r="8.06"/><circle cx="705.5" cy="501.3" r="8.06"/><circle cx="705.6" cy="509.2" r="8.06"/><circle cx="705.3" cy="534.6" r="8.06"/><circle cx="705.9" cy="556.9" r="8.06"/><circle cx="705.2" cy="574.6" r="8.06"/><circle cx="705.9" cy="580.5" r="8.06"/><circle cx="705.0" cy="587.7" r="8.06"/><circle cx="705.2" cy="590.9" r="8.06"/><circle cx="706.8" cy="473.5" r="8.06"/><circle cx="706.5" cy="508.7" r="8.06"/><circle cx="706.5" cy="516.0" r="8.06"/><circle cx="706.8" cy="515.1" r="8.06"/><circle cx="706.7" cy="530.7" r="8.06"/><circle cx="706.5" cy="535.3" r="8.06"/><circle cx="706.2" cy="546.0" r="8.06"/><circle cx="706.4" cy="562.4" r="8.06"/><circle cx="706.4" cy="576.7" r="8.06"/><circle cx="706.3" cy="577.8" r="8.06"/><circle cx="707.4" cy="424.1" r="8.06"/><circle cx="707.5" cy="458.9" r="8.06"/><circle cx="707.6" cy="526.3" r="8.06"/><circle cx="707.2" cy="534.4" r="8.06"/><circle cx="707.7" cy="549.9" r="8.06"/><circle cx="707.7" cy="554.1" r="8.06"/><circle cx="707.9" cy="575.0" r="8.06"/><circle cx="707.3" cy="577.9" r="8.06"/><circle cx="708.2" cy="422.6" r="8.06"/><circle cx="708.9" cy="496.0" r="8.06"/><circle cx="708.7" cy="513.6" r="8.06"/><circle cx="708.7" cy="524.2" r="8.06"/><circle cx="708.4" cy="539.4" r="8.06"/><circle cx="708.7" cy="547.5" r="8.06"/><circle cx="708.1" cy="565.4" r="8.06"/><circle cx="708.4" cy="578.2" r="8.06"/><circle cx="708.1" cy="584.2" r="8.06"/><circle cx="709.4" cy="410.8" r="8.06"/><circle cx="709.8" cy="425.3" r="8.06"/><circle cx="709.5" cy="476.4" r="8.06"/><circle cx="709.1" cy="480.6" r="8.06"/><circle cx="709.9" cy="514.6" r="8.06"/><circle cx="709.1" cy="519.9" r="8.06"/><circle cx="709.4" cy="520.8" r="8.06"/><circle cx="709.1" cy="523.6" r="8.06"/><circle cx="709.9" cy="530.6" r="8.06"/><circle cx="709.7" cy="554.0" r="8.06"/><circle cx="709.7" cy="554.7" r="8.06"/><circle cx="709.5" cy="586.3" r="8.06"/><circle cx="709.2" cy="587.1" r="8.06"/><circle cx="710.6" cy="386.9" r="8.06"/><circle cx="710.9" cy="462.2" r="8.06"/><circle cx="710.1" cy="492.8" r="8.06"/><circle cx="710.2" cy="496.0" r="8.06"/><circle cx="710.6" cy="513.5" r="8.06"/><circle cx="710.7" cy="539.6" r="8.06"/><circle cx="710.6" cy="541.5" r="8.06"/><circle cx="710.3" cy="564.4" r="8.06"/><circle cx="710.8" cy="581.4" r="8.06"/><circle cx="711.2" cy="464.2" r="8.06"/><circle cx="711.6" cy="490.8" r="8.06"/><circle cx="711.8" cy="508.7" r="8.06"/><circle cx="711.4" cy="510.8" r="8.06"/><circle cx="711.3" cy="566.9" r="8.06"/><circle cx="713.0" cy="463.1" r="8.06"/><circle cx="712.1" cy="464.8" r="8.06"/><circle cx="712.6" cy="475.5" r="8.06"/><circle cx="712.3" cy="496.1" r="8.06"/><circle cx="712.4" cy="509.4" r="8.06"/><circle cx="712.5" cy="535.5" r="8.06"/><circle cx="712.8" cy="563.1" r="8.06"/><circle cx="712.6" cy="565.4" r="8.06"/><circle cx="712.7" cy="573.9" r="8.06"/><circle cx="712.6" cy="574.4" r="8.06"/><circle cx="712.2" cy="575.6" r="8.06"/><circle cx="713.1" cy="429.2" r="8.06"/><circle cx="713.4" cy="472.2" r="8.06"/><circle cx="713.3" cy="497.5" r="8.06"/><circle cx="713.9" cy="532.5" r="8.06"/><circle cx="713.8" cy="579.5" r="8.06"/><circle cx="714.8" cy="426.9" r="8.06"/><circle cx="714.1" cy="452.1" r="8.06"/><circle cx="715.0" cy="488.9" r="8.06"/><circle cx="714.7" cy="528.4" r="8.06"/><circle cx="714.2" cy="538.3" r="8.06"/><circle cx="714.4" cy="547.5" r="8.06"/><circle cx="714.6" cy="585.0" r="8.06"/><circle cx="715.2" cy="500.5" r="8.06"/><circle cx="715.2" cy="536.8" r="8.06"/><circle cx="715.6" cy="538.2" r="8.06"/><circle cx="715.2" cy="576.0" r="8.06"/><circle cx="715.4" cy="586.7" r="8.06"/><circle cx="716.5" cy="422.1" r="8.06"/><circle cx="716.1" cy="498.4" r="8.06"/><circle cx="716.8" cy="499.4" r="8.06"/><circle cx="716.8" cy="521.2" r="8.06"/><circle cx="716.3" cy="543.3" r="8.06"/><circle cx="717.1" cy="430.9" r="8.06"/><circle cx="717.4" cy="436.8" r="8.06"/><circle cx="717.6" cy="442.6" r="8.06"/><circle cx="717.0" cy="498.3" r="8.06"/><circle cx="717.6" cy="502.6" r="8.06"/><circle cx="717.8" cy="503.9" r="8.06"/><circle cx="717.9" cy="526.5" r="8.06"/><circle cx="717.6" cy="555.4" r="8.06"/><circle cx="718.7" cy="409.5" r="8.06"/><circle cx="718.1" cy="482.5" r="8.06"/><circle cx="718.1" cy="492.6" r="8.06"/><circle cx="718.4" cy="537.9" r="8.06"/><circle cx="718.5" cy="548.2" r="8.06"/><circle cx="718.1" cy="557.3" r="8.06"/><circle cx="718.2" cy="580.0" r="8.06"/><circle cx="718.9" cy="583.4" r="8.06"/><circle cx="719.8" cy="446.3" r="8.06"/><circle cx="719.6" cy="454.4" r="8.06"/><circle cx="719.0" cy="495.6" r="8.06"/><circle cx="719.5" cy="527.0" r="8.06"/><circle cx="719.3" cy="545.4" r="8.06"/><circle cx="720.3" cy="392.4" r="8.06"/><circle cx="720.8" cy="428.0" r="8.06"/><circle cx="720.4" cy="465.0" r="8.06"/><circle cx="720.8" cy="478.0" r="8.06"/><circle cx="720.9" cy="484.6" r="8.06"/><circle cx="720.4" cy="516.9" r="8.06"/><circle cx="720.4" cy="524.2" r="8.06"/><circle cx="720.5" cy="542.1" r="8.06"/><circle cx="720.4" cy="547.7" r="8.06"/><circle cx="720.1" cy="570.8" r="8.06"/><circle cx="720.5" cy="575.9" r="8.06"/><circle cx="721.8" cy="438.0" r="8.06"/><circle cx="721.0" cy="466.7" r="8.06"/><circle cx="721.1" cy="516.4" r="8.06"/><circle cx="721.6" cy="543.8" r="8.06"/><circle cx="721.2" cy="550.6" r="8.06"/><circle cx="721.4" cy="551.9" r="8.06"/><circle cx="721.3" cy="566.9" r="8.06"/><circle cx="722.7" cy="405.3" r="8.06"/><circle cx="722.6" cy="417.6" r="8.06"/><circle cx="722.5" cy="481.7" r="8.06"/><circle cx="722.9" cy="489.9" r="8.06"/><circle cx="722.7" cy="496.3" r="8.06"/><circle cx="722.2" cy="503.9" r="8.06"/><circle cx="722.9" cy="542.0" r="8.06"/><circle cx="722.3" cy="553.6" r="8.06"/><circle cx="722.3" cy="564.0" r="8.06"/><circle cx="723.2" cy="450.8" r="8.06"/><circle cx="723.8" cy="464.1" r="8.06"/><circle cx="723.2" cy="510.6" r="8.06"/><circle cx="723.8" cy="513.5" r="8.06"/><circle cx="723.6" cy="526.0" r="8.06"/><circle cx="723.2" cy="539.2" r="8.06"/><circle cx="723.1" cy="547.4" r="8.06"/><circle cx="724.7" cy="420.7" r="8.06"/><circle cx="724.4" cy="421.5" r="8.06"/><circle cx="724.2" cy="484.9" r="8.06"/><circle cx="724.2" cy="493.0" r="8.06"/><circle cx="724.0" cy="492.9" r="8.06"/><circle cx="724.3" cy="522.2" r="8.06"/><circle cx="724.0" cy="543.1" r="8.06"/><circle cx="724.5" cy="554.9" r="8.06"/><circle cx="724.4" cy="565.4" r="8.06"/><circle cx="724.2" cy="583.7" r="8.06"/><circle cx="725.2" cy="411.6" r="8.06"/><circle cx="725.4" cy="460.9" r="8.06"/><circle cx="725.4" cy="525.7" r="8.06"/><circle cx="725.7" cy="543.6" r="8.06"/><circle cx="725.3" cy="564.2" r="8.06"/><circle cx="725.6" cy="569.6" r="8.06"/><circle cx="725.7" cy="572.7" r="8.06"/><circle cx="726.3" cy="395.9" r="8.06"/><circle cx="726.9" cy="477.8" r="8.06"/><circle cx="726.1" cy="488.8" r="8.06"/><circle cx="726.2" cy="497.7" r="8.06"/><circle cx="726.5" cy="527.5" r="8.06"/><circle cx="726.5" cy="555.2" r="8.06"/><circle cx="726.1" cy="572.8" r="8.06"/><circle cx="727.3" cy="388.1" r="8.06"/><circle cx="727.5" cy="404.4" r="8.06"/><circle cx="727.2" cy="413.0" r="8.06"/><circle cx="727.6" cy="432.9" r="8.06"/><circle cx="728.0" cy="440.3" r="8.06"/><circle cx="727.7" cy="447.4" r="8.06"/><circle cx="727.6" cy="459.7" r="8.06"/><circle cx="727.2" cy="481.7" r="8.06"/><circle cx="727.9" cy="493.1" r="8.06"/><circle cx="727.9" cy="494.9" r="8.06"/><circle cx="727.1" cy="534.4" r="8.06"/><circle cx="727.6" cy="543.5" r="8.06"/><circle cx="727.4" cy="544.2" r="8.06"/><circle cx="727.8" cy="549.7" r="8.06"/><circle cx="727.9" cy="561.5" r="8.06"/><circle cx="727.4" cy="568.9" r="8.06"/><circle cx="727.4" cy="573.7" r="8.06"/><circle cx="727.5" cy="580.8" r="8.06"/><circle cx="728.4" cy="371.6" r="8.06"/><circle cx="728.4" cy="433.4" r="8.06"/><circle cx="728.8" cy="505.5" r="8.06"/><circle cx="729.0" cy="556.5" r="8.06"/><circle cx="728.6" cy="575.2" r="8.06"/><circle cx="728.2" cy="575.1" r="8.06"/><circle cx="728.7" cy="582.4" r="8.06"/><circle cx="729.9" cy="390.4" r="8.06"/><circle cx="729.6" cy="437.4" r="8.06"/><circle cx="729.2" cy="473.6" r="8.06"/><circle cx="729.1" cy="521.1" r="8.06"/><circle cx="730.0" cy="536.2" r="8.06"/><circle cx="729.1" cy="551.7" r="8.06"/><circle cx="729.9" cy="583.0" r="8.06"/><circle cx="729.7" cy="584.7" r="8.06"/><circle cx="730.8" cy="414.2" r="8.06"/><circle cx="730.6" cy="435.5" r="8.06"/><circle cx="730.5" cy="495.7" r="8.06"/><circle cx="730.6" cy="524.9" r="8.06"/><circle cx="730.4" cy="527.8" r="8.06"/><circle cx="730.7" cy="530.0" r="8.06"/><circle cx="730.8" cy="547.6" r="8.06"/><circle cx="730.0" cy="559.7" r="8.06"/><circle cx="730.7" cy="561.4" r="8.06"/><circle cx="730.5" cy="565.2" r="8.06"/><circle cx="730.5" cy="567.3" r="8.06"/><circle cx="730.3" cy="578.9" r="8.06"/><circle cx="731.4" cy="507.8" r="8.06"/><circle cx="731.7" cy="526.8" r="8.06"/><circle cx="731.7" cy="555.9" r="8.06"/><circle cx="731.1" cy="561.7" r="8.06"/><circle cx="731.5" cy="582.2" r="8.06"/><circle cx="732.5" cy="424.1" r="8.06"/><circle cx="732.9" cy="452.9" r="8.06"/><circle cx="732.5" cy="458.3" r="8.06"/><circle cx="732.5" cy="459.6" r="8.06"/><circle cx="732.8" cy="520.8" r="8.06"/><circle cx="732.3" cy="526.4" r="8.06"/><circle cx="732.6" cy="553.5" r="8.06"/><circle cx="732.5" cy="589.9" r="8.06"/><circle cx="733.0" cy="398.2" r="8.06"/><circle cx="733.8" cy="419.3" r="8.06"/><circle cx="733.1" cy="420.2" r="8.06"/><circle cx="733.6" cy="461.5" r="8.06"/><circle cx="733.1" cy="465.2" r="8.06"/><circle cx="734.0" cy="485.0" r="8.06"/><circle cx="733.3" cy="485.2" r="8.06"/><circle cx="733.1" cy="494.0" r="8.06"/><circle cx="733.5" cy="504.8" r="8.06"/><circle cx="733.4" cy="504.5" r="8.06"/><circle cx="733.2" cy="507.5" r="8.06"/><circle cx="734.0" cy="509.7" r="8.06"/><circle cx="733.3" cy="530.2" r="8.06"/><circle cx="733.8" cy="572.6" r="8.06"/><circle cx="735.0" cy="383.4" r="8.06"/><circle cx="734.1" cy="471.0" r="8.06"/><circle cx="734.0" cy="489.6" r="8.06"/><circle cx="735.0" cy="499.0" r="8.06"/><circle cx="735.0" cy="510.5" r="8.06"/><circle cx="734.3" cy="515.8" r="8.06"/><circle cx="734.6" cy="536.8" r="8.06"/><circle cx="735.0" cy="536.3" r="8.06"/><circle cx="734.9" cy="574.8" r="8.06"/><circle cx="735.2" cy="427.2" r="8.06"/><circle cx="735.2" cy="462.2" r="8.06"/><circle cx="735.6" cy="474.9" r="8.06"/><circle cx="735.6" cy="479.4" r="8.06"/><circle cx="735.1" cy="504.5" r="8.06"/><circle cx="735.3" cy="513.1" r="8.06"/><circle cx="735.5" cy="527.8" r="8.06"/><circle cx="736.0" cy="530.8" r="8.06"/><circle cx="735.2" cy="538.1" r="8.06"/><circle cx="735.5" cy="556.9" r="8.06"/><circle cx="736.9" cy="522.6" r="8.06"/><circle cx="736.3" cy="532.7" r="8.06"/><circle cx="736.1" cy="552.4" r="8.06"/><circle cx="736.4" cy="557.0" r="8.06"/><circle cx="736.2" cy="577.3" r="8.06"/><circle cx="737.8" cy="421.8" r="8.06"/><circle cx="737.4" cy="465.5" r="8.06"/><circle cx="737.3" cy="487.7" r="8.06"/><circle cx="737.9" cy="504.7" r="8.06"/><circle cx="737.8" cy="507.5" r="8.06"/><circle cx="737.5" cy="507.3" r="8.06"/><circle cx="737.6" cy="537.3" r="8.06"/><circle cx="737.9" cy="586.0" r="8.06"/><circle cx="738.4" cy="498.7" r="8.06"/><circle cx="738.4" cy="543.0" r="8.06"/><circle cx="738.1" cy="558.3" r="8.06"/><circle cx="738.7" cy="578.9" r="8.06"/><circle cx="738.6" cy="581.7" r="8.06"/><circle cx="739.4" cy="410.1" r="8.06"/><circle cx="739.8" cy="481.2" r="8.06"/><circle cx="739.6" cy="489.5" r="8.06"/><circle cx="739.5" cy="584.0" r="8.06"/><circle cx="740.2" cy="435.6" r="8.06"/><circle cx="741.0" cy="502.8" r="8.06"/><circle cx="740.3" cy="510.1" r="8.06"/><circle cx="740.4" cy="551.7" r="8.06"/><circle cx="740.5" cy="559.2" r="8.06"/><circle cx="740.8" cy="581.1" r="8.06"/><circle cx="741.9" cy="437.2" r="8.06"/><circle cx="741.5" cy="455.2" r="8.06"/><circle cx="741.8" cy="557.5" r="8.06"/><circle cx="741.2" cy="579.7" r="8.06"/><circle cx="742.9" cy="439.5" r="8.06"/><circle cx="742.1" cy="479.4" r="8.06"/><circle cx="742.8" cy="496.6" r="8.06"/><circle cx="742.7" cy="535.8" r="8.06"/><circle cx="742.2" cy="544.0" r="8.06"/><circle cx="742.3" cy="561.7" r="8.06"/><circle cx="742.5" cy="574.2" r="8.06"/><circle cx="743.1" cy="354.1" r="8.06"/><circle cx="743.4" cy="405.7" r="8.06"/><circle cx="743.5" cy="415.7" r="8.06"/><circle cx="743.1" cy="419.8" r="8.06"/><circle cx="743.6" cy="427.8" r="8.06"/><circle cx="743.4" cy="477.2" r="8.06"/><circle cx="743.1" cy="497.6" r="8.06"/><circle cx="743.4" cy="531.0" r="8.06"/><circle cx="743.8" cy="544.1" r="8.06"/><circle cx="743.1" cy="564.1" r="8.06"/><circle cx="744.3" cy="384.8" r="8.06"/><circle cx="744.0" cy="385.2" r="8.06"/><circle cx="744.5" cy="402.0" r="8.06"/><circle cx="744.8" cy="421.5" r="8.06"/><circle cx="744.0" cy="438.2" r="8.06"/><circle cx="744.4" cy="452.0" r="8.06"/><circle cx="744.4" cy="496.7" r="8.06"/><circle cx="744.9" cy="504.8" r="8.06"/><circle cx="744.6" cy="507.2" r="8.06"/><circle cx="744.9" cy="520.3" r="8.06"/><circle cx="744.6" cy="525.4" r="8.06"/><circle cx="744.5" cy="528.1" r="8.06"/><circle cx="744.6" cy="536.0" r="8.06"/><circle cx="744.9" cy="538.7" r="8.06"/><circle cx="744.8" cy="542.9" r="8.06"/><circle cx="744.1" cy="573.3" r="8.06"/><circle cx="744.4" cy="578.2" r="8.06"/><circle cx="744.2" cy="579.0" r="8.06"/><circle cx="744.2" cy="591.3" r="8.06"/><circle cx="745.1" cy="429.6" r="8.06"/><circle cx="745.1" cy="498.0" r="8.06"/><circle cx="745.6" cy="504.3" r="8.06"/><circle cx="745.6" cy="512.2" r="8.06"/><circle cx="745.7" cy="515.6" r="8.06"/><circle cx="745.1" cy="522.2" r="8.06"/><circle cx="745.8" cy="537.5" r="8.06"/><circle cx="745.8" cy="539.7" r="8.06"/><circle cx="745.0" cy="578.1" r="8.06"/><circle cx="745.3" cy="582.2" r="8.06"/><circle cx="746.2" cy="386.3" r="8.06"/><circle cx="746.7" cy="440.1" r="8.06"/><circle cx="746.5" cy="495.4" r="8.06"/><circle cx="746.4" cy="509.5" r="8.06"/><circle cx="746.2" cy="550.2" r="8.06"/><circle cx="746.9" cy="555.4" r="8.06"/><circle cx="746.6" cy="566.4" r="8.06"/><circle cx="746.5" cy="568.9" r="8.06"/><circle cx="746.9" cy="579.4" r="8.06"/><circle cx="747.3" cy="393.1" r="8.06"/><circle cx="747.5" cy="418.6" r="8.06"/><circle cx="747.7" cy="472.1" r="8.06"/><circle cx="747.0" cy="501.2" r="8.06"/><circle cx="747.6" cy="511.2" r="8.06"/><circle cx="747.2" cy="514.5" r="8.06"/><circle cx="747.7" cy="519.5" r="8.06"/><circle cx="747.1" cy="569.8" r="8.06"/><circle cx="748.3" cy="413.8" r="8.06"/><circle cx="748.6" cy="419.2" r="8.06"/><circle cx="749.0" cy="527.0" r="8.06"/><circle cx="748.8" cy="533.3" r="8.06"/><circle cx="748.4" cy="538.1" r="8.06"/><circle cx="748.8" cy="542.8" r="8.06"/><circle cx="748.4" cy="574.0" r="8.06"/><circle cx="749.4" cy="492.1" r="8.06"/><circle cx="750.0" cy="516.5" r="8.06"/><circle cx="749.3" cy="516.8" r="8.06"/><circle cx="749.8" cy="556.3" r="8.06"/><circle cx="750.8" cy="365.2" r="8.06"/><circle cx="750.4" cy="462.9" r="8.06"/><circle cx="750.5" cy="463.9" r="8.06"/><circle cx="750.4" cy="464.5" r="8.06"/><circle cx="750.8" cy="481.7" r="8.06"/><circle cx="750.9" cy="507.8" r="8.06"/><circle cx="750.1" cy="524.0" r="8.06"/><circle cx="750.5" cy="526.8" r="8.06"/><circle cx="750.3" cy="560.7" r="8.06"/><circle cx="750.4" cy="577.6" r="8.06"/><circle cx="750.7" cy="578.4" r="8.06"/><circle cx="751.5" cy="456.0" r="8.06"/><circle cx="751.2" cy="475.0" r="8.06"/><circle cx="751.5" cy="528.3" r="8.06"/><circle cx="751.1" cy="558.8" r="8.06"/><circle cx="752.0" cy="561.7" r="8.06"/><circle cx="751.8" cy="578.7" r="8.06"/><circle cx="752.5" cy="406.9" r="8.06"/><circle cx="752.5" cy="423.1" r="8.06"/><circle cx="752.0" cy="428.5" r="8.06"/><circle cx="752.3" cy="431.9" r="8.06"/><circle cx="752.0" cy="485.3" r="8.06"/><circle cx="753.0" cy="488.0" r="8.06"/><circle cx="752.3" cy="490.8" r="8.06"/><circle cx="752.8" cy="504.1" r="8.06"/><circle cx="752.9" cy="505.1" r="8.06"/><circle cx="752.3" cy="511.5" r="8.06"/><circle cx="752.1" cy="521.4" r="8.06"/><circle cx="752.0" cy="522.5" r="8.06"/><circle cx="752.7" cy="535.9" r="8.06"/><circle cx="752.9" cy="537.5" r="8.06"/><circle cx="752.4" cy="537.6" r="8.06"/><circle cx="752.4" cy="570.6" r="8.06"/><circle cx="753.3" cy="414.5" r="8.06"/><circle cx="753.9" cy="453.2" r="8.06"/><circle cx="753.5" cy="507.6" r="8.06"/><circle cx="753.4" cy="530.7" r="8.06"/><circle cx="753.9" cy="551.1" r="8.06"/><circle cx="753.1" cy="567.3" r="8.06"/><circle cx="754.1" cy="457.9" r="8.06"/><circle cx="754.1" cy="473.1" r="8.06"/><circle cx="754.6" cy="495.9" r="8.06"/><circle cx="754.0" cy="540.8" r="8.06"/><circle cx="754.1" cy="547.9" r="8.06"/><circle cx="754.2" cy="553.7" r="8.06"/><circle cx="755.8" cy="386.8" r="8.06"/><circle cx="755.6" cy="429.2" r="8.06"/><circle cx="755.8" cy="451.2" r="8.06"/><circle cx="756.0" cy="488.1" r="8.06"/><circle cx="755.6" cy="505.8" r="8.06"/><circle cx="755.3" cy="513.3" r="8.06"/><circle cx="755.4" cy="561.0" r="8.06"/><circle cx="755.2" cy="561.2" r="8.06"/><circle cx="755.3" cy="578.8" r="8.06"/><circle cx="756.8" cy="347.7" r="8.06"/><circle cx="756.1" cy="375.9" r="8.06"/><circle cx="756.1" cy="441.2" r="8.06"/><circle cx="756.7" cy="490.3" r="8.06"/><circle cx="756.7" cy="499.1" r="8.06"/><circle cx="756.8" cy="501.4" r="8.06"/><circle cx="756.6" cy="510.1" r="8.06"/><circle cx="756.2" cy="515.3" r="8.06"/><circle cx="756.3" cy="518.1" r="8.06"/><circle cx="756.5" cy="536.7" r="8.06"/><circle cx="756.3" cy="547.4" r="8.06"/><circle cx="757.4" cy="431.4" r="8.06"/><circle cx="757.7" cy="440.5" r="8.06"/><circle cx="757.3" cy="446.3" r="8.06"/><circle cx="757.4" cy="497.0" r="8.06"/><circle cx="757.9" cy="526.7" r="8.06"/><circle cx="757.5" cy="565.5" r="8.06"/><circle cx="758.2" cy="403.6" r="8.06"/><circle cx="758.5" cy="469.6" r="8.06"/><circle cx="758.2" cy="482.5" r="8.06"/><circle cx="758.6" cy="531.0" r="8.06"/><circle cx="758.7" cy="543.2" r="8.06"/><circle cx="758.2" cy="563.6" r="8.06"/><circle cx="758.9" cy="586.8" r="8.06"/><circle cx="759.3" cy="510.0" r="8.06"/><circle cx="759.1" cy="510.4" r="8.06"/><circle cx="759.4" cy="523.1" r="8.06"/><circle cx="759.1" cy="553.2" r="8.06"/><circle cx="759.3" cy="557.3" r="8.06"/><circle cx="759.4" cy="564.8" r="8.06"/><circle cx="760.8" cy="431.7" r="8.06"/><circle cx="760.6" cy="493.5" r="8.06"/><circle cx="760.4" cy="499.4" r="8.06"/><circle cx="760.0" cy="511.3" r="8.06"/><circle cx="760.6" cy="544.5" r="8.06"/><circle cx="760.6" cy="547.0" r="8.06"/><circle cx="760.9" cy="567.6" r="8.06"/><circle cx="760.4" cy="582.6" r="8.06"/><circle cx="761.2" cy="418.7" r="8.06"/><circle cx="761.0" cy="425.3" r="8.06"/><circle cx="761.8" cy="483.8" r="8.06"/><circle cx="761.9" cy="513.5" r="8.06"/><circle cx="761.7" cy="532.2" r="8.06"/><circle cx="761.5" cy="535.8" r="8.06"/><circle cx="761.7" cy="553.5" r="8.06"/><circle cx="761.0" cy="560.8" r="8.06"/><circle cx="761.2" cy="564.3" r="8.06"/><circle cx="762.7" cy="358.7" r="8.06"/><circle cx="762.4" cy="415.5" r="8.06"/><circle cx="762.3" cy="434.7" r="8.06"/><circle cx="762.5" cy="444.6" r="8.06"/><circle cx="762.1" cy="479.5" r="8.06"/><circle cx="762.6" cy="491.1" r="8.06"/><circle cx="762.7" cy="501.7" r="8.06"/><circle cx="762.4" cy="502.4" r="8.06"/><circle cx="762.1" cy="521.2" r="8.06"/><circle cx="763.4" cy="389.8" r="8.06"/><circle cx="763.1" cy="467.1" r="8.06"/><circle cx="763.9" cy="468.2" r="8.06"/><circle cx="763.1" cy="507.4" r="8.06"/><circle cx="764.0" cy="550.4" r="8.06"/><circle cx="763.8" cy="570.7" r="8.06"/><circle cx="763.9" cy="580.1" r="8.06"/><circle cx="764.9" cy="369.3" r="8.06"/><circle cx="764.5" cy="395.2" r="8.06"/><circle cx="764.9" cy="407.7" r="8.06"/><circle cx="764.6" cy="437.3" r="8.06"/><circle cx="764.4" cy="483.8" r="8.06"/><circle cx="764.6" cy="484.2" r="8.06"/><circle cx="764.2" cy="507.0" r="8.06"/><circle cx="764.8" cy="553.8" r="8.06"/><circle cx="764.3" cy="567.9" r="8.06"/><circle cx="765.1" cy="393.9" r="8.06"/><circle cx="765.2" cy="404.1" r="8.06"/><circle cx="765.3" cy="471.2" r="8.06"/><circle cx="765.8" cy="496.1" r="8.06"/><circle cx="766.0" cy="510.3" r="8.06"/><circle cx="765.2" cy="561.0" r="8.06"/><circle cx="766.2" cy="367.3" r="8.06"/><circle cx="766.4" cy="385.6" r="8.06"/><circle cx="766.2" cy="387.7" r="8.06"/><circle cx="766.2" cy="394.2" r="8.06"/><circle cx="766.8" cy="495.5" r="8.06"/><circle cx="766.8" cy="561.9" r="8.06"/><circle cx="766.1" cy="579.0" r="8.06"/><circle cx="767.6" cy="320.7" r="8.06"/><circle cx="767.7" cy="391.7" r="8.06"/><circle cx="767.5" cy="402.0" r="8.06"/><circle cx="767.2" cy="435.0" r="8.06"/><circle cx="767.1" cy="500.6" r="8.06"/><circle cx="767.0" cy="519.0" r="8.06"/><circle cx="767.3" cy="537.9" r="8.06"/><circle cx="767.8" cy="549.9" r="8.06"/><circle cx="767.4" cy="560.9" r="8.06"/><circle cx="767.7" cy="560.5" r="8.06"/><circle cx="767.4" cy="576.8" r="8.06"/><circle cx="768.8" cy="429.7" r="8.06"/><circle cx="768.3" cy="477.3" r="8.06"/><circle cx="768.0" cy="487.3" r="8.06"/><circle cx="768.1" cy="489.2" r="8.06"/><circle cx="768.2" cy="525.8" r="8.06"/><circle cx="768.3" cy="547.1" r="8.06"/><circle cx="768.6" cy="552.6" r="8.06"/><circle cx="768.2" cy="569.4" r="8.06"/><circle cx="769.5" cy="427.5" r="8.06"/><circle cx="769.9" cy="445.3" r="8.06"/><circle cx="769.1" cy="477.9" r="8.06"/><circle cx="769.7" cy="485.1" r="8.06"/><circle cx="769.7" cy="501.0" r="8.06"/><circle cx="769.4" cy="507.4" r="8.06"/><circle cx="769.4" cy="532.0" r="8.06"/><circle cx="769.6" cy="574.6" r="8.06"/><circle cx="770.3" cy="350.4" r="8.06"/><circle cx="770.2" cy="448.2" r="8.06"/><circle cx="770.7" cy="467.0" r="8.06"/><circle cx="770.2" cy="472.2" r="8.06"/><circle cx="770.2" cy="524.2" r="8.06"/><circle cx="770.9" cy="526.6" r="8.06"/><circle cx="770.9" cy="563.2" r="8.06"/><circle cx="771.9" cy="343.2" r="8.06"/><circle cx="771.1" cy="393.9" r="8.06"/><circle cx="771.5" cy="466.7" r="8.06"/><circle cx="772.0" cy="486.0" r="8.06"/><circle cx="771.3" cy="490.0" r="8.06"/><circle cx="771.7" cy="528.8" r="8.06"/><circle cx="771.6" cy="538.2" r="8.06"/><circle cx="771.8" cy="549.0" r="8.06"/><circle cx="771.9" cy="555.1" r="8.06"/><circle cx="772.8" cy="415.7" r="8.06"/><circle cx="772.6" cy="430.1" r="8.06"/><circle cx="772.3" cy="490.0" r="8.06"/><circle cx="772.2" cy="535.1" r="8.06"/><circle cx="772.0" cy="545.2" r="8.06"/><circle cx="772.7" cy="563.7" r="8.06"/><circle cx="773.5" cy="366.5" r="8.06"/><circle cx="774.0" cy="416.2" r="8.06"/><circle cx="773.6" cy="435.8" r="8.06"/><circle cx="773.9" cy="447.7" r="8.06"/><circle cx="773.9" cy="447.5" r="8.06"/><circle cx="774.0" cy="498.1" r="8.06"/><circle cx="773.4" cy="500.6" r="8.06"/><circle cx="773.1" cy="507.0" r="8.06"/><circle cx="773.5" cy="545.8" r="8.06"/><circle cx="774.2" cy="345.8" r="8.06"/><circle cx="774.7" cy="360.3" r="8.06"/><circle cx="774.7" cy="401.1" r="8.06"/><circle cx="774.3" cy="431.1" r="8.06"/><circle cx="775.0" cy="432.9" r="8.06"/><circle cx="774.9" cy="442.7" r="8.06"/><circle cx="774.6" cy="480.3" r="8.06"/><circle cx="774.9" cy="489.0" r="8.06"/><circle cx="774.1" cy="494.2" r="8.06"/><circle cx="774.9" cy="529.7" r="8.06"/><circle cx="775.0" cy="532.3" r="8.06"/><circle cx="775.3" cy="426.1" r="8.06"/><circle cx="775.3" cy="433.6" r="8.06"/><circle cx="775.7" cy="438.4" r="8.06"/><circle cx="775.5" cy="439.9" r="8.06"/><circle cx="775.6" cy="444.7" r="8.06"/><circle cx="775.8" cy="449.7" r="8.06"/><circle cx="775.2" cy="488.0" r="8.06"/><circle cx="775.9" cy="506.6" r="8.06"/><circle cx="775.7" cy="506.9" r="8.06"/><circle cx="775.5" cy="518.7" r="8.06"/><circle cx="775.2" cy="542.3" r="8.06"/><circle cx="775.5" cy="543.8" r="8.06"/><circle cx="776.3" cy="358.5" r="8.06"/><circle cx="776.1" cy="392.2" r="8.06"/><circle cx="777.0" cy="466.4" r="8.06"/><circle cx="776.4" cy="478.4" r="8.06"/><circle cx="776.5" cy="482.4" r="8.06"/><circle cx="776.3" cy="539.2" r="8.06"/><circle cx="776.2" cy="540.5" r="8.06"/><circle cx="776.6" cy="555.0" r="8.06"/><circle cx="777.8" cy="358.4" r="8.06"/><circle cx="777.1" cy="374.5" r="8.06"/><circle cx="777.8" cy="397.6" r="8.06"/><circle cx="777.2" cy="420.1" r="8.06"/><circle cx="777.6" cy="429.1" r="8.06"/><circle cx="777.1" cy="430.6" r="8.06"/><circle cx="777.9" cy="468.8" r="8.06"/><circle cx="777.3" cy="471.4" r="8.06"/><circle cx="777.7" cy="474.5" r="8.06"/><circle cx="777.3" cy="477.9" r="8.06"/><circle cx="777.7" cy="485.1" r="8.06"/><circle cx="777.2" cy="487.1" r="8.06"/><circle cx="777.1" cy="505.5" r="8.06"/><circle cx="777.6" cy="517.5" r="8.06"/><circle cx="777.3" cy="518.1" r="8.06"/><circle cx="777.2" cy="526.2" r="8.06"/><circle cx="777.7" cy="529.0" r="8.06"/><circle cx="777.6" cy="575.2" r="8.06"/><circle cx="778.4" cy="372.4" r="8.06"/><circle cx="778.7" cy="376.4" r="8.06"/><circle cx="778.2" cy="408.9" r="8.06"/><circle cx="778.0" cy="469.4" r="8.06"/><circle cx="778.2" cy="482.2" r="8.06"/><circle cx="778.6" cy="525.6" r="8.06"/><circle cx="778.9" cy="528.2" r="8.06"/><circle cx="778.4" cy="541.3" r="8.06"/><circle cx="778.6" cy="565.1" r="8.06"/><circle cx="778.5" cy="573.6" r="8.06"/><circle cx="779.5" cy="439.3" r="8.06"/><circle cx="779.3" cy="441.4" r="8.06"/><circle cx="779.1" cy="443.3" r="8.06"/><circle cx="779.2" cy="449.4" r="8.06"/><circle cx="779.6" cy="532.8" r="8.06"/><circle cx="779.9" cy="534.6" r="8.06"/><circle cx="779.4" cy="552.7" r="8.06"/><circle cx="779.6" cy="559.5" r="8.06"/><circle cx="779.3" cy="572.6" r="8.06"/><circle cx="779.2" cy="574.0" r="8.06"/><circle cx="780.1" cy="398.1" r="8.06"/><circle cx="781.0" cy="434.3" r="8.06"/><circle cx="780.9" cy="447.8" r="8.06"/><circle cx="780.5" cy="450.8" r="8.06"/><circle cx="780.3" cy="467.8" r="8.06"/><circle cx="780.5" cy="474.3" r="8.06"/><circle cx="780.2" cy="483.7" r="8.06"/><circle cx="780.4" cy="490.4" r="8.06"/><circle cx="780.4" cy="525.6" r="8.06"/><circle cx="780.2" cy="542.0" r="8.06"/><circle cx="780.5" cy="544.4" r="8.06"/><circle cx="780.8" cy="566.2" r="8.06"/><circle cx="780.3" cy="569.3" r="8.06"/><circle cx="780.1" cy="570.5" r="8.06"/><circle cx="781.0" cy="360.2" r="8.06"/><circle cx="781.9" cy="399.8" r="8.06"/><circle cx="781.2" cy="407.7" r="8.06"/><circle cx="781.8" cy="470.2" r="8.06"/><circle cx="781.1" cy="501.0" r="8.06"/><circle cx="781.9" cy="515.4" r="8.06"/><circle cx="781.4" cy="524.5" r="8.06"/><circle cx="781.4" cy="547.0" r="8.06"/><circle cx="781.8" cy="547.8" r="8.06"/><circle cx="782.9" cy="420.7" r="8.06"/><circle cx="782.2" cy="457.3" r="8.06"/><circle cx="782.4" cy="464.0" r="8.06"/><circle cx="782.6" cy="481.6" r="8.06"/><circle cx="782.5" cy="494.7" r="8.06"/><circle cx="782.3" cy="514.5" r="8.06"/><circle cx="782.3" cy="517.1" r="8.06"/><circle cx="782.3" cy="532.0" r="8.06"/><circle cx="782.5" cy="536.7" r="8.06"/><circle cx="783.2" cy="369.2" r="8.06"/><circle cx="783.6" cy="408.9" r="8.06"/><circle cx="783.3" cy="462.6" r="8.06"/><circle cx="783.4" cy="541.0" r="8.06"/><circle cx="783.7" cy="558.5" r="8.06"/><circle cx="785.0" cy="368.3" r="8.06"/><circle cx="784.5" cy="415.4" r="8.06"/><circle cx="784.4" cy="477.5" r="8.06"/><circle cx="784.6" cy="489.0" r="8.06"/><circle cx="784.5" cy="493.0" r="8.06"/><circle cx="784.4" cy="524.5" r="8.06"/><circle cx="784.4" cy="530.7" r="8.06"/><circle cx="784.3" cy="549.2" r="8.06"/><circle cx="784.9" cy="556.1" r="8.06"/><circle cx="784.9" cy="560.6" r="8.06"/><circle cx="784.4" cy="567.7" r="8.06"/><circle cx="784.7" cy="571.1" r="8.06"/><circle cx="785.9" cy="315.1" r="8.06"/><circle cx="785.9" cy="385.1" r="8.06"/><circle cx="785.2" cy="413.2" r="8.06"/><circle cx="785.0" cy="451.8" r="8.06"/><circle cx="785.4" cy="490.6" r="8.06"/><circle cx="785.7" cy="513.0" r="8.06"/><circle cx="785.8" cy="564.6" r="8.06"/><circle cx="786.2" cy="386.4" r="8.06"/><circle cx="786.0" cy="403.2" r="8.06"/><circle cx="786.8" cy="452.6" r="8.06"/><circle cx="786.5" cy="477.6" r="8.06"/><circle cx="786.9" cy="494.0" r="8.06"/><circle cx="786.3" cy="556.4" r="8.06"/><circle cx="786.3" cy="560.9" r="8.06"/><circle cx="786.2" cy="562.8" r="8.06"/><circle cx="787.4" cy="352.5" r="8.06"/><circle cx="787.2" cy="397.0" r="8.06"/><circle cx="787.8" cy="423.9" r="8.06"/><circle cx="787.7" cy="450.9" r="8.06"/><circle cx="787.8" cy="541.2" r="8.06"/><circle cx="787.1" cy="545.2" r="8.06"/><circle cx="787.6" cy="549.4" r="8.06"/><circle cx="788.0" cy="394.5" r="8.06"/><circle cx="788.7" cy="420.1" r="8.06"/><circle cx="788.4" cy="426.8" r="8.06"/><circle cx="788.7" cy="471.9" r="8.06"/><circle cx="788.1" cy="482.6" r="8.06"/><circle cx="788.2" cy="502.5" r="8.06"/><circle cx="788.6" cy="507.8" r="8.06"/><circle cx="788.8" cy="534.8" r="8.06"/><circle cx="789.6" cy="420.7" r="8.06"/><circle cx="789.9" cy="428.0" r="8.06"/><circle cx="789.6" cy="479.7" r="8.06"/><circle cx="790.0" cy="485.7" r="8.06"/><circle cx="789.4" cy="493.0" r="8.06"/><circle cx="789.3" cy="534.6" r="8.06"/><circle cx="789.6" cy="537.1" r="8.06"/><circle cx="790.4" cy="361.9" r="8.06"/><circle cx="790.9" cy="379.8" r="8.06"/><circle cx="790.9" cy="415.8" r="8.06"/><circle cx="790.0" cy="426.7" r="8.06"/><circle cx="790.3" cy="440.1" r="8.06"/><circle cx="790.9" cy="488.0" r="8.06"/><circle cx="790.5" cy="537.2" r="8.06"/><circle cx="790.7" cy="559.7" r="8.06"/><circle cx="790.0" cy="566.4" r="8.06"/><circle cx="790.4" cy="566.6" r="8.06"/><circle cx="791.0" cy="571.1" r="8.06"/><circle cx="791.4" cy="294.7" r="8.06"/><circle cx="791.7" cy="374.5" r="8.06"/><circle cx="791.8" cy="383.7" r="8.06"/><circle cx="791.5" cy="422.6" r="8.06"/><circle cx="791.5" cy="490.0" r="8.06"/><circle cx="791.4" cy="518.7" r="8.06"/><circle cx="792.8" cy="343.2" r="8.06"/><circle cx="792.4" cy="359.7" r="8.06"/><circle cx="792.8" cy="359.4" r="8.06"/><circle cx="792.5" cy="422.5" r="8.06"/><circle cx="792.6" cy="453.7" r="8.06"/><circle cx="793.0" cy="453.6" r="8.06"/><circle cx="792.1" cy="506.5" r="8.06"/><circle cx="792.3" cy="539.0" r="8.06"/><circle cx="792.3" cy="555.0" r="8.06"/><circle cx="793.0" cy="346.6" r="8.06"/><circle cx="794.0" cy="353.3" r="8.06"/><circle cx="794.0" cy="411.3" r="8.06"/><circle cx="793.4" cy="448.0" r="8.06"/><circle cx="793.8" cy="461.7" r="8.06"/><circle cx="793.3" cy="473.3" r="8.06"/><circle cx="793.1" cy="485.5" r="8.06"/><circle cx="793.7" cy="492.5" r="8.06"/><circle cx="793.3" cy="521.4" r="8.06"/><circle cx="794.7" cy="269.2" r="8.06"/><circle cx="794.5" cy="385.2" r="8.06"/><circle cx="794.4" cy="473.5" r="8.06"/><circle cx="794.3" cy="480.2" r="8.06"/><circle cx="794.4" cy="519.0" r="8.06"/><circle cx="794.5" cy="528.8" r="8.06"/><circle cx="794.9" cy="542.6" r="8.06"/><circle cx="794.4" cy="544.2" r="8.06"/><circle cx="794.1" cy="544.9" r="8.06"/><circle cx="794.0" cy="558.4" r="8.06"/><circle cx="794.9" cy="570.5" r="8.06"/><circle cx="795.0" cy="295.6" r="8.06"/><circle cx="795.9" cy="331.8" r="8.06"/><circle cx="795.8" cy="376.9" r="8.06"/><circle cx="795.4" cy="451.4" r="8.06"/><circle cx="795.3" cy="470.9" r="8.06"/><circle cx="796.0" cy="472.5" r="8.06"/><circle cx="795.4" cy="473.0" r="8.06"/><circle cx="795.3" cy="550.1" r="8.06"/><circle cx="795.4" cy="564.0" r="8.06"/><circle cx="795.2" cy="580.6" r="8.06"/><circle cx="796.1" cy="321.6" r="8.06"/><circle cx="796.4" cy="489.7" r="8.06"/><circle cx="796.2" cy="512.4" r="8.06"/><circle cx="797.0" cy="514.6" r="8.06"/><circle cx="796.2" cy="538.0" r="8.06"/><circle cx="796.9" cy="555.7" r="8.06"/><circle cx="797.0" cy="315.9" r="8.06"/><circle cx="797.8" cy="394.7" r="8.06"/><circle cx="797.9" cy="395.4" r="8.06"/><circle cx="797.3" cy="405.1" r="8.06"/><circle cx="797.3" cy="418.8" r="8.06"/><circle cx="797.0" cy="466.8" r="8.06"/><circle cx="797.8" cy="483.0" r="8.06"/><circle cx="797.1" cy="483.3" r="8.06"/><circle cx="797.9" cy="496.0" r="8.06"/><circle cx="798.0" cy="501.1" r="8.06"/><circle cx="797.8" cy="519.1" r="8.06"/><circle cx="798.0" cy="529.4" r="8.06"/><circle cx="797.6" cy="530.3" r="8.06"/><circle cx="797.5" cy="539.0" r="8.06"/><circle cx="798.4" cy="387.3" r="8.06"/><circle cx="798.2" cy="397.0" r="8.06"/><circle cx="798.3" cy="421.2" r="8.06"/><circle cx="798.4" cy="454.0" r="8.06"/><circle cx="798.3" cy="481.1" r="8.06"/><circle cx="798.8" cy="501.5" r="8.06"/><circle cx="798.9" cy="505.4" r="8.06"/><circle cx="798.4" cy="559.1" r="8.06"/><circle cx="799.0" cy="570.0" r="8.06"/><circle cx="799.5" cy="254.2" r="8.06"/><circle cx="799.6" cy="387.4" r="8.06"/><circle cx="799.3" cy="392.7" r="8.06"/><circle cx="799.5" cy="400.0" r="8.06"/><circle cx="799.7" cy="411.6" r="8.06"/><circle cx="799.5" cy="440.4" r="8.06"/><circle cx="799.7" cy="489.1" r="8.06"/><circle cx="799.1" cy="523.9" r="8.06"/><circle cx="799.7" cy="523.1" r="8.06"/><circle cx="799.4" cy="530.0" r="8.06"/><circle cx="799.1" cy="550.3" r="8.06"/><circle cx="800.8" cy="299.9" r="8.06"/><circle cx="800.2" cy="388.0" r="8.06"/><circle cx="800.8" cy="431.8" r="8.06"/><circle cx="800.3" cy="456.8" r="8.06"/><circle cx="800.3" cy="461.8" r="8.06"/><circle cx="800.7" cy="509.3" r="8.06"/><circle cx="800.7" cy="512.4" r="8.06"/><circle cx="800.1" cy="517.1" r="8.06"/><circle cx="800.6" cy="522.7" r="8.06"/><circle cx="800.6" cy="550.4" r="8.06"/><circle cx="800.2" cy="555.7" r="8.06"/><circle cx="801.3" cy="267.9" r="8.06"/><circle cx="801.1" cy="348.3" r="8.06"/><circle cx="801.1" cy="382.2" r="8.06"/><circle cx="801.0" cy="435.1" r="8.06"/><circle cx="801.4" cy="443.6" r="8.06"/><circle cx="801.4" cy="443.8" r="8.06"/><circle cx="801.4" cy="448.4" r="8.06"/><circle cx="801.2" cy="480.7" r="8.06"/><circle cx="801.2" cy="496.0" r="8.06"/><circle cx="801.5" cy="529.3" r="8.06"/><circle cx="801.1" cy="533.0" r="8.06"/><circle cx="802.7" cy="448.8" r="8.06"/><circle cx="802.0" cy="464.8" r="8.06"/><circle cx="802.1" cy="469.5" r="8.06"/><circle cx="802.2" cy="505.7" r="8.06"/><circle cx="802.8" cy="513.0" r="8.06"/><circle cx="802.8" cy="531.7" r="8.06"/><circle cx="802.7" cy="553.4" r="8.06"/><circle cx="802.3" cy="559.2" r="8.06"/><circle cx="803.9" cy="284.6" r="8.06"/><circle cx="803.7" cy="406.1" r="8.06"/><circle cx="803.5" cy="423.4" r="8.06"/><circle cx="803.7" cy="482.1" r="8.06"/><circle cx="803.4" cy="488.1" r="8.06"/><circle cx="803.1" cy="525.9" r="8.06"/><circle cx="803.4" cy="529.1" r="8.06"/><circle cx="803.4" cy="540.5" r="8.06"/><circle cx="803.7" cy="541.4" r="8.06"/><circle cx="803.0" cy="551.7" r="8.06"/><circle cx="803.1" cy="570.2" r="8.06"/><circle cx="804.3" cy="329.1" r="8.06"/><circle cx="804.8" cy="372.7" r="8.06"/><circle cx="804.3" cy="394.0" r="8.06"/><circle cx="804.2" cy="401.8" r="8.06"/><circle cx="804.1" cy="411.3" r="8.06"/><circle cx="804.8" cy="446.8" r="8.06"/><circle cx="804.9" cy="462.3" r="8.06"/><circle cx="804.8" cy="507.7" r="8.06"/><circle cx="804.1" cy="521.3" r="8.06"/><circle cx="804.1" cy="546.6" r="8.06"/><circle cx="805.0" cy="569.6" r="8.06"/><circle cx="805.3" cy="301.2" r="8.06"/><circle cx="805.9" cy="371.4" r="8.06"/><circle cx="806.0" cy="405.2" r="8.06"/><circle cx="805.9" cy="407.5" r="8.06"/><circle cx="805.2" cy="507.4" r="8.06"/><circle cx="805.3" cy="509.9" r="8.06"/><circle cx="805.9" cy="557.1" r="8.06"/><circle cx="805.8" cy="559.2" r="8.06"/><circle cx="805.7" cy="572.8" r="8.06"/><circle cx="806.9" cy="243.8" r="8.06"/><circle cx="806.3" cy="366.0" r="8.06"/><circle cx="806.2" cy="427.3" r="8.06"/><circle cx="806.8" cy="470.1" r="8.06"/><circle cx="806.8" cy="493.7" r="8.06"/><circle cx="806.4" cy="512.6" r="8.06"/><circle cx="806.8" cy="554.4" r="8.06"/><circle cx="806.1" cy="571.9" r="8.06"/><circle cx="807.6" cy="375.3" r="8.06"/><circle cx="807.3" cy="406.8" r="8.06"/><circle cx="807.6" cy="418.2" r="8.06"/><circle cx="807.3" cy="479.2" r="8.06"/><circle cx="808.0" cy="489.8" r="8.06"/><circle cx="807.5" cy="495.6" r="8.06"/><circle cx="807.7" cy="503.6" r="8.06"/><circle cx="807.9" cy="511.3" r="8.06"/><circle cx="807.5" cy="520.1" r="8.06"/><circle cx="807.9" cy="536.2" r="8.06"/><circle cx="807.7" cy="555.0" r="8.06"/><circle cx="807.0" cy="564.5" r="8.06"/><circle cx="808.3" cy="416.6" r="8.06"/><circle cx="808.3" cy="435.1" r="8.06"/><circle cx="808.5" cy="440.2" r="8.06"/><circle cx="808.3" cy="445.9" r="8.06"/><circle cx="808.5" cy="494.4" r="8.06"/><circle cx="808.1" cy="531.3" r="8.06"/><circle cx="809.3" cy="366.9" r="8.06"/><circle cx="809.4" cy="485.4" r="8.06"/><circle cx="810.0" cy="485.8" r="8.06"/><circle cx="809.4" cy="498.5" r="8.06"/><circle cx="809.4" cy="527.9" r="8.06"/><circle cx="809.8" cy="534.3" r="8.06"/><circle cx="811.0" cy="281.4" r="8.06"/><circle cx="810.7" cy="412.8" r="8.06"/><circle cx="810.1" cy="414.7" r="8.06"/><circle cx="810.1" cy="416.3" r="8.06"/><circle cx="811.0" cy="424.7" r="8.06"/><circle cx="810.0" cy="432.0" r="8.06"/><circle cx="810.8" cy="488.6" r="8.06"/><circle cx="810.5" cy="555.7" r="8.06"/><circle cx="811.8" cy="322.3" r="8.06"/><circle cx="811.9" cy="385.2" r="8.06"/><circle cx="811.2" cy="475.0" r="8.06"/><circle cx="811.3" cy="498.3" r="8.06"/><circle cx="811.9" cy="511.3" r="8.06"/><circle cx="811.3" cy="516.0" r="8.06"/><circle cx="812.8" cy="360.7" r="8.06"/><circle cx="812.4" cy="361.7" r="8.06"/><circle cx="812.3" cy="441.9" r="8.06"/><circle cx="812.3" cy="474.3" r="8.06"/><circle cx="812.3" cy="485.6" r="8.06"/><circle cx="812.9" cy="522.8" r="8.06"/><circle cx="813.0" cy="523.8" r="8.06"/><circle cx="812.2" cy="538.1" r="8.06"/><circle cx="812.2" cy="568.4" r="8.06"/><circle cx="813.5" cy="394.4" r="8.06"/><circle cx="813.2" cy="395.6" r="8.06"/><circle cx="813.3" cy="463.0" r="8.06"/><circle cx="813.1" cy="535.1" r="8.06"/><circle cx="813.8" cy="564.0" r="8.06"/><circle cx="814.1" cy="462.9" r="8.06"/><circle cx="814.2" cy="523.4" r="8.06"/><circle cx="814.1" cy="536.7" r="8.06"/><circle cx="815.3" cy="372.8" r="8.06"/><circle cx="815.7" cy="384.9" r="8.06"/><circle cx="815.2" cy="394.1" r="8.06"/><circle cx="815.8" cy="434.3" r="8.06"/><circle cx="815.9" cy="456.3" r="8.06"/><circle cx="815.1" cy="477.1" r="8.06"/><circle cx="815.1" cy="484.8" r="8.06"/><circle cx="815.4" cy="503.0" r="8.06"/><circle cx="815.7" cy="526.9" r="8.06"/><circle cx="815.5" cy="531.2" r="8.06"/><circle cx="815.5" cy="573.2" r="8.06"/><circle cx="816.4" cy="346.5" r="8.06"/><circle cx="816.9" cy="404.5" r="8.06"/><circle cx="816.5" cy="456.6" r="8.06"/><circle cx="816.6" cy="486.2" r="8.06"/><circle cx="816.6" cy="492.6" r="8.06"/><circle cx="816.3" cy="514.7" r="8.06"/><circle cx="817.4" cy="434.2" r="8.06"/><circle cx="818.0" cy="459.4" r="8.06"/><circle cx="817.4" cy="492.0" r="8.06"/><circle cx="817.4" cy="511.0" r="8.06"/><circle cx="817.9" cy="563.4" r="8.06"/><circle cx="818.4" cy="442.3" r="8.06"/><circle cx="818.8" cy="462.9" r="8.06"/><circle cx="818.5" cy="465.4" r="8.06"/><circle cx="818.3" cy="473.6" r="8.06"/><circle cx="818.4" cy="493.8" r="8.06"/><circle cx="818.4" cy="514.5" r="8.06"/><circle cx="818.4" cy="518.2" r="8.06"/><circle cx="818.4" cy="520.6" r="8.06"/><circle cx="818.7" cy="531.6" r="8.06"/><circle cx="818.0" cy="539.0" r="8.06"/><circle cx="818.2" cy="542.6" r="8.06"/><circle cx="818.9" cy="542.2" r="8.06"/><circle cx="818.1" cy="561.8" r="8.06"/><circle cx="819.1" cy="241.2" r="8.06"/><circle cx="819.9" cy="299.4" r="8.06"/><circle cx="819.6" cy="414.3" r="8.06"/><circle cx="819.4" cy="426.8" r="8.06"/><circle cx="819.7" cy="445.0" r="8.06"/><circle cx="819.7" cy="459.7" r="8.06"/><circle cx="819.6" cy="475.7" r="8.06"/><circle cx="819.9" cy="520.4" r="8.06"/><circle cx="819.3" cy="569.5" r="8.06"/><circle cx="820.1" cy="407.8" r="8.06"/><circle cx="820.4" cy="492.3" r="8.06"/><circle cx="820.9" cy="501.6" r="8.06"/><circle cx="820.8" cy="508.4" r="8.06"/><circle cx="820.9" cy="516.1" r="8.06"/><circle cx="820.6" cy="535.4" r="8.06"/><circle cx="820.6" cy="536.2" r="8.06"/><circle cx="820.5" cy="546.0" r="8.06"/><circle cx="821.8" cy="326.6" r="8.06"/><circle cx="821.7" cy="362.3" r="8.06"/><circle cx="821.9" cy="424.8" r="8.06"/><circle cx="821.4" cy="425.5" r="8.06"/><circle cx="821.4" cy="455.2" r="8.06"/><circle cx="821.6" cy="497.2" r="8.06"/><circle cx="821.9" cy="511.6" r="8.06"/><circle cx="821.4" cy="531.2" r="8.06"/><circle cx="821.1" cy="552.1" r="8.06"/><circle cx="821.3" cy="554.0" r="8.06"/><circle cx="822.4" cy="287.9" r="8.06"/><circle cx="822.8" cy="420.7" r="8.06"/><circle cx="822.1" cy="422.1" r="8.06"/><circle cx="822.7" cy="426.5" r="8.06"/><circle cx="822.6" cy="449.7" r="8.06"/><circle cx="822.0" cy="473.1" r="8.06"/><circle cx="822.5" cy="492.5" r="8.06"/><circle cx="823.0" cy="494.2" r="8.06"/><circle cx="822.8" cy="516.9" r="8.06"/><circle cx="823.0" cy="522.5" r="8.06"/><circle cx="822.4" cy="545.6" r="8.06"/><circle cx="822.5" cy="546.5" r="8.06"/><circle cx="822.4" cy="556.6" r="8.06"/><circle cx="823.7" cy="330.8" r="8.06"/><circle cx="823.4" cy="444.4" r="8.06"/><circle cx="823.2" cy="450.9" r="8.06"/><circle cx="823.4" cy="479.4" r="8.06"/><circle cx="824.0" cy="496.4" r="8.06"/><circle cx="823.9" cy="496.1" r="8.06"/><circle cx="823.0" cy="561.6" r="8.06"/><circle cx="823.2" cy="563.2" r="8.06"/><circle cx="823.9" cy="564.3" r="8.06"/><circle cx="824.7" cy="398.7" r="8.06"/><circle cx="824.2" cy="421.4" r="8.06"/><circle cx="824.9" cy="431.1" r="8.06"/><circle cx="824.8" cy="478.4" r="8.06"/><circle cx="824.3" cy="544.2" r="8.06"/><circle cx="824.2" cy="561.6" r="8.06"/><circle cx="825.8" cy="338.8" r="8.06"/><circle cx="825.8" cy="395.8" r="8.06"/><circle cx="825.1" cy="431.2" r="8.06"/><circle cx="825.1" cy="448.2" r="8.06"/><circle cx="825.6" cy="448.2" r="8.06"/><circle cx="825.6" cy="497.2" r="8.06"/><circle cx="825.2" cy="516.3" r="8.06"/><circle cx="825.6" cy="535.2" r="8.06"/><circle cx="825.1" cy="553.9" r="8.06"/><circle cx="826.2" cy="417.6" r="8.06"/><circle cx="826.1" cy="471.1" r="8.06"/><circle cx="826.2" cy="514.6" r="8.06"/><circle cx="826.6" cy="524.6" r="8.06"/><circle cx="827.0" cy="527.7" r="8.06"/><circle cx="826.9" cy="534.0" r="8.06"/><circle cx="826.1" cy="536.8" r="8.06"/><circle cx="826.2" cy="550.4" r="8.06"/><circle cx="826.9" cy="560.0" r="8.06"/><circle cx="827.6" cy="299.6" r="8.06"/><circle cx="827.0" cy="313.0" r="8.06"/><circle cx="827.9" cy="346.1" r="8.06"/><circle cx="827.1" cy="438.6" r="8.06"/><circle cx="827.9" cy="507.6" r="8.06"/><circle cx="827.6" cy="513.6" r="8.06"/><circle cx="827.6" cy="535.1" r="8.06"/><circle cx="827.3" cy="537.9" r="8.06"/><circle cx="828.1" cy="393.9" r="8.06"/><circle cx="828.9" cy="395.7" r="8.06"/><circle cx="828.5" cy="512.8" r="8.06"/><circle cx="828.2" cy="533.0" r="8.06"/><circle cx="828.5" cy="539.2" r="8.06"/><circle cx="829.8" cy="331.8" r="8.06"/><circle cx="829.4" cy="510.5" r="8.06"/><circle cx="829.9" cy="521.8" r="8.06"/><circle cx="829.0" cy="523.6" r="8.06"/><circle cx="829.6" cy="535.5" r="8.06"/><circle cx="829.7" cy="552.4" r="8.06"/><circle cx="829.5" cy="557.6" r="8.06"/><circle cx="830.9" cy="388.5" r="8.06"/><circle cx="830.5" cy="470.9" r="8.06"/><circle cx="830.4" cy="516.1" r="8.06"/><circle cx="830.2" cy="531.4" r="8.06"/><circle cx="830.6" cy="542.8" r="8.06"/><circle cx="830.9" cy="546.8" r="8.06"/><circle cx="830.7" cy="551.4" r="8.06"/><circle cx="831.5" cy="339.2" r="8.06"/><circle cx="831.5" cy="453.6" r="8.06"/><circle cx="831.6" cy="489.0" r="8.06"/><circle cx="831.8" cy="504.4" r="8.06"/><circle cx="831.2" cy="531.4" r="8.06"/><circle cx="831.2" cy="533.6" r="8.06"/><circle cx="832.6" cy="343.1" r="8.06"/><circle cx="833.0" cy="362.6" r="8.06"/><circle cx="832.1" cy="377.5" r="8.06"/><circle cx="833.0" cy="383.0" r="8.06"/><circle cx="832.9" cy="388.8" r="8.06"/><circle cx="832.2" cy="395.9" r="8.06"/><circle cx="832.5" cy="430.0" r="8.06"/><circle cx="832.1" cy="492.9" r="8.06"/><circle cx="832.7" cy="500.7" r="8.06"/><circle cx="832.6" cy="549.9" r="8.06"/><circle cx="832.7" cy="555.2" r="8.06"/><circle cx="833.4" cy="441.4" r="8.06"/><circle cx="833.1" cy="521.6" r="8.06"/><circle cx="833.8" cy="534.6" r="8.06"/><circle cx="833.0" cy="547.0" r="8.06"/><circle cx="833.2" cy="558.5" r="8.06"/><circle cx="833.6" cy="560.5" r="8.06"/><circle cx="833.5" cy="565.4" r="8.06"/><circle cx="834.3" cy="436.0" r="8.06"/><circle cx="834.1" cy="452.8" r="8.06"/><circle cx="834.1" cy="465.3" r="8.06"/><circle cx="834.9" cy="475.6" r="8.06"/><circle cx="834.2" cy="482.3" r="8.06"/><circle cx="834.1" cy="489.5" r="8.06"/><circle cx="834.1" cy="494.5" r="8.06"/><circle cx="834.9" cy="532.8" r="8.06"/><circle cx="834.4" cy="539.9" r="8.06"/><circle cx="834.0" cy="545.9" r="8.06"/><circle cx="835.3" cy="422.2" r="8.06"/><circle cx="835.1" cy="527.3" r="8.06"/><circle cx="835.4" cy="540.6" r="8.06"/><circle cx="835.9" cy="544.4" r="8.06"/><circle cx="835.3" cy="546.1" r="8.06"/><circle cx="835.1" cy="553.8" r="8.06"/><circle cx="835.8" cy="557.5" r="8.06"/><circle cx="835.5" cy="559.2" r="8.06"/><circle cx="836.3" cy="229.4" r="8.06"/><circle cx="836.6" cy="409.8" r="8.06"/><circle cx="836.4" cy="479.9" r="8.06"/><circle cx="836.7" cy="521.9" r="8.06"/><circle cx="836.2" cy="525.9" r="8.06"/><circle cx="836.7" cy="555.0" r="8.06"/><circle cx="837.6" cy="355.7" r="8.06"/><circle cx="837.8" cy="434.0" r="8.06"/><circle cx="837.8" cy="470.0" r="8.06"/><circle cx="837.5" cy="517.5" r="8.06"/><circle cx="837.9" cy="520.4" r="8.06"/><circle cx="837.6" cy="522.5" r="8.06"/><circle cx="837.1" cy="526.7" r="8.06"/><circle cx="838.9" cy="386.2" r="8.06"/><circle cx="838.8" cy="438.1" r="8.06"/><circle cx="838.1" cy="510.2" r="8.06"/><circle cx="838.3" cy="534.9" r="8.06"/><circle cx="838.1" cy="554.4" r="8.06"/><circle cx="839.8" cy="375.4" r="8.06"/><circle cx="839.3" cy="395.1" r="8.06"/><circle cx="840.0" cy="413.2" r="8.06"/><circle cx="839.6" cy="463.2" r="8.06"/><circle cx="839.0" cy="464.9" r="8.06"/><circle cx="839.2" cy="499.5" r="8.06"/><circle cx="839.7" cy="506.2" r="8.06"/><circle cx="839.4" cy="516.4" r="8.06"/><circle cx="839.6" cy="519.7" r="8.06"/><circle cx="839.3" cy="523.1" r="8.06"/><circle cx="839.9" cy="547.8" r="8.06"/><circle cx="840.5" cy="287.9" r="8.06"/><circle cx="840.7" cy="290.9" r="8.06"/><circle cx="840.2" cy="418.4" r="8.06"/><circle cx="840.0" cy="462.4" r="8.06"/><circle cx="840.4" cy="464.7" r="8.06"/><circle cx="840.2" cy="468.7" r="8.06"/><circle cx="840.4" cy="503.0" r="8.06"/><circle cx="841.5" cy="326.0" r="8.06"/><circle cx="841.3" cy="381.3" r="8.06"/><circle cx="841.3" cy="419.9" r="8.06"/><circle cx="841.8" cy="450.1" r="8.06"/><circle cx="841.6" cy="468.1" r="8.06"/><circle cx="841.8" cy="469.8" r="8.06"/><circle cx="841.1" cy="505.6" r="8.06"/><circle cx="841.8" cy="512.2" r="8.06"/><circle cx="841.8" cy="527.1" r="8.06"/><circle cx="841.4" cy="545.2" r="8.06"/><circle cx="841.4" cy="556.6" r="8.06"/><circle cx="841.8" cy="556.7" r="8.06"/><circle cx="842.3" cy="349.2" r="8.06"/><circle cx="842.8" cy="473.3" r="8.06"/><circle cx="842.8" cy="484.6" r="8.06"/><circle cx="842.0" cy="484.4" r="8.06"/><circle cx="842.1" cy="499.9" r="8.06"/><circle cx="843.9" cy="233.4" r="8.06"/><circle cx="843.0" cy="263.6" r="8.06"/><circle cx="843.8" cy="450.6" r="8.06"/><circle cx="843.0" cy="529.0" r="8.06"/><circle cx="843.1" cy="531.7" r="8.06"/><circle cx="843.5" cy="558.1" r="8.06"/><circle cx="845.0" cy="380.1" r="8.06"/><circle cx="844.1" cy="403.5" r="8.06"/><circle cx="844.5" cy="451.3" r="8.06"/><circle cx="844.3" cy="455.0" r="8.06"/><circle cx="844.9" cy="513.9" r="8.06"/><circle cx="844.2" cy="516.9" r="8.06"/><circle cx="844.0" cy="526.7" r="8.06"/><circle cx="844.8" cy="531.9" r="8.06"/><circle cx="844.7" cy="533.9" r="8.06"/><circle cx="844.6" cy="538.0" r="8.06"/><circle cx="845.2" cy="272.6" r="8.06"/><circle cx="845.3" cy="350.1" r="8.06"/><circle cx="845.3" cy="363.9" r="8.06"/><circle cx="845.5" cy="386.5" r="8.06"/><circle cx="845.7" cy="403.7" r="8.06"/><circle cx="845.8" cy="421.8" r="8.06"/><circle cx="846.0" cy="457.6" r="8.06"/><circle cx="845.1" cy="531.0" r="8.06"/><circle cx="845.9" cy="540.4" r="8.06"/><circle cx="845.9" cy="545.0" r="8.06"/><circle cx="845.7" cy="551.7" r="8.06"/><circle cx="846.1" cy="367.1" r="8.06"/><circle cx="846.7" cy="396.9" r="8.06"/><circle cx="846.6" cy="402.0" r="8.06"/><circle cx="846.8" cy="487.5" r="8.06"/><circle cx="846.5" cy="549.2" r="8.06"/><circle cx="846.9" cy="549.5" r="8.06"/><circle cx="847.2" cy="303.3" r="8.06"/><circle cx="847.4" cy="366.7" r="8.06"/><circle cx="847.7" cy="418.8" r="8.06"/><circle cx="847.2" cy="420.9" r="8.06"/><circle cx="847.3" cy="453.1" r="8.06"/><circle cx="847.9" cy="483.2" r="8.06"/><circle cx="847.7" cy="506.6" r="8.06"/><circle cx="847.3" cy="519.9" r="8.06"/><circle cx="847.8" cy="533.2" r="8.06"/><circle cx="848.6" cy="362.4" r="8.06"/><circle cx="848.7" cy="434.1" r="8.06"/><circle cx="848.5" cy="476.9" r="8.06"/><circle cx="848.8" cy="492.0" r="8.06"/><circle cx="848.1" cy="541.3" r="8.06"/><circle cx="848.5" cy="555.2" r="8.06"/><circle cx="849.5" cy="260.9" r="8.06"/><circle cx="849.8" cy="383.0" r="8.06"/><circle cx="849.8" cy="404.8" r="8.06"/><circle cx="849.4" cy="408.5" r="8.06"/><circle cx="849.5" cy="416.2" r="8.06"/><circle cx="849.7" cy="436.2" r="8.06"/><circle cx="849.8" cy="481.0" r="8.06"/><circle cx="849.4" cy="484.1" r="8.06"/><circle cx="849.2" cy="485.4" r="8.06"/><circle cx="849.8" cy="521.8" r="8.06"/><circle cx="850.6" cy="291.8" r="8.06"/><circle cx="850.2" cy="324.4" r="8.06"/><circle cx="850.8" cy="377.2" r="8.06"/><circle cx="850.2" cy="398.9" r="8.06"/><circle cx="851.0" cy="433.7" r="8.06"/><circle cx="850.5" cy="449.8" r="8.06"/><circle cx="850.8" cy="475.9" r="8.06"/><circle cx="850.3" cy="483.3" r="8.06"/><circle cx="850.5" cy="489.6" r="8.06"/><circle cx="850.2" cy="505.3" r="8.06"/><circle cx="850.4" cy="510.4" r="8.06"/><circle cx="851.0" cy="519.1" r="8.06"/><circle cx="851.0" cy="521.3" r="8.06"/><circle cx="851.2" cy="449.9" r="8.06"/><circle cx="851.9" cy="459.1" r="8.06"/><circle cx="851.7" cy="519.6" r="8.06"/><circle cx="852.0" cy="532.6" r="8.06"/><circle cx="851.8" cy="537.0" r="8.06"/><circle cx="852.0" cy="537.5" r="8.06"/><circle cx="851.4" cy="546.7" r="8.06"/><circle cx="851.9" cy="548.3" r="8.06"/><circle cx="852.1" cy="285.2" r="8.06"/><circle cx="852.3" cy="331.3" r="8.06"/><circle cx="852.6" cy="405.0" r="8.06"/><circle cx="853.0" cy="474.5" r="8.06"/><circle cx="852.3" cy="501.7" r="8.06"/><circle cx="852.4" cy="505.6" r="8.06"/><circle cx="852.3" cy="549.9" r="8.06"/><circle cx="852.4" cy="552.5" r="8.06"/><circle cx="853.9" cy="284.9" r="8.06"/><circle cx="853.1" cy="490.1" r="8.06"/><circle cx="853.3" cy="492.1" r="8.06"/><circle cx="853.3" cy="536.0" r="8.06"/><circle cx="853.8" cy="539.2" r="8.06"/><circle cx="854.1" cy="305.5" r="8.06"/><circle cx="854.4" cy="411.5" r="8.06"/><circle cx="854.1" cy="442.8" r="8.06"/><circle cx="854.6" cy="480.7" r="8.06"/><circle cx="854.5" cy="527.9" r="8.06"/><circle cx="854.4" cy="554.3" r="8.06"/><circle cx="854.2" cy="554.0" r="8.06"/><circle cx="854.3" cy="556.8" r="8.06"/><circle cx="855.9" cy="369.8" r="8.06"/><circle cx="855.2" cy="422.2" r="8.06"/><circle cx="855.0" cy="500.5" r="8.06"/><circle cx="855.9" cy="540.3" r="8.06"/><circle cx="856.6" cy="362.3" r="8.06"/><circle cx="856.2" cy="411.4" r="8.06"/><circle cx="856.8" cy="412.1" r="8.06"/><circle cx="856.1" cy="509.9" r="8.06"/><circle cx="856.1" cy="534.8" r="8.06"/><circle cx="857.6" cy="256.3" r="8.06"/><circle cx="857.4" cy="466.4" r="8.06"/><circle cx="857.2" cy="482.9" r="8.06"/><circle cx="857.6" cy="489.8" r="8.06"/><circle cx="857.4" cy="492.4" r="8.06"/><circle cx="857.8" cy="492.2" r="8.06"/><circle cx="857.7" cy="517.6" r="8.06"/><circle cx="857.4" cy="519.5" r="8.06"/><circle cx="858.0" cy="534.4" r="8.06"/><circle cx="858.6" cy="356.4" r="8.06"/><circle cx="858.1" cy="428.3" r="8.06"/><circle cx="858.5" cy="440.0" r="8.06"/><circle cx="858.4" cy="453.1" r="8.06"/><circle cx="858.1" cy="503.0" r="8.06"/><circle cx="858.5" cy="508.2" r="8.06"/><circle cx="858.7" cy="521.0" r="8.06"/><circle cx="858.4" cy="539.0" r="8.06"/><circle cx="858.1" cy="548.6" r="8.06"/><circle cx="858.7" cy="551.8" r="8.06"/><circle cx="858.5" cy="551.9" r="8.06"/><circle cx="859.7" cy="329.7" r="8.06"/><circle cx="859.6" cy="424.5" r="8.06"/><circle cx="859.5" cy="504.8" r="8.06"/><circle cx="859.6" cy="509.3" r="8.06"/><circle cx="859.3" cy="511.1" r="8.06"/><circle cx="859.7" cy="524.9" r="8.06"/><circle cx="859.7" cy="537.6" r="8.06"/><circle cx="860.8" cy="339.8" r="8.06"/><circle cx="860.4" cy="361.9" r="8.06"/><circle cx="860.2" cy="368.9" r="8.06"/><circle cx="860.2" cy="461.0" r="8.06"/><circle cx="860.2" cy="467.4" r="8.06"/><circle cx="860.1" cy="472.4" r="8.06"/><circle cx="861.0" cy="513.5" r="8.06"/><circle cx="860.8" cy="522.2" r="8.06"/><circle cx="860.2" cy="525.1" r="8.06"/><circle cx="860.7" cy="527.1" r="8.06"/><circle cx="861.1" cy="280.8" r="8.06"/><circle cx="861.6" cy="297.3" r="8.06"/><circle cx="861.8" cy="439.8" r="8.06"/><circle cx="861.5" cy="453.5" r="8.06"/><circle cx="861.8" cy="477.5" r="8.06"/><circle cx="861.3" cy="505.3" r="8.06"/><circle cx="861.3" cy="530.6" r="8.06"/><circle cx="861.6" cy="545.7" r="8.06"/><circle cx="862.5" cy="399.5" r="8.06"/><circle cx="862.3" cy="498.2" r="8.06"/><circle cx="862.5" cy="528.7" r="8.06"/><circle cx="863.0" cy="531.1" r="8.06"/><circle cx="863.0" cy="541.0" r="8.06"/><circle cx="862.7" cy="543.3" r="8.06"/><circle cx="863.6" cy="388.7" r="8.06"/><circle cx="863.8" cy="427.3" r="8.06"/><circle cx="863.8" cy="446.4" r="8.06"/><circle cx="863.2" cy="457.7" r="8.06"/><circle cx="863.5" cy="497.5" r="8.06"/><circle cx="863.8" cy="523.1" r="8.06"/><circle cx="863.1" cy="534.3" r="8.06"/><circle cx="863.9" cy="535.5" r="8.06"/><circle cx="864.4" cy="341.1" r="8.06"/><circle cx="864.0" cy="460.5" r="8.06"/><circle cx="864.2" cy="500.2" r="8.06"/><circle cx="864.6" cy="508.6" r="8.06"/><circle cx="864.5" cy="522.7" r="8.06"/><circle cx="864.0" cy="525.0" r="8.06"/><circle cx="865.8" cy="406.2" r="8.06"/><circle cx="865.1" cy="430.6" r="8.06"/><circle cx="865.0" cy="483.0" r="8.06"/><circle cx="866.0" cy="498.7" r="8.06"/><circle cx="865.3" cy="543.8" r="8.06"/><circle cx="865.2" cy="556.6" r="8.06"/><circle cx="866.3" cy="407.0" r="8.06"/><circle cx="866.7" cy="412.9" r="8.06"/><circle cx="866.3" cy="446.9" r="8.06"/><circle cx="866.5" cy="448.1" r="8.06"/><circle cx="866.4" cy="466.6" r="8.06"/><circle cx="866.0" cy="480.7" r="8.06"/><circle cx="866.2" cy="488.3" r="8.06"/><circle cx="866.4" cy="495.1" r="8.06"/><circle cx="867.2" cy="309.0" r="8.06"/><circle cx="867.9" cy="452.1" r="8.06"/><circle cx="867.4" cy="472.0" r="8.06"/><circle cx="867.4" cy="477.8" r="8.06"/><circle cx="867.4" cy="495.3" r="8.06"/><circle cx="867.4" cy="511.4" r="8.06"/><circle cx="867.7" cy="523.2" r="8.06"/><circle cx="868.6" cy="436.8" r="8.06"/><circle cx="868.7" cy="446.0" r="8.06"/><circle cx="868.4" cy="508.1" r="8.06"/><circle cx="868.8" cy="521.2" r="8.06"/><circle cx="868.2" cy="527.3" r="8.06"/><circle cx="868.8" cy="544.7" r="8.06"/><circle cx="869.1" cy="251.2" r="8.06"/><circle cx="869.2" cy="259.8" r="8.06"/><circle cx="870.0" cy="347.5" r="8.06"/><circle cx="870.0" cy="405.9" r="8.06"/><circle cx="869.4" cy="451.3" r="8.06"/><circle cx="869.3" cy="457.3" r="8.06"/><circle cx="869.1" cy="483.2" r="8.06"/><circle cx="869.6" cy="494.0" r="8.06"/><circle cx="869.6" cy="503.4" r="8.06"/><circle cx="869.2" cy="517.9" r="8.06"/><circle cx="870.3" cy="375.9" r="8.06"/><circle cx="870.1" cy="463.4" r="8.06"/><circle cx="870.3" cy="488.6" r="8.06"/><circle cx="870.2" cy="493.8" r="8.06"/><circle cx="870.4" cy="504.0" r="8.06"/><circle cx="870.5" cy="533.0" r="8.06"/><circle cx="870.1" cy="544.7" r="8.06"/><circle cx="870.1" cy="544.2" r="8.06"/><circle cx="871.1" cy="310.8" r="8.06"/><circle cx="871.9" cy="406.5" r="8.06"/><circle cx="871.1" cy="453.8" r="8.06"/><circle cx="871.0" cy="491.7" r="8.06"/><circle cx="871.3" cy="513.7" r="8.06"/><circle cx="871.3" cy="517.5" r="8.06"/><circle cx="872.5" cy="278.1" r="8.06"/><circle cx="872.5" cy="346.7" r="8.06"/><circle cx="872.2" cy="416.2" r="8.06"/><circle cx="872.8" cy="428.3" r="8.06"/><circle cx="872.1" cy="432.9" r="8.06"/><circle cx="872.1" cy="445.2" r="8.06"/><circle cx="872.1" cy="467.9" r="8.06"/><circle cx="872.7" cy="487.5" r="8.06"/><circle cx="872.5" cy="497.5" r="8.06"/><circle cx="872.0" cy="510.9" r="8.06"/><circle cx="872.7" cy="514.2" r="8.06"/><circle cx="872.3" cy="534.4" r="8.06"/><circle cx="872.1" cy="536.6" r="8.06"/><circle cx="873.5" cy="333.5" r="8.06"/><circle cx="873.9" cy="437.2" r="8.06"/><circle cx="873.1" cy="442.6" r="8.06"/><circle cx="874.0" cy="507.9" r="8.06"/><circle cx="874.8" cy="294.4" r="8.06"/><circle cx="874.5" cy="352.4" r="8.06"/><circle cx="874.8" cy="478.8" r="8.06"/><circle cx="874.4" cy="488.8" r="8.06"/><circle cx="874.3" cy="511.6" r="8.06"/><circle cx="874.7" cy="517.3" r="8.06"/><circle cx="874.8" cy="535.1" r="8.06"/><circle cx="874.2" cy="542.4" r="8.06"/><circle cx="874.8" cy="548.0" r="8.06"/><circle cx="875.0" cy="411.3" r="8.06"/><circle cx="875.6" cy="493.6" r="8.06"/><circle cx="875.6" cy="495.0" r="8.06"/><circle cx="875.4" cy="496.4" r="8.06"/><circle cx="875.8" cy="503.2" r="8.06"/><circle cx="875.1" cy="511.0" r="8.06"/><circle cx="875.8" cy="551.2" r="8.06"/><circle cx="876.7" cy="268.2" r="8.06"/><circle cx="876.3" cy="379.8" r="8.06"/><circle cx="877.0" cy="424.5" r="8.06"/><circle cx="876.2" cy="444.9" r="8.06"/><circle cx="876.3" cy="458.8" r="8.06"/><circle cx="876.4" cy="478.9" r="8.06"/><circle cx="876.7" cy="488.3" r="8.06"/><circle cx="876.4" cy="539.3" r="8.06"/><circle cx="877.8" cy="258.8" r="8.06"/><circle cx="877.3" cy="313.3" r="8.06"/><circle cx="877.4" cy="432.7" r="8.06"/><circle cx="877.7" cy="456.8" r="8.06"/><circle cx="877.1" cy="477.9" r="8.06"/><circle cx="877.8" cy="493.5" r="8.06"/><circle cx="877.3" cy="503.6" r="8.06"/><circle cx="877.3" cy="503.2" r="8.06"/><circle cx="877.0" cy="532.2" r="8.06"/><circle cx="877.3" cy="549.9" r="8.06"/><circle cx="878.1" cy="287.7" r="8.06"/><circle cx="878.2" cy="387.1" r="8.06"/><circle cx="878.7" cy="411.4" r="8.06"/><circle cx="878.2" cy="424.1" r="8.06"/><circle cx="878.5" cy="430.0" r="8.06"/><circle cx="878.1" cy="471.1" r="8.06"/><circle cx="878.2" cy="496.1" r="8.06"/><circle cx="878.8" cy="500.3" r="8.06"/><circle cx="878.9" cy="541.4" r="8.06"/><circle cx="878.6" cy="546.5" r="8.06"/><circle cx="879.2" cy="261.9" r="8.06"/><circle cx="879.9" cy="314.4" r="8.06"/><circle cx="879.2" cy="501.9" r="8.06"/><circle cx="879.9" cy="503.4" r="8.06"/><circle cx="880.0" cy="534.8" r="8.06"/><circle cx="879.6" cy="539.5" r="8.06"/><circle cx="879.3" cy="539.9" r="8.06"/><circle cx="879.6" cy="540.7" r="8.06"/><circle cx="880.5" cy="291.7" r="8.06"/><circle cx="881.0" cy="353.3" r="8.06"/><circle cx="880.9" cy="402.5" r="8.06"/><circle cx="880.1" cy="450.6" r="8.06"/><circle cx="880.6" cy="485.6" r="8.06"/><circle cx="880.0" cy="501.7" r="8.06"/><circle cx="880.3" cy="512.3" r="8.06"/><circle cx="880.8" cy="516.6" r="8.06"/><circle cx="880.3" cy="521.6" r="8.06"/><circle cx="880.3" cy="529.3" r="8.06"/><circle cx="880.9" cy="530.3" r="8.06"/><circle cx="881.2" cy="340.4" r="8.06"/><circle cx="881.9" cy="385.5" r="8.06"/><circle cx="881.4" cy="404.8" r="8.06"/><circle cx="881.9" cy="476.8" r="8.06"/><circle cx="881.3" cy="490.9" r="8.06"/><circle cx="881.6" cy="523.6" r="8.06"/><circle cx="881.0" cy="535.1" r="8.06"/><circle cx="883.0" cy="239.3" r="8.06"/><circle cx="882.5" cy="268.3" r="8.06"/><circle cx="882.7" cy="376.3" r="8.06"/><circle cx="882.1" cy="459.9" r="8.06"/><circle cx="882.3" cy="466.7" r="8.06"/><circle cx="882.8" cy="502.7" r="8.06"/><circle cx="883.1" cy="454.2" r="8.06"/><circle cx="883.3" cy="485.4" r="8.06"/><circle cx="883.0" cy="493.5" r="8.06"/><circle cx="883.2" cy="495.7" r="8.06"/><circle cx="883.0" cy="518.7" r="8.06"/><circle cx="883.6" cy="519.4" r="8.06"/><circle cx="883.7" cy="523.9" r="8.06"/><circle cx="884.3" cy="459.9" r="8.06"/><circle cx="884.8" cy="488.7" r="8.06"/><circle cx="884.5" cy="492.0" r="8.06"/><circle cx="884.9" cy="515.2" r="8.06"/><circle cx="884.3" cy="539.7" r="8.06"/><circle cx="885.9" cy="301.3" r="8.06"/><circle cx="885.3" cy="317.1" r="8.06"/><circle cx="885.9" cy="329.3" r="8.06"/><circle cx="885.5" cy="329.7" r="8.06"/><circle cx="885.1" cy="368.8" r="8.06"/><circle cx="885.5" cy="473.4" r="8.06"/><circle cx="886.0" cy="483.7" r="8.06"/><circle cx="885.0" cy="515.7" r="8.06"/><circle cx="885.5" cy="536.5" r="8.06"/><circle cx="885.2" cy="538.0" r="8.06"/><circle cx="886.4" cy="325.0" r="8.06"/><circle cx="887.0" cy="481.4" r="8.06"/><circle cx="886.2" cy="510.5" r="8.06"/><circle cx="886.5" cy="514.1" r="8.06"/><circle cx="886.7" cy="520.0" r="8.06"/><circle cx="886.0" cy="526.8" r="8.06"/><circle cx="886.0" cy="528.1" r="8.06"/><circle cx="886.1" cy="539.9" r="8.06"/><circle cx="887.3" cy="266.5" r="8.06"/><circle cx="887.6" cy="315.7" r="8.06"/><circle cx="887.5" cy="343.7" r="8.06"/><circle cx="887.4" cy="374.6" r="8.06"/><circle cx="887.2" cy="435.5" r="8.06"/><circle cx="887.6" cy="450.9" r="8.06"/><circle cx="887.7" cy="526.9" r="8.06"/><circle cx="888.0" cy="306.0" r="8.06"/><circle cx="888.4" cy="323.3" r="8.06"/><circle cx="888.7" cy="415.7" r="8.06"/><circle cx="888.0" cy="475.1" r="8.06"/><circle cx="888.6" cy="536.1" r="8.06"/><circle cx="889.1" cy="289.4" r="8.06"/><circle cx="889.7" cy="297.3" r="8.06"/><circle cx="889.9" cy="331.9" r="8.06"/><circle cx="889.5" cy="494.4" r="8.06"/><circle cx="889.2" cy="522.8" r="8.06"/><circle cx="890.0" cy="277.8" r="8.06"/><circle cx="890.5" cy="311.6" r="8.06"/><circle cx="890.8" cy="328.3" r="8.06"/><circle cx="890.4" cy="345.5" r="8.06"/><circle cx="890.8" cy="421.3" r="8.06"/><circle cx="890.2" cy="428.4" r="8.06"/><circle cx="890.3" cy="451.2" r="8.06"/><circle cx="890.8" cy="473.4" r="8.06"/><circle cx="890.7" cy="483.4" r="8.06"/><circle cx="890.6" cy="495.9" r="8.06"/><circle cx="890.0" cy="498.8" r="8.06"/><circle cx="890.5" cy="522.7" r="8.06"/><circle cx="891.7" cy="342.7" r="8.06"/><circle cx="891.6" cy="377.3" r="8.06"/><circle cx="891.3" cy="483.2" r="8.06"/><circle cx="891.5" cy="496.3" r="8.06"/><circle cx="891.7" cy="498.8" r="8.06"/><circle cx="891.2" cy="503.4" r="8.06"/><circle cx="892.6" cy="238.0" r="8.06"/><circle cx="892.1" cy="269.8" r="8.06"/><circle cx="892.6" cy="273.6" r="8.06"/><circle cx="892.8" cy="285.3" r="8.06"/><circle cx="892.4" cy="386.8" r="8.06"/><circle cx="892.6" cy="400.2" r="8.06"/><circle cx="892.6" cy="417.6" r="8.06"/><circle cx="892.1" cy="440.5" r="8.06"/><circle cx="892.8" cy="478.8" r="8.06"/><circle cx="892.7" cy="498.8" r="8.06"/><circle cx="892.7" cy="514.5" r="8.06"/><circle cx="893.3" cy="331.2" r="8.06"/><circle cx="893.5" cy="392.8" r="8.06"/><circle cx="893.3" cy="438.9" r="8.06"/><circle cx="894.2" cy="341.7" r="8.06"/><circle cx="894.7" cy="374.3" r="8.06"/><circle cx="894.9" cy="425.4" r="8.06"/><circle cx="894.6" cy="497.0" r="8.06"/><circle cx="894.7" cy="503.9" r="8.06"/><circle cx="894.8" cy="507.0" r="8.06"/><circle cx="894.3" cy="519.5" r="8.06"/><circle cx="895.3" cy="240.7" r="8.06"/><circle cx="895.9" cy="320.2" r="8.06"/><circle cx="895.9" cy="369.1" r="8.06"/><circle cx="895.9" cy="418.8" r="8.06"/><circle cx="895.7" cy="474.3" r="8.06"/><circle cx="895.4" cy="507.0" r="8.06"/><circle cx="897.0" cy="300.9" r="8.06"/><circle cx="896.9" cy="407.0" r="8.06"/><circle cx="897.0" cy="439.3" r="8.06"/><circle cx="896.9" cy="527.5" r="8.06"/><circle cx="896.3" cy="535.6" r="8.06"/><circle cx="897.0" cy="539.5" r="8.06"/><circle cx="897.3" cy="249.2" r="8.06"/><circle cx="897.1" cy="249.8" r="8.06"/><circle cx="897.7" cy="271.5" r="8.06"/><circle cx="897.8" cy="391.3" r="8.06"/><circle cx="897.1" cy="410.0" r="8.06"/><circle cx="897.2" cy="425.0" r="8.06"/><circle cx="897.0" cy="490.4" r="8.06"/><circle cx="897.9" cy="500.1" r="8.06"/><circle cx="897.5" cy="501.1" r="8.06"/><circle cx="897.2" cy="516.1" r="8.06"/><circle cx="897.4" cy="524.2" r="8.06"/><circle cx="898.8" cy="299.6" r="8.06"/><circle cx="898.1" cy="477.4" r="8.06"/><circle cx="898.6" cy="477.3" r="8.06"/><circle cx="898.3" cy="486.4" r="8.06"/><circle cx="898.2" cy="504.7" r="8.06"/><circle cx="898.8" cy="514.4" r="8.06"/><circle cx="898.5" cy="529.4" r="8.06"/><circle cx="899.6" cy="374.5" r="8.06"/><circle cx="899.9" cy="465.9" r="8.06"/><circle cx="900.0" cy="478.6" r="8.06"/><circle cx="899.7" cy="490.2" r="8.06"/><circle cx="900.2" cy="331.7" r="8.06"/><circle cx="900.3" cy="430.8" r="8.06"/><circle cx="900.6" cy="433.8" r="8.06"/><circle cx="900.2" cy="480.2" r="8.06"/><circle cx="900.1" cy="481.9" r="8.06"/><circle cx="900.1" cy="482.0" r="8.06"/><circle cx="900.3" cy="485.4" r="8.06"/><circle cx="901.3" cy="310.3" r="8.06"/><circle cx="901.0" cy="330.4" r="8.06"/><circle cx="901.5" cy="484.3" r="8.06"/><circle cx="901.3" cy="528.0" r="8.06"/><circle cx="901.1" cy="530.9" r="8.06"/><circle cx="901.9" cy="531.9" r="8.06"/><circle cx="902.6" cy="343.4" r="8.06"/><circle cx="902.2" cy="359.3" r="8.06"/><circle cx="902.3" cy="370.7" r="8.06"/><circle cx="902.6" cy="376.1" r="8.06"/><circle cx="902.7" cy="446.3" r="8.06"/><circle cx="902.4" cy="453.1" r="8.06"/><circle cx="903.0" cy="460.2" r="8.06"/><circle cx="902.5" cy="468.9" r="8.06"/><circle cx="902.1" cy="486.9" r="8.06"/><circle cx="903.6" cy="486.8" r="8.06"/><circle cx="904.0" cy="497.4" r="8.06"/><circle cx="903.0" cy="498.8" r="8.06"/><circle cx="903.0" cy="508.8" r="8.06"/><circle cx="903.6" cy="512.2" r="8.06"/><circle cx="903.5" cy="531.0" r="8.06"/><circle cx="904.8" cy="348.7" r="8.06"/><circle cx="904.9" cy="489.3" r="8.06"/><circle cx="904.2" cy="491.2" r="8.06"/><circle cx="904.2" cy="498.5" r="8.06"/><circle cx="904.8" cy="517.9" r="8.06"/><circle cx="905.4" cy="338.9" r="8.06"/><circle cx="905.8" cy="363.2" r="8.06"/><circle cx="905.4" cy="380.3" r="8.06"/><circle cx="905.2" cy="394.4" r="8.06"/><circle cx="905.3" cy="442.1" r="8.06"/><circle cx="905.1" cy="454.2" r="8.06"/><circle cx="905.0" cy="508.9" r="8.06"/><circle cx="906.2" cy="248.5" r="8.06"/><circle cx="906.8" cy="317.8" r="8.06"/><circle cx="906.9" cy="347.9" r="8.06"/><circle cx="906.9" cy="429.8" r="8.06"/><circle cx="906.1" cy="479.6" r="8.06"/><circle cx="906.4" cy="481.1" r="8.06"/><circle cx="907.7" cy="452.7" r="8.06"/><circle cx="907.3" cy="474.7" r="8.06"/><circle cx="907.9" cy="484.4" r="8.06"/><circle cx="907.9" cy="506.3" r="8.06"/><circle cx="907.9" cy="528.3" r="8.06"/><circle cx="907.6" cy="537.2" r="8.06"/><circle cx="908.3" cy="360.9" r="8.06"/><circle cx="908.4" cy="433.4" r="8.06"/><circle cx="908.6" cy="464.9" r="8.06"/><circle cx="908.2" cy="488.0" r="8.06"/><circle cx="908.3" cy="521.3" r="8.06"/><circle cx="909.4" cy="464.9" r="8.06"/><circle cx="909.4" cy="493.1" r="8.06"/><circle cx="909.5" cy="508.0" r="8.06"/><circle cx="910.8" cy="232.2" r="8.06"/><circle cx="910.6" cy="357.8" r="8.06"/><circle cx="910.6" cy="470.2" r="8.06"/><circle cx="910.1" cy="502.8" r="8.06"/><circle cx="910.3" cy="510.5" r="8.06"/><circle cx="910.5" cy="524.6" r="8.06"/><circle cx="911.6" cy="384.3" r="8.06"/><circle cx="911.5" cy="417.6" r="8.06"/><circle cx="911.8" cy="479.4" r="8.06"/><circle cx="911.9" cy="508.5" r="8.06"/><circle cx="911.3" cy="514.0" r="8.06"/><circle cx="911.3" cy="525.0" r="8.06"/><circle cx="911.0" cy="529.9" r="8.06"/><circle cx="912.2" cy="403.8" r="8.06"/><circle cx="912.6" cy="410.9" r="8.06"/><circle cx="912.1" cy="474.4" r="8.06"/><circle cx="912.1" cy="478.8" r="8.06"/><circle cx="912.7" cy="491.4" r="8.06"/><circle cx="913.1" cy="423.6" r="8.06"/><circle cx="913.7" cy="433.3" r="8.06"/><circle cx="913.6" cy="502.7" r="8.06"/><circle cx="914.0" cy="508.5" r="8.06"/><circle cx="913.2" cy="511.2" r="8.06"/><circle cx="913.6" cy="517.4" r="8.06"/><circle cx="914.0" cy="517.9" r="8.06"/><circle cx="913.3" cy="520.9" r="8.06"/><circle cx="914.3" cy="254.6" r="8.06"/><circle cx="914.5" cy="378.4" r="8.06"/><circle cx="914.8" cy="443.7" r="8.06"/><circle cx="914.3" cy="486.2" r="8.06"/><circle cx="914.4" cy="488.6" r="8.06"/><circle cx="915.0" cy="510.4" r="8.06"/><circle cx="914.8" cy="525.7" r="8.06"/><circle cx="914.8" cy="528.9" r="8.06"/><circle cx="915.3" cy="269.3" r="8.06"/><circle cx="916.0" cy="366.1" r="8.06"/><circle cx="915.8" cy="506.6" r="8.06"/><circle cx="915.5" cy="509.7" r="8.06"/><circle cx="915.1" cy="522.8" r="8.06"/><circle cx="915.7" cy="526.0" r="8.06"/><circle cx="916.1" cy="294.2" r="8.06"/><circle cx="916.7" cy="336.8" r="8.06"/><circle cx="916.8" cy="376.7" r="8.06"/><circle cx="916.3" cy="389.5" r="8.06"/><circle cx="916.7" cy="414.8" r="8.06"/><circle cx="916.6" cy="423.8" r="8.06"/><circle cx="916.0" cy="523.3" r="8.06"/><circle cx="917.7" cy="331.4" r="8.06"/><circle cx="917.6" cy="331.8" r="8.06"/><circle cx="917.1" cy="485.8" r="8.06"/><circle cx="917.1" cy="487.7" r="8.06"/><circle cx="917.5" cy="512.1" r="8.06"/><circle cx="917.7" cy="518.7" r="8.06"/><circle cx="917.8" cy="522.5" r="8.06"/><circle cx="918.4" cy="338.9" r="8.06"/><circle cx="918.9" cy="376.6" r="8.06"/><circle cx="919.0" cy="422.9" r="8.06"/><circle cx="918.6" cy="435.9" r="8.06"/><circle cx="918.5" cy="448.9" r="8.06"/><circle cx="918.7" cy="481.1" r="8.06"/><circle cx="918.2" cy="481.9" r="8.06"/><circle cx="918.2" cy="489.2" r="8.06"/><circle cx="918.4" cy="490.3" r="8.06"/><circle cx="918.1" cy="507.4" r="8.06"/><circle cx="919.8" cy="412.2" r="8.06"/><circle cx="919.5" cy="438.9" r="8.06"/><circle cx="919.2" cy="452.6" r="8.06"/><circle cx="920.3" cy="300.8" r="8.06"/><circle cx="920.7" cy="313.9" r="8.06"/><circle cx="920.7" cy="330.5" r="8.06"/><circle cx="920.2" cy="381.9" r="8.06"/><circle cx="920.8" cy="392.9" r="8.06"/><circle cx="920.6" cy="434.2" r="8.06"/><circle cx="920.9" cy="482.9" r="8.06"/><circle cx="920.4" cy="505.2" r="8.06"/><circle cx="920.7" cy="520.4" r="8.06"/><circle cx="921.6" cy="234.5" r="8.06"/><circle cx="921.1" cy="312.3" r="8.06"/><circle cx="921.4" cy="365.0" r="8.06"/><circle cx="921.2" cy="456.9" r="8.06"/><circle cx="921.2" cy="463.2" r="8.06"/><circle cx="921.2" cy="485.4" r="8.06"/><circle cx="922.0" cy="486.3" r="8.06"/><circle cx="921.1" cy="492.4" r="8.06"/><circle cx="921.4" cy="510.5" r="8.06"/><circle cx="922.7" cy="464.7" r="8.06"/><circle cx="922.9" cy="508.4" r="8.06"/><circle cx="923.4" cy="271.6" r="8.06"/><circle cx="923.3" cy="302.7" r="8.06"/><circle cx="923.5" cy="408.5" r="8.06"/><circle cx="923.7" cy="466.9" r="8.06"/><circle cx="923.2" cy="520.1" r="8.06"/><circle cx="924.4" cy="248.5" r="8.06"/><circle cx="925.0" cy="268.5" r="8.06"/><circle cx="924.1" cy="362.7" r="8.06"/><circle cx="924.7" cy="386.8" r="8.06"/><circle cx="924.9" cy="431.7" r="8.06"/><circle cx="924.0" cy="455.8" r="8.06"/><circle cx="924.3" cy="492.3" r="8.06"/><circle cx="924.7" cy="499.8" r="8.06"/><circle cx="925.0" cy="269.2" r="8.06"/><circle cx="925.8" cy="498.3" r="8.06"/><circle cx="925.6" cy="518.9" r="8.06"/><circle cx="926.2" cy="249.2" r="8.06"/><circle cx="926.4" cy="372.4" r="8.06"/><circle cx="926.6" cy="412.2" r="8.06"/><circle cx="926.4" cy="485.8" r="8.06"/><circle cx="927.6" cy="320.3" r="8.06"/><circle cx="927.5" cy="326.9" r="8.06"/><circle cx="927.4" cy="354.5" r="8.06"/><circle cx="928.0" cy="502.8" r="8.06"/><circle cx="927.8" cy="510.6" r="8.06"/><circle cx="928.8" cy="339.0" r="8.06"/><circle cx="928.1" cy="394.0" r="8.06"/><circle cx="928.3" cy="476.3" r="8.06"/><circle cx="928.8" cy="512.2" r="8.06"/><circle cx="929.1" cy="328.3" r="8.06"/><circle cx="929.7" cy="403.3" r="8.06"/><circle cx="929.4" cy="465.5" r="8.06"/><circle cx="929.3" cy="474.5" r="8.06"/><circle cx="929.2" cy="491.0" r="8.06"/><circle cx="930.4" cy="290.4" r="8.06"/><circle cx="930.4" cy="394.1" r="8.06"/><circle cx="931.0" cy="511.3" r="8.06"/><circle cx="931.2" cy="433.9" r="8.06"/><circle cx="932.0" cy="468.1" r="8.06"/><circle cx="931.2" cy="514.7" r="8.06"/><circle cx="931.5" cy="516.5" r="8.06"/><circle cx="932.9" cy="420.6" r="8.06"/><circle cx="932.8" cy="447.7" r="8.06"/><circle cx="932.6" cy="487.9" r="8.06"/><circle cx="932.4" cy="496.7" r="8.06"/><circle cx="933.7" cy="394.7" r="8.06"/><circle cx="933.8" cy="458.4" r="8.06"/><circle cx="933.2" cy="479.4" r="8.06"/><circle cx="933.5" cy="491.9" r="8.06"/><circle cx="934.1" cy="387.7" r="8.06"/><circle cx="934.5" cy="483.5" r="8.06"/><circle cx="934.9" cy="486.5" r="8.06"/><circle cx="935.5" cy="332.2" r="8.06"/><circle cx="935.0" cy="403.6" r="8.06"/><circle cx="935.9" cy="471.9" r="8.06"/><circle cx="935.3" cy="514.2" r="8.06"/><circle cx="936.3" cy="258.8" r="8.06"/><circle cx="936.3" cy="265.0" r="8.06"/><circle cx="936.8" cy="334.0" r="8.06"/><circle cx="936.9" cy="399.1" r="8.06"/><circle cx="936.3" cy="415.2" r="8.06"/><circle cx="936.4" cy="446.8" r="8.06"/><circle cx="936.9" cy="461.7" r="8.06"/><circle cx="936.5" cy="495.9" r="8.06"/><circle cx="937.0" cy="389.9" r="8.06"/><circle cx="937.3" cy="481.8" r="8.06"/><circle cx="937.2" cy="511.6" r="8.06"/><circle cx="937.4" cy="514.7" r="8.06"/><circle cx="938.1" cy="239.8" r="8.06"/><circle cx="939.0" cy="398.0" r="8.06"/><circle cx="938.2" cy="445.3" r="8.06"/><circle cx="938.2" cy="497.5" r="8.06"/><circle cx="938.1" cy="513.6" r="8.06"/><circle cx="938.8" cy="516.0" r="8.06"/><circle cx="939.0" cy="358.4" r="8.06"/><circle cx="939.2" cy="387.8" r="8.06"/><circle cx="939.9" cy="501.8" r="8.06"/><circle cx="939.2" cy="512.2" r="8.06"/><circle cx="939.4" cy="515.9" r="8.06"/><circle cx="939.2" cy="523.7" r="8.06"/><circle cx="940.6" cy="363.3" r="8.06"/><circle cx="940.0" cy="371.1" r="8.06"/><circle cx="940.6" cy="387.6" r="8.06"/><circle cx="940.8" cy="388.4" r="8.06"/><circle cx="941.6" cy="402.0" r="8.06"/><circle cx="941.3" cy="421.7" r="8.06"/><circle cx="941.6" cy="482.6" r="8.06"/><circle cx="941.4" cy="497.4" r="8.06"/><circle cx="941.5" cy="513.3" r="8.06"/><circle cx="942.2" cy="438.6" r="8.06"/><circle cx="942.9" cy="478.8" r="8.06"/><circle cx="942.7" cy="498.8" r="8.06"/><circle cx="943.9" cy="379.0" r="8.06"/><circle cx="943.7" cy="416.1" r="8.06"/><circle cx="943.7" cy="444.2" r="8.06"/><circle cx="943.2" cy="451.2" r="8.06"/><circle cx="943.1" cy="464.2" r="8.06"/><circle cx="943.5" cy="490.5" r="8.06"/><circle cx="944.0" cy="491.1" r="8.06"/><circle cx="943.0" cy="499.1" r="8.06"/><circle cx="943.6" cy="503.3" r="8.06"/><circle cx="944.8" cy="330.8" r="8.06"/><circle cx="944.7" cy="456.9" r="8.06"/><circle cx="944.4" cy="493.7" r="8.06"/><circle cx="945.7" cy="403.0" r="8.06"/><circle cx="945.9" cy="432.7" r="8.06"/><circle cx="945.8" cy="463.8" r="8.06"/><circle cx="945.8" cy="484.5" r="8.06"/><circle cx="946.3" cy="330.7" r="8.06"/><circle cx="947.0" cy="368.4" r="8.06"/><circle cx="946.1" cy="388.9" r="8.06"/><circle cx="946.1" cy="472.1" r="8.06"/><circle cx="946.1" cy="495.2" r="8.06"/><circle cx="946.3" cy="497.4" r="8.06"/><circle cx="946.4" cy="499.3" r="8.06"/><circle cx="946.2" cy="509.7" r="8.06"/><circle cx="947.1" cy="371.2" r="8.06"/><circle cx="947.2" cy="399.5" r="8.06"/><circle cx="947.7" cy="449.5" r="8.06"/><circle cx="947.3" cy="498.6" r="8.06"/><circle cx="947.6" cy="505.6" r="8.06"/><circle cx="947.4" cy="508.6" r="8.06"/><circle cx="948.8" cy="461.2" r="8.06"/><circle cx="949.4" cy="509.2" r="8.06"/><circle cx="949.8" cy="510.7" r="8.06"/><circle cx="950.4" cy="392.0" r="8.06"/><circle cx="950.1" cy="485.1" r="8.06"/><circle cx="950.8" cy="509.9" r="8.06"/><circle cx="951.3" cy="432.1" r="8.06"/><circle cx="951.2" cy="492.6" r="8.06"/><circle cx="951.6" cy="495.5" r="8.06"/><circle cx="952.4" cy="405.7" r="8.06"/><circle cx="952.9" cy="415.1" r="8.06"/><circle cx="952.1" cy="424.2" r="8.06"/><circle cx="952.7" cy="456.5" r="8.06"/><circle cx="953.2" cy="420.6" r="8.06"/><circle cx="953.1" cy="486.5" r="8.06"/><circle cx="953.8" cy="496.7" r="8.06"/><circle cx="954.7" cy="388.4" r="8.06"/><circle cx="954.1" cy="506.4" r="8.06"/><circle cx="955.1" cy="453.0" r="8.06"/><circle cx="955.6" cy="460.8" r="8.06"/><circle cx="955.0" cy="488.1" r="8.06"/><circle cx="955.7" cy="502.0" r="8.06"/><circle cx="955.2" cy="507.3" r="8.06"/><circle cx="956.4" cy="458.6" r="8.06"/><circle cx="956.6" cy="473.0" r="8.06"/><circle cx="956.1" cy="482.4" r="8.06"/><circle cx="956.3" cy="490.7" r="8.06"/><circle cx="956.1" cy="493.3" r="8.06"/><circle cx="956.5" cy="495.8" r="8.06"/><circle cx="956.2" cy="506.1" r="8.06"/><circle cx="957.5" cy="357.6" r="8.06"/><circle cx="957.1" cy="457.5" r="8.06"/><circle cx="957.7" cy="459.3" r="8.06"/><circle cx="958.6" cy="348.3" r="8.06"/><circle cx="958.2" cy="434.6" r="8.06"/><circle cx="958.3" cy="449.2" r="8.06"/><circle cx="958.8" cy="454.3" r="8.06"/><circle cx="959.3" cy="400.6" r="8.06"/><circle cx="959.3" cy="430.7" r="8.06"/><circle cx="959.6" cy="460.2" r="8.06"/><circle cx="959.9" cy="503.7" r="8.06"/><circle cx="960.9" cy="394.1" r="8.06"/><circle cx="960.5" cy="442.0" r="8.06"/><circle cx="960.9" cy="466.8" r="8.06"/><circle cx="960.6" cy="489.8" r="8.06"/><circle cx="960.8" cy="493.8" r="8.06"/><circle cx="961.8" cy="382.4" r="8.06"/><circle cx="961.3" cy="433.9" r="8.06"/><circle cx="962.7" cy="484.9" r="8.06"/><circle cx="964.9" cy="379.5" r="8.06"/><circle cx="964.5" cy="420.8" r="8.06"/><circle cx="964.4" cy="469.3" r="8.06"/><circle cx="964.3" cy="489.2" r="8.06"/><circle cx="965.5" cy="318.8" r="8.06"/><circle cx="965.4" cy="438.7" r="8.06"/><circle cx="965.9" cy="500.1" r="8.06"/><circle cx="966.9" cy="345.5" r="8.06"/><circle cx="966.7" cy="472.7" r="8.06"/><circle cx="966.3" cy="493.5" r="8.06"/><circle cx="967.1" cy="443.3" r="8.06"/><circle cx="968.1" cy="396.8" r="8.06"/><circle cx="969.6" cy="377.0" r="8.06"/><circle cx="970.0" cy="499.0" r="8.06"/><circle cx="970.5" cy="365.1" r="8.06"/><circle cx="970.3" cy="466.5" r="8.06"/><circle cx="971.1" cy="407.6" r="8.06"/><circle cx="971.4" cy="463.8" r="8.06"/><circle cx="972.6" cy="444.1" r="8.06"/><circle cx="972.6" cy="459.9" r="8.06"/><circle cx="972.2" cy="499.1" r="8.06"/><circle cx="973.8" cy="417.5" r="8.06"/><circle cx="973.8" cy="459.1" r="8.06"/><circle cx="974.8" cy="363.0" r="8.06"/><circle cx="975.0" cy="473.5" r="8.06"/><circle cx="975.3" cy="332.8" r="8.06"/><circle cx="976.4" cy="342.8" r="8.06"/><circle cx="976.2" cy="460.5" r="8.06"/><circle cx="976.1" cy="487.6" r="8.06"/><circle cx="977.0" cy="488.5" r="8.06"/><circle cx="977.6" cy="336.1" r="8.06"/><circle cx="977.2" cy="414.6" r="8.06"/><circle cx="978.5" cy="476.2" r="8.06"/><circle cx="979.0" cy="357.0" r="8.06"/><circle cx="979.7" cy="372.5" r="8.06"/><circle cx="979.7" cy="453.4" r="8.06"/><circle cx="980.0" cy="488.7" r="8.06"/><circle cx="980.1" cy="357.8" r="8.06"/><circle cx="980.2" cy="372.6" r="8.06"/><circle cx="980.1" cy="481.7" r="8.06"/><circle cx="982.5" cy="353.1" r="8.06"/><circle cx="984.0" cy="327.8" r="8.06"/><circle cx="983.8" cy="452.4" r="8.06"/><circle cx="983.9" cy="498.7" r="8.06"/><circle cx="984.2" cy="348.7" r="8.06"/><circle cx="984.1" cy="382.3" r="8.06"/><circle cx="985.2" cy="343.5" r="8.06"/><circle cx="986.0" cy="378.7" r="8.06"/><circle cx="985.2" cy="421.0" r="8.06"/><circle cx="985.6" cy="420.7" r="8.06"/><circle cx="985.9" cy="480.6" r="8.06"/><circle cx="987.2" cy="389.4" r="8.06"/><circle cx="987.3" cy="435.5" r="8.06"/><circle cx="987.3" cy="471.6" r="8.06"/><circle cx="987.1" cy="486.6" r="8.06"/><circle cx="988.2" cy="421.0" r="8.06"/><circle cx="988.7" cy="480.0" r="8.06"/><circle cx="989.0" cy="382.9" r="8.06"/><circle cx="990.2" cy="361.2" r="8.06"/><circle cx="990.2" cy="386.1" r="8.06"/><circle cx="990.5" cy="460.9" r="8.06"/><circle cx="992.0" cy="402.1" r="8.06"/><circle cx="991.8" cy="426.1" r="8.06"/><circle cx="991.2" cy="439.7" r="8.06"/><circle cx="992.2" cy="372.3" r="8.06"/><circle cx="992.8" cy="410.8" r="8.06"/><circle cx="994.6" cy="406.3" r="8.06"/><circle cx="994.5" cy="439.3" r="8.06"/><circle cx="994.3" cy="491.4" r="8.06"/><circle cx="994.3" cy="494.0" r="8.06"/><circle cx="995.8" cy="347.6" r="8.06"/><circle cx="995.3" cy="362.5" r="8.06"/><circle cx="995.9" cy="405.2" r="8.06"/><circle cx="996.0" cy="412.0" r="8.06"/><circle cx="996.0" cy="469.2" r="8.06"/><circle cx="995.0" cy="482.3" r="8.06"/><circle cx="996.6" cy="334.1" r="8.06"/><circle cx="996.4" cy="337.9" r="8.06"/><circle cx="998.7" cy="365.3" r="8.06"/><circle cx="999.6" cy="410.7" r="8.06"/><circle cx="1000.7" cy="353.2" r="8.06"/><circle cx="1001.7" cy="412.2" r="8.06"/><circle cx="1001.4" cy="422.1" r="8.06"/><circle cx="1003.0" cy="352.0" r="8.06"/><circle cx="1005.3" cy="361.7" r="8.06"/><circle cx="1005.2" cy="391.5" r="8.06"/><circle cx="1007.0" cy="358.0" r="8.06"/><circle cx="1006.1" cy="389.4" r="8.06"/><circle cx="1006.1" cy="416.3" r="8.06"/><circle cx="1007.9" cy="371.6" r="8.06"/><circle cx="1008.1" cy="403.8" r="8.06"/><circle cx="1008.3" cy="426.0" r="8.06"/><circle cx="1011.3" cy="405.6" r="8.06"/><circle cx="1012.7" cy="396.3" r="8.06"/><circle cx="1014.8" cy="382.7" r="8.06"/><circle cx="1014.9" cy="419.5" r="8.06"/><circle cx="1016.7" cy="397.9" r="8.06"/><circle cx="1016.6" cy="419.6" r="8.06"/><circle cx="1020.0" cy="385.3" r="8.06"/><circle cx="1023.0" cy="396.9" r="8.06"/><circle cx="1024.8" cy="388.6" r="8.06"/><circle cx="1025.8" cy="361.4" r="8.06"/><circle cx="1026.1" cy="431.2" r="8.06"/><circle cx="190.8" cy="690.1" r="8.06"/><circle cx="205.6" cy="706.4" r="8.06"/><circle cx="183.0" cy="687.4" r="8.06"/><circle cx="215.2" cy="720.2" r="8.06"/><circle cx="193.9" cy="694.8" r="8.06"/><circle cx="221.0" cy="719.8" r="8.06"/><circle cx="186.5" cy="684.2" r="8.06"/><circle cx="169.1" cy="670.5" r="8.06"/><circle cx="148.2" cy="643.2" r="8.06"/><circle cx="181.7" cy="683.1" r="8.06"/><circle cx="211.2" cy="718.5" r="8.06"/><circle cx="201.2" cy="700.2" r="8.06"/><circle cx="171.5" cy="668.2" r="8.06"/><circle cx="200.5" cy="710.6" r="8.06"/><circle cx="200.2" cy="701.7" r="8.06"/><circle cx="210.3" cy="711.2" r="8.06"/><circle cx="189.8" cy="691.7" r="8.06"/><circle cx="159.9" cy="648.3" r="8.06"/><circle cx="205.0" cy="707.8" r="8.06"/><circle cx="186.9" cy="685.1" r="8.06"/><circle cx="191.5" cy="693.4" r="8.06"/><circle cx="177.0" cy="681.1" r="8.06"/><circle cx="205.6" cy="707.1" r="8.06"/><circle cx="188.0" cy="696.6" r="8.06"/><circle cx="201.1" cy="704.1" r="8.06"/><circle cx="219.1" cy="719.2" r="8.06"/><circle cx="170.9" cy="666.7" r="8.06"/><circle cx="151.3" cy="650.8" r="8.06"/><circle cx="193.2" cy="691.3" r="8.06"/><circle cx="185.9" cy="701.8" r="8.06"/><circle cx="193.4" cy="696.4" r="8.06"/><circle cx="200.4" cy="710.4" r="8.06"/><circle cx="186.6" cy="688.8" r="8.06"/><circle cx="211.9" cy="709.3" r="8.06"/><circle cx="198.9" cy="710.1" r="8.06"/><circle cx="210.1" cy="711.6" r="8.06"/><circle cx="190.1" cy="686.6" r="8.06"/><circle cx="195.6" cy="705.8" r="8.06"/><circle cx="217.8" cy="725.4" r="8.06"/><circle cx="210.4" cy="717.8" r="8.06"/><circle cx="220.7" cy="717.0" r="8.06"/><circle cx="216.0" cy="716.9" r="8.06"/><circle cx="186.5" cy="679.8" r="8.06"/><circle cx="210.3" cy="709.0" r="8.06"/><circle cx="200.3" cy="709.6" r="8.06"/><circle cx="182.8" cy="682.0" r="8.06"/><circle cx="183.3" cy="677.9" r="8.06"/><circle cx="207.9" cy="712.3" r="8.06"/><circle cx="208.8" cy="714.8" r="8.06"/><circle cx="212.6" cy="716.4" r="8.06"/><circle cx="184.2" cy="686.7" r="8.06"/><circle cx="192.2" cy="699.6" r="8.06"/><circle cx="167.4" cy="663.5" r="8.06"/><circle cx="189.8" cy="689.8" r="8.06"/><circle cx="209.5" cy="716.9" r="8.06"/><circle cx="169.3" cy="672.9" r="8.06"/><circle cx="208.8" cy="721.3" r="8.06"/><circle cx="154.2" cy="663.7" r="8.06"/><circle cx="190.2" cy="692.4" r="8.06"/><circle cx="197.8" cy="710.4" r="8.06"/><circle cx="200.7" cy="707.1" r="8.06"/><circle cx="209.4" cy="716.4" r="8.06"/><circle cx="204.6" cy="705.5" r="8.06"/><circle cx="206.2" cy="710.5" r="8.06"/><circle cx="174.6" cy="677.1" r="8.06"/><circle cx="161.7" cy="664.2" r="8.06"/><circle cx="172.4" cy="674.4" r="8.06"/><circle cx="181.0" cy="682.6" r="8.06"/><circle cx="165.9" cy="668.3" r="8.06"/><circle cx="167.6" cy="668.5" r="8.06"/><circle cx="180.3" cy="686.6" r="8.06"/><circle cx="223.9" cy="723.3" r="8.06"/><circle cx="211.4" cy="714.4" r="8.06"/><circle cx="151.9" cy="647.8" r="8.06"/><circle cx="172.0" cy="669.2" r="8.06"/><circle cx="199.4" cy="713.1" r="8.06"/><circle cx="219.7" cy="711.4" r="8.06"/><circle cx="195.6" cy="694.4" r="8.06"/><circle cx="220.8" cy="719.5" r="8.06"/><circle cx="154.9" cy="640.8" r="8.06"/><circle cx="221.4" cy="717.9" r="8.06"/><circle cx="163.3" cy="664.9" r="8.06"/><circle cx="186.8" cy="684.8" r="8.06"/><circle cx="222.5" cy="721.6" r="8.06"/><circle cx="217.0" cy="714.8" r="8.06"/><circle cx="218.3" cy="716.8" r="8.06"/><circle cx="193.5" cy="686.3" r="8.06"/><circle cx="193.0" cy="687.7" r="8.06"/><circle cx="198.2" cy="708.8" r="8.06"/><circle cx="164.4" cy="659.7" r="8.06"/><circle cx="198.6" cy="705.1" r="8.06"/><circle cx="182.3" cy="694.8" r="8.06"/><circle cx="171.4" cy="662.4" r="8.06"/><circle cx="209.1" cy="717.0" r="8.06"/><circle cx="194.4" cy="705.8" r="8.06"/><circle cx="180.5" cy="682.1" r="8.06"/><circle cx="218.3" cy="716.9" r="8.06"/><circle cx="197.8" cy="709.8" r="8.06"/><circle cx="187.4" cy="680.1" r="8.06"/><circle cx="169.0" cy="668.7" r="8.06"/><circle cx="181.2" cy="683.6" r="8.06"/><circle cx="183.5" cy="677.8" r="8.06"/><circle cx="190.3" cy="702.7" r="8.06"/><circle cx="171.9" cy="665.6" r="8.06"/><circle cx="164.3" cy="667.3" r="8.06"/><circle cx="164.7" cy="658.5" r="8.06"/><circle cx="217.8" cy="712.4" r="8.06"/><circle cx="222.5" cy="716.1" r="8.06"/><circle cx="208.7" cy="712.6" r="8.06"/><circle cx="218.7" cy="714.8" r="8.06"/><circle cx="193.7" cy="709.3" r="8.06"/><circle cx="205.9" cy="707.6" r="8.06"/><circle cx="193.7" cy="698.8" r="8.06"/><circle cx="198.4" cy="697.9" r="8.06"/><circle cx="167.0" cy="664.0" r="8.06"/><circle cx="172.8" cy="671.5" r="8.06"/><circle cx="160.7" cy="669.0" r="8.06"/><circle cx="215.3" cy="719.9" r="8.06"/><circle cx="194.2" cy="700.1" r="8.06"/><circle cx="162.8" cy="675.4" r="8.06"/><circle cx="219.6" cy="724.2" r="8.06"/><circle cx="212.2" cy="717.8" r="8.06"/><circle cx="203.2" cy="702.2" r="8.06"/><circle cx="214.2" cy="717.5" r="8.06"/><circle cx="219.4" cy="719.6" r="8.06"/><circle cx="212.1" cy="717.1" r="8.06"/><circle cx="210.9" cy="712.9" r="8.06"/><circle cx="209.5" cy="713.7" r="8.06"/><circle cx="190.2" cy="693.7" r="8.06"/><circle cx="186.5" cy="684.2" r="8.06"/><circle cx="197.1" cy="694.8" r="8.06"/><circle cx="209.1" cy="716.9" r="8.06"/><circle cx="165.5" cy="666.5" r="8.06"/><circle cx="203.1" cy="716.3" r="8.06"/><circle cx="208.2" cy="714.4" r="8.06"/><circle cx="171.0" cy="664.8" r="8.06"/><circle cx="180.1" cy="674.5" r="8.06"/><circle cx="212.2" cy="715.8" r="8.06"/><circle cx="218.0" cy="709.3" r="8.06"/><circle cx="200.2" cy="704.4" r="8.06"/><circle cx="152.3" cy="643.8" r="8.06"/><circle cx="183.0" cy="687.5" r="8.06"/><circle cx="200.7" cy="709.1" r="8.06"/><circle cx="177.6" cy="679.3" r="8.06"/><circle cx="176.9" cy="689.2" r="8.06"/><circle cx="194.0" cy="690.2" r="8.06"/><circle cx="202.9" cy="721.5" r="8.06"/><circle cx="212.8" cy="715.6" r="8.06"/><circle cx="205.2" cy="704.9" r="8.06"/><circle cx="192.5" cy="688.9" r="8.06"/><circle cx="194.5" cy="639.9" r="8.06"/><circle cx="201.6" cy="646.2" r="8.06"/><circle cx="214.4" cy="656.7" r="8.06"/><circle cx="216.5" cy="657.6" r="8.06"/><circle cx="201.9" cy="638.0" r="8.06"/><circle cx="187.9" cy="621.7" r="8.06"/><circle cx="186.8" cy="611.6" r="8.06"/><circle cx="215.3" cy="667.0" r="8.06"/><circle cx="220.7" cy="666.3" r="8.06"/><circle cx="214.7" cy="661.0" r="8.06"/><circle cx="199.1" cy="643.6" r="8.06"/><circle cx="202.8" cy="639.5" r="8.06"/><circle cx="211.5" cy="660.0" r="8.06"/><circle cx="189.1" cy="612.9" r="8.06"/><circle cx="211.9" cy="661.2" r="8.06"/><circle cx="219.3" cy="659.6" r="8.06"/><circle cx="221.8" cy="667.4" r="8.06"/><circle cx="189.3" cy="619.8" r="8.06"/><circle cx="205.5" cy="641.1" r="8.06"/><circle cx="187.5" cy="604.5" r="8.06"/><circle cx="210.9" cy="656.5" r="8.06"/><circle cx="218.6" cy="668.3" r="8.06"/><circle cx="183.1" cy="607.1" r="8.06"/><circle cx="202.8" cy="646.5" r="8.06"/><circle cx="216.8" cy="657.5" r="8.06"/><circle cx="220.8" cy="661.7" r="8.06"/><circle cx="192.3" cy="632.2" r="8.06"/><circle cx="196.2" cy="638.7" r="8.06"/><circle cx="199.3" cy="638.1" r="8.06"/><circle cx="212.9" cy="652.3" r="8.06"/><circle cx="192.5" cy="622.2" r="8.06"/><circle cx="213.4" cy="657.0" r="8.06"/><circle cx="196.4" cy="640.0" r="8.06"/><circle cx="213.4" cy="655.7" r="8.06"/><circle cx="220.8" cy="668.0" r="8.06"/><circle cx="212.1" cy="658.4" r="8.06"/><circle cx="222.7" cy="624.3" r="8.06"/><circle cx="238.1" cy="639.3" r="8.06"/><circle cx="229.1" cy="638.6" r="8.06"/><circle cx="235.8" cy="639.8" r="8.06"/><circle cx="212.6" cy="613.8" r="8.06"/><circle cx="234.5" cy="635.7" r="8.06"/><circle cx="237.1" cy="631.3" r="8.06"/><circle cx="224.9" cy="620.7" r="8.06"/><circle cx="215.7" cy="605.4" r="8.06"/><circle cx="218.0" cy="614.1" r="8.06"/><circle cx="219.7" cy="624.1" r="8.06"/><circle cx="229.4" cy="627.0" r="8.06"/><circle cx="216.6" cy="612.6" r="8.06"/><circle cx="237.9" cy="638.1" r="8.06"/><circle cx="221.5" cy="622.7" r="8.06"/><circle cx="238.8" cy="643.3" r="8.06"/><circle cx="213.4" cy="610.7" r="8.06"/><circle cx="224.5" cy="621.5" r="8.06"/><circle cx="242.8" cy="637.4" r="8.06"/><circle cx="219.7" cy="617.4" r="8.06"/><circle cx="219.7" cy="612.8" r="8.06"/><circle cx="231.0" cy="636.4" r="8.06"/><circle cx="213.8" cy="607.9" r="8.06"/><circle cx="232.3" cy="635.9" r="8.06"/><circle cx="213.2" cy="615.0" r="8.06"/><circle cx="238.7" cy="638.2" r="8.06"/><circle cx="250.9" cy="619.5" r="8.06"/><circle cx="244.0" cy="620.7" r="8.06"/><circle cx="253.1" cy="591.3" r="8.06"/><circle cx="251.5" cy="634.0" r="8.06"/><circle cx="249.9" cy="629.9" r="8.06"/><circle cx="244.6" cy="588.0" r="8.06"/><circle cx="253.5" cy="629.0" r="8.06"/><circle cx="237.2" cy="615.4" r="8.06"/><circle cx="242.9" cy="575.7" r="8.06"/><circle cx="237.6" cy="615.8" r="8.06"/><circle cx="240.3" cy="620.7" r="8.06"/><circle cx="243.1" cy="609.6" r="8.06"/><circle cx="252.1" cy="627.1" r="8.06"/><circle cx="252.0" cy="627.2" r="8.06"/><circle cx="244.6" cy="621.8" r="8.06"/><circle cx="252.2" cy="628.9" r="8.06"/><circle cx="243.2" cy="612.4" r="8.06"/><circle cx="239.9" cy="603.8" r="8.06"/><circle cx="246.1" cy="583.0" r="8.06"/><circle cx="243.5" cy="604.9" r="8.06"/><circle cx="209.6" cy="697.2" r="8.06"/><circle cx="231.5" cy="690.8" r="8.06"/><circle cx="211.3" cy="694.2" r="8.06"/><circle cx="212.2" cy="686.7" r="8.06"/><circle cx="217.5" cy="696.0" r="8.06"/><circle cx="204.3" cy="693.5" r="8.06"/><circle cx="216.3" cy="701.7" r="8.06"/><circle cx="223.9" cy="704.4" r="8.06"/><circle cx="212.9" cy="696.5" r="8.06"/><circle cx="205.6" cy="693.5" r="8.06"/><circle cx="215.6" cy="693.9" r="8.06"/><circle cx="217.8" cy="697.7" r="8.06"/><circle cx="208.9" cy="694.5" r="8.06"/><circle cx="215.7" cy="689.0" r="8.06"/><circle cx="212.6" cy="691.8" r="8.06"/><circle cx="220.2" cy="701.3" r="8.06"/><circle cx="215.0" cy="689.2" r="8.06"/><circle cx="211.9" cy="682.7" r="8.06"/><circle cx="203.1" cy="687.5" r="8.06"/><circle cx="217.1" cy="702.0" r="8.06"/><circle cx="221.8" cy="694.1" r="8.06"/><circle cx="226.9" cy="705.1" r="8.06"/><circle cx="221.4" cy="701.7" r="8.06"/><circle cx="218.0" cy="701.2" r="8.06"/><circle cx="222.5" cy="711.1" r="8.06"/><circle cx="211.1" cy="686.3" r="8.06"/><circle cx="212.6" cy="698.9" r="8.06"/><circle cx="211.0" cy="698.0" r="8.06"/><circle cx="220.5" cy="697.6" r="8.06"/><circle cx="217.5" cy="701.3" r="8.06"/><circle cx="227.3" cy="710.2" r="8.06"/><circle cx="229.3" cy="714.2" r="8.06"/><circle cx="220.5" cy="700.6" r="8.06"/><circle cx="214.1" cy="698.6" r="8.06"/><circle cx="215.0" cy="693.2" r="8.06"/><circle cx="206.3" cy="693.8" r="8.06"/><circle cx="218.0" cy="705.3" r="8.06"/><circle cx="214.5" cy="689.5" r="8.06"/><circle cx="223.7" cy="689.4" r="8.06"/><circle cx="203.9" cy="690.2" r="8.06"/><circle cx="225.6" cy="687.4" r="8.06"/><circle cx="215.2" cy="684.7" r="8.06"/><circle cx="209.6" cy="670.8" r="8.06"/><circle cx="234.6" cy="687.7" r="8.06"/><circle cx="215.6" cy="678.7" r="8.06"/><circle cx="226.6" cy="679.0" r="8.06"/><circle cx="223.6" cy="681.7" r="8.06"/><circle cx="227.7" cy="689.2" r="8.06"/><circle cx="214.7" cy="679.2" r="8.06"/><circle cx="224.4" cy="687.1" r="8.06"/><circle cx="211.8" cy="673.5" r="8.06"/><circle cx="230.9" cy="692.8" r="8.06"/><circle cx="216.8" cy="682.3" r="8.06"/><circle cx="223.6" cy="694.1" r="8.06"/><circle cx="239.5" cy="681.9" r="8.06"/><circle cx="217.1" cy="675.0" r="8.06"/><circle cx="240.4" cy="693.8" r="8.06"/><circle cx="229.4" cy="684.6" r="8.06"/><circle cx="230.2" cy="686.5" r="8.06"/><circle cx="230.8" cy="689.9" r="8.06"/><circle cx="221.8" cy="680.7" r="8.06"/><circle cx="222.6" cy="674.2" r="8.06"/><circle cx="210.7" cy="676.7" r="8.06"/><circle cx="217.6" cy="677.0" r="8.06"/><circle cx="223.5" cy="683.8" r="8.06"/><circle cx="208.1" cy="678.5" r="8.06"/><circle cx="237.9" cy="676.9" r="8.06"/><circle cx="213.7" cy="670.5" r="8.06"/><circle cx="207.8" cy="685.4" r="8.06"/><circle cx="233.1" cy="683.2" r="8.06"/><circle cx="769.8" cy="401.6" r="8.06"/><circle cx="765.2" cy="396.5" r="8.06"/><circle cx="826.0" cy="322.4" r="8.06"/><circle cx="766.5" cy="396.1" r="8.06"/><circle cx="787.0" cy="381.2" r="8.06"/><circle cx="820.0" cy="332.1" r="8.06"/><circle cx="759.0" cy="400.6" r="8.06"/><circle cx="795.8" cy="362.1" r="8.06"/><circle cx="816.6" cy="348.8" r="8.06"/><circle cx="784.4" cy="361.0" r="8.06"/><circle cx="774.7" cy="382.9" r="8.06"/><circle cx="740.9" cy="404.4" r="8.06"/><circle cx="759.7" cy="403.1" r="8.06"/><circle cx="774.1" cy="376.9" r="8.06"/><circle cx="826.4" cy="330.1" r="8.06"/><circle cx="800.6" cy="339.4" r="8.06"/><circle cx="838.2" cy="328.8" r="8.06"/><circle cx="795.9" cy="368.0" r="8.06"/><circle cx="730.6" cy="414.0" r="8.06"/><circle cx="787.2" cy="369.1" r="8.06"/><circle cx="803.9" cy="327.6" r="8.06"/><circle cx="771.9" cy="388.4" r="8.06"/><circle cx="784.2" cy="379.6" r="8.06"/><circle cx="746.7" cy="403.5" r="8.06"/><circle cx="749.0" cy="400.2" r="8.06"/><circle cx="760.8" cy="378.8" r="8.06"/><circle cx="761.0" cy="400.1" r="8.06"/><circle cx="775.4" cy="398.3" r="8.06"/><circle cx="799.7" cy="354.8" r="8.06"/><circle cx="752.9" cy="400.3" r="8.06"/><circle cx="867.0" cy="316.7" r="8.06"/><circle cx="893.0" cy="263.8" r="8.06"/><circle cx="919.1" cy="233.6" r="8.06"/><circle cx="906.9" cy="249.9" r="8.06"/><circle cx="921.3" cy="252.7" r="8.06"/><circle cx="897.2" cy="251.4" r="8.06"/><circle cx="873.0" cy="283.5" r="8.06"/><circle cx="894.9" cy="286.8" r="8.06"/><circle cx="901.1" cy="296.3" r="8.06"/><circle cx="907.7" cy="232.2" r="8.06"/><circle cx="852.4" cy="291.8" r="8.06"/><circle cx="872.3" cy="312.3" r="8.06"/><circle cx="916.1" cy="267.5" r="8.06"/><circle cx="881.2" cy="270.2" r="8.06"/><circle cx="886.2" cy="291.0" r="8.06"/><circle cx="870.7" cy="302.7" r="8.06"/><circle cx="896.0" cy="245.0" r="8.06"/><circle cx="886.2" cy="268.1" r="8.06"/><circle cx="874.6" cy="305.9" r="8.06"/><circle cx="890.7" cy="278.8" r="8.06"/><circle cx="913.4" cy="231.4" r="8.06"/><circle cx="825.5" cy="311.8" r="8.06"/><circle cx="975.5" cy="110.5" r="8.06"/><circle cx="944.5" cy="115.0" r="8.06"/><circle cx="1017.0" cy="136.8" r="8.06"/><circle cx="1002.5" cy="143.2" r="8.06"/><circle cx="1023.8" cy="157.5" r="8.06"/><circle cx="1010.0" cy="169.5" r="8.06"/><circle cx="987.5" cy="165.0" r="8.06"/><circle cx="971.8" cy="166.2" r="8.06"/><circle cx="955.8" cy="166.2" r="8.06"/><circle cx="1067.5" cy="161.2" r="8.06"/><circle cx="1080.0" cy="173.8" r="8.06"/><circle cx="1065.8" cy="179.2" r="8.06"/><circle cx="1057.5" cy="186.2" r="8.06"/><circle cx="1045.5" cy="186.2" r="8.06"/><circle cx="1061.2" cy="197.5" r="8.06"/><circle cx="1063.0" cy="211.2" r="8.06"/><circle cx="981.2" cy="183.0" r="8.06"/><circle cx="963.8" cy="185.0" r="8.06"/><circle cx="971.2" cy="189.2" r="8.06"/><circle cx="953.8" cy="182.5" r="8.06"/><circle cx="947.5" cy="192.5" r="8.06"/><circle cx="952.5" cy="203.8" r="8.06"/><circle cx="945.0" cy="202.5" r="8.06"/><circle cx="1018.8" cy="197.5" r="8.06"/><circle cx="996.8" cy="202.5" r="8.06"/><circle cx="975.0" cy="203.2" r="8.06"/><circle cx="977.5" cy="209.5" r="8.06"/><circle cx="984.5" cy="213.8" r="8.06"/><circle cx="965.0" cy="212.0" r="8.06"/><circle cx="980.0" cy="220.0" r="8.06"/><circle cx="1030.0" cy="210.0" r="8.06"/><circle cx="1020.0" cy="213.8" r="8.06"/><circle cx="1043.0" cy="211.2" r="8.06"/><circle cx="1047.0" cy="219.2" r="8.06"/><circle cx="1015.0" cy="226.2" r="8.06"/><circle cx="1011.2" cy="237.5" r="8.06"/><circle cx="987.0" cy="235.0" r="8.06"/><circle cx="967.0" cy="228.2" r="8.06"/><circle cx="961.2" cy="232.5" r="8.06"/><circle cx="965.0" cy="242.5" r="8.06"/><circle cx="947.5" cy="223.0" r="8.06"/><circle cx="944.5" cy="235.0" r="8.06"/><circle cx="1072.5" cy="242.0" r="8.06"/><circle cx="1073.8" cy="254.5" r="8.06"/><circle cx="1090.8" cy="249.5" r="8.06"/><circle cx="1090.0" cy="258.8" r="8.06"/><circle cx="1124.2" cy="256.8" r="8.06"/><circle cx="1114.5" cy="261.8" r="8.06"/><circle cx="1023.8" cy="256.2" r="8.06"/><circle cx="1012.5" cy="265.0" r="8.06"/><circle cx="1013.8" cy="272.5" r="8.06"/><circle cx="1010.0" cy="266.2" r="8.06"/><circle cx="1030.0" cy="266.2" r="8.06"/><circle cx="1031.2" cy="269.2" r="8.06"/><circle cx="1051.2" cy="263.8" r="8.06"/><circle cx="1055.0" cy="276.8" r="8.06"/><circle cx="1066.8" cy="278.8" r="8.06"/><circle cx="980.0" cy="250.8" r="8.06"/><circle cx="991.2" cy="252.5" r="8.06"/><circle cx="996.2" cy="250.8" r="8.06"/><circle cx="953.8" cy="251.2" r="8.06"/><circle cx="955.0" cy="257.5" r="8.06"/><circle cx="958.0" cy="265.0" r="8.06"/><circle cx="971.2" cy="265.0" r="8.06"/><circle cx="977.5" cy="273.8" r="8.06"/><circle cx="992.5" cy="273.8" r="8.06"/><circle cx="1039.2" cy="287.0" r="8.06"/><circle cx="1085.0" cy="294.2" r="8.06"/><circle cx="1071.8" cy="297.0" r="8.06"/><circle cx="1068.8" cy="305.0" r="8.06"/><circle cx="1047.5" cy="305.0" r="8.06"/><circle cx="1091.2" cy="308.8" r="8.06"/><circle cx="1095.0" cy="308.8" r="8.06"/><circle cx="1147.5" cy="308.0" r="8.06"/><circle cx="1147.5" cy="316.2" r="8.06"/><circle cx="951.2" cy="283.8" r="8.06"/><circle cx="958.8" cy="285.0" r="8.06"/><circle cx="966.2" cy="288.8" r="8.06"/><circle cx="968.8" cy="291.2" r="8.06"/><circle cx="945.0" cy="296.2" r="8.06"/><circle cx="950.0" cy="297.5" r="8.06"/><circle cx="963.8" cy="311.2" r="8.06"/><circle cx="986.2" cy="295.0" r="8.06"/><circle cx="998.8" cy="294.5" r="8.06"/><circle cx="1001.2" cy="297.5" r="8.06"/><circle cx="993.8" cy="300.0" r="8.06"/><circle cx="996.2" cy="303.8" r="8.06"/><circle cx="997.5" cy="312.5" r="8.06"/><circle cx="1013.8" cy="302.5" r="8.06"/><circle cx="1027.5" cy="306.2" r="8.06"/><circle cx="1035.0" cy="311.2" r="8.06"/><circle cx="1012.5" cy="316.2" r="8.06"/><circle cx="1015.0" cy="317.5" r="8.06"/><circle cx="986.2" cy="316.2" r="8.06"/><circle cx="1060.0" cy="317.5" r="8.06"/><circle cx="1062.5" cy="316.2" r="8.06"/><circle cx="1115.0" cy="318.8" r="8.06"/><circle cx="1162.5" cy="350.8" r="8.06"/><circle cx="1147.5" cy="318.0" r="8.06"/><circle cx="1135.8" cy="328.8" r="8.06"/><circle cx="1115.0" cy="326.2" r="8.06"/><circle cx="1110.0" cy="330.5" r="8.06"/><circle cx="1114.2" cy="342.5" r="8.06"/><circle cx="1092.5" cy="336.2" r="8.06"/><circle cx="1128.8" cy="354.5" r="8.06"/><circle cx="1126.2" cy="363.8" r="8.06"/><circle cx="1112.5" cy="363.8" r="8.06"/><circle cx="1118.8" cy="367.5" r="8.06"/><circle cx="1121.2" cy="371.2" r="8.06"/><circle cx="1104.2" cy="375.0" r="8.06"/><circle cx="1088.8" cy="365.8" r="8.06"/><circle cx="1095.5" cy="387.5" r="8.06"/><circle cx="1125.0" cy="392.5" r="8.06"/><circle cx="1133.8" cy="403.8" r="8.06"/><circle cx="1138.8" cy="406.2" r="8.06"/><circle cx="1127.5" cy="410.8" r="8.06"/><circle cx="1135.8" cy="418.8" r="8.06"/><circle cx="1126.2" cy="428.2" r="8.06"/><circle cx="1110.0" cy="431.2" r="8.06"/><circle cx="1101.2" cy="441.2" r="8.06"/><circle cx="1096.2" cy="450.0" r="8.06"/><circle cx="1085.0" cy="436.2" r="8.06"/><circle cx="1085.8" cy="419.5" r="8.06"/><circle cx="1175.8" cy="435.8" r="8.06"/><circle cx="1186.2" cy="448.2" r="8.06"/><circle cx="1195.0" cy="455.5" r="8.06"/><circle cx="1200.8" cy="480.0" r="8.06"/><circle cx="1234.5" cy="475.0" r="8.06"/><circle cx="1136.2" cy="451.2" r="8.06"/><circle cx="1142.5" cy="452.0" r="8.06"/><circle cx="1140.0" cy="458.8" r="8.06"/><circle cx="1142.0" cy="465.8" r="8.06"/><circle cx="1131.8" cy="472.0" r="8.06"/><circle cx="1118.2" cy="458.2" r="8.06"/><circle cx="1146.2" cy="481.8" r="8.06"/><circle cx="1171.2" cy="500.5" r="8.06"/><circle cx="1145.5" cy="507.5" r="8.06"/><circle cx="1147.5" cy="517.5" r="8.06"/><circle cx="1182.5" cy="518.8" r="8.06"/><circle cx="1173.8" cy="525.0" r="8.06"/><circle cx="1151.2" cy="538.8" r="8.06"/><circle cx="1205.8" cy="543.8" r="8.06"/><circle cx="1170.0" cy="550.0" r="8.06"/><circle cx="1183.8" cy="552.5" r="8.06"/><circle cx="1102.5" cy="487.5" r="8.06"/><circle cx="1097.5" cy="500.5" r="8.06"/><circle cx="1110.8" cy="500.0" r="8.06"/><circle cx="1113.8" cy="503.8" r="8.06"/><circle cx="1114.2" cy="512.5" r="8.06"/><circle cx="1119.5" cy="523.8" r="8.06"/><circle cx="1105.0" cy="537.5" r="8.06"/><circle cx="1119.5" cy="547.5" r="8.06"/><circle cx="1121.2" cy="552.5" r="8.06"/><circle cx="1052.0" cy="355.0" r="8.06"/><circle cx="1062.5" cy="359.5" r="8.06"/><circle cx="1038.8" cy="325.0" r="8.06"/><circle cx="1040.0" cy="328.8" r="8.06"/><circle cx="1061.8" cy="330.5" r="8.06"/><circle cx="1058.8" cy="320.0" r="8.06"/><circle cx="1061.2" cy="317.5" r="8.06"/><circle cx="1026.2" cy="375.8" r="8.06"/><circle cx="1034.5" cy="380.5" r="8.06"/><circle cx="1035.5" cy="389.5" r="8.06"/><circle cx="1035.8" cy="400.0" r="8.06"/><circle cx="1051.8" cy="384.5" r="8.06"/><circle cx="1067.0" cy="380.0" r="8.06"/><circle cx="1043.0" cy="418.8" r="8.06"/><circle cx="1036.2" cy="425.0" r="8.06"/><circle cx="1060.8" cy="417.5" r="8.06"/><circle cx="1066.2" cy="423.8" r="8.06"/><circle cx="1068.8" cy="425.0" r="8.06"/><circle cx="1070.0" cy="423.8" r="8.06"/><circle cx="1047.5" cy="435.0" r="8.06"/><circle cx="1046.2" cy="438.8" r="8.06"/><circle cx="1040.0" cy="448.8" r="8.06"/><circle cx="1053.8" cy="453.8" r="8.06"/><circle cx="1045.0" cy="464.5" r="8.06"/><circle cx="1072.5" cy="442.5" r="8.06"/><circle cx="1070.0" cy="452.5" r="8.06"/><circle cx="1082.0" cy="453.8" r="8.06"/><circle cx="1069.5" cy="462.0" r="8.06"/><circle cx="1080.0" cy="465.0" r="8.06"/><circle cx="1076.8" cy="472.5" r="8.06"/><circle cx="1086.2" cy="475.0" r="8.06"/><circle cx="1086.2" cy="480.0" r="8.06"/><circle cx="1037.5" cy="485.0" r="8.06"/><circle cx="1038.0" cy="487.5" r="8.06"/><circle cx="1059.5" cy="488.8" r="8.06"/><circle cx="1048.8" cy="497.0" r="8.06"/><circle cx="1049.2" cy="505.0" r="8.06"/><circle cx="1066.2" cy="500.0" r="8.06"/><circle cx="1076.8" cy="506.2" r="8.06"/><circle cx="1033.0" cy="517.5" r="8.06"/><circle cx="1051.8" cy="530.0" r="8.06"/><circle cx="1053.8" cy="531.2" r="8.06"/><circle cx="1032.5" cy="536.2" r="8.06"/><circle cx="1050.0" cy="540.0" r="8.06"/><circle cx="1080.0" cy="533.8" r="8.06"/><circle cx="1090.0" cy="525.0" r="8.06"/><circle cx="1085.0" cy="522.5" r="8.06"/><circle cx="1061.2" cy="543.8" r="8.06"/><circle cx="1068.8" cy="542.5" r="8.06"/><circle cx="1076.2" cy="546.2" r="8.06"/><circle cx="1082.5" cy="551.2" r="8.06"/><circle cx="1053.8" cy="543.8" r="8.06"/><circle cx="1060.0" cy="544.5" r="8.06"/><circle cx="1071.2" cy="550.0" r="8.06"/><circle cx="1082.0" cy="553.0" r="8.06"/><circle cx="1033.8" cy="540.0" r="8.06"/><circle cx="1072.5" cy="541.2" r="8.06"/><circle cx="1118.8" cy="545.0" r="8.06"/><circle cx="1120.0" cy="553.8" r="8.06"/><circle cx="1121.8" cy="561.2" r="8.06"/><circle cx="1110.8" cy="564.2" r="8.06"/><circle cx="1117.0" cy="570.5" r="8.06"/><circle cx="1122.5" cy="576.2" r="8.06"/><circle cx="1107.5" cy="580.8" r="8.06"/><circle cx="1115.5" cy="581.2" r="8.06"/><circle cx="1138.8" cy="575.8" r="8.06"/><circle cx="1107.0" cy="594.5" r="8.06"/><circle cx="1121.8" cy="600.8" r="8.06"/><circle cx="1117.5" cy="603.2" r="8.06"/><circle cx="1118.2" cy="626.2" r="8.06"/><circle cx="1152.0" cy="541.2" r="8.06"/><circle cx="1170.8" cy="550.0" r="8.06"/><circle cx="1183.8" cy="555.0" r="8.06"/><circle cx="1205.8" cy="544.5" r="8.06"/><circle cx="1173.2" cy="572.5" r="8.06"/><circle cx="1177.0" cy="584.5" r="8.06"/><circle cx="1205.5" cy="581.8" r="8.06"/><circle cx="1170.0" cy="614.5" r="8.06"/><circle cx="1175.5" cy="625.8" r="8.06"/><circle cx="1190.0" cy="633.2" r="8.06"/><circle cx="1213.8" cy="637.5" r="8.06"/><circle cx="1242.5" cy="660.5" r="8.06"/><circle cx="1272.0" cy="667.0" r="8.06"/><circle cx="1169.2" cy="680.8" r="8.06"/><circle cx="1141.8" cy="713.2" r="8.06"/><circle cx="1202.5" cy="720.8" r="8.06"/><circle cx="1211.0" cy="833.7" r="8.06"/><circle cx="1212.7" cy="835.5" r="8.06"/><circle cx="1231.3" cy="827.4" r="8.06"/><circle cx="933.0" cy="95.8" r="8.06"/><circle cx="937.0" cy="104.2" r="8.06"/><circle cx="906.2" cy="114.5" r="8.06"/><circle cx="922.5" cy="131.2" r="8.06"/><circle cx="914.2" cy="168.8" r="8.06"/><circle cx="902.0" cy="175.0" r="8.06"/><circle cx="925.0" cy="188.8" r="8.06"/><circle cx="893.2" cy="197.5" r="8.06"/><circle cx="829.5" cy="206.8" r="8.06"/><circle cx="932.5" cy="205.0" r="8.06"/><circle cx="935.0" cy="208.8" r="8.06"/><circle cx="920.0" cy="206.2" r="8.06"/><circle cx="875.8" cy="203.8" r="8.06"/><circle cx="882.5" cy="207.5" r="8.06"/><circle cx="859.2" cy="209.5" r="8.06"/><circle cx="867.5" cy="218.8" r="8.06"/><circle cx="881.8" cy="214.5" r="8.06"/><circle cx="900.0" cy="213.8" r="8.06"/><circle cx="908.0" cy="212.0" r="8.06"/><circle cx="925.0" cy="217.5" r="8.06"/><circle cx="920.0" cy="242.5" r="8.06"/><circle cx="922.5" cy="245.0" r="8.06"/><circle cx="923.8" cy="241.2" r="8.06"/><circle cx="917.5" cy="243.8" r="8.06"/><circle cx="922.0" cy="230.0" r="8.06"/><circle cx="925.0" cy="227.5" r="8.06"/><circle cx="923.0" cy="248.0" r="8.06"/><circle cx="900.0" cy="290.0" r="8.06"/><circle cx="903.8" cy="295.0" r="8.06"/><circle cx="906.2" cy="297.5" r="8.06"/><circle cx="902.5" cy="298.8" r="8.06"/><circle cx="908.8" cy="293.8" r="8.06"/><circle cx="910.0" cy="298.0" r="8.06"/><circle cx="895.0" cy="282.5" r="8.06"/><circle cx="273.1" cy="730.2" r="8.06"/><circle cx="296.0" cy="730.8" r="8.06"/><circle cx="302.3" cy="722.5" r="8.06"/><circle cx="329.0" cy="712.5" r="8.06"/><circle cx="347.7" cy="698.5" r="8.06"/><circle cx="340.8" cy="697.9" r="8.06"/><circle cx="372.1" cy="695.8" r="8.06"/><circle cx="371.5" cy="715.6" r="8.06"/><circle cx="368.3" cy="724.0" r="8.06"/><circle cx="367.5" cy="680.2" r="8.06"/><circle cx="383.1" cy="677.1" r="8.06"/><circle cx="416.9" cy="668.8" r="8.06"/><circle cx="424.2" cy="665.2" r="8.06"/><circle cx="457.5" cy="663.1" r="8.06"/><circle cx="458.5" cy="655.2" r="8.06"/><circle cx="479.4" cy="702.7" r="8.06"/><circle cx="232.5" cy="734.4" r="8.06"/><circle cx="254.4" cy="732.3" r="8.06"/><circle cx="476.2" cy="639.6" r="8.06"/><circle cx="251.9" cy="539.6" r="8.06"/><circle cx="238.3" cy="554.6" r="8.06"/><circle cx="249.2" cy="553.5" r="8.06"/><circle cx="253.3" cy="551.5" r="8.06"/><circle cx="261.2" cy="558.8" r="8.06"/><circle cx="277.9" cy="555.2" r="8.06"/><circle cx="241.9" cy="576.5" r="8.06"/><circle cx="245.0" cy="585.8" r="8.06"/><circle cx="242.5" cy="594.2" r="8.06"/><circle cx="222.5" cy="593.8" r="8.06"/><circle cx="316.2" cy="539.6" r="8.06"/><circle cx="319.0" cy="544.2" r="8.06"/><circle cx="303.3" cy="555.6" r="8.06"/><circle cx="280.4" cy="566.0" r="8.06"/><circle cx="276.2" cy="570.2" r="8.06"/><circle cx="291.9" cy="569.2" r="8.06"/><circle cx="300.2" cy="565.0" r="8.06"/><circle cx="329.4" cy="566.0" r="8.06"/><circle cx="334.2" cy="552.5" r="8.06"/><circle cx="344.0" cy="519.2" r="8.06"/><circle cx="374.2" cy="504.6" r="8.06"/><circle cx="381.0" cy="501.0" r="8.06"/><circle cx="384.6" cy="514.0" r="8.06"/><circle cx="400.2" cy="509.8" r="8.06"/><circle cx="368.3" cy="527.1" r="8.06"/><circle cx="363.8" cy="536.9" r="8.06"/><circle cx="393.5" cy="529.2" r="8.06"/><circle cx="384.6" cy="528.5" r="8.06"/><circle cx="396.0" cy="542.1" r="8.06"/><circle cx="376.2" cy="543.1" r="8.06"/><circle cx="421.0" cy="525.4" r="8.06"/><circle cx="427.9" cy="528.5" r="8.06"/><circle cx="434.6" cy="534.8" r="8.06"/><circle cx="450.2" cy="505.6" r="8.06"/><circle cx="448.1" cy="514.0" r="8.06"/><circle cx="452.9" cy="529.6" r="8.06"/><circle cx="455.4" cy="533.8" r="8.06"/><circle cx="463.3" cy="477.5" r="8.06"/><circle cx="471.0" cy="516.0" r="8.06"/><circle cx="486.7" cy="493.8" r="8.06"/><circle cx="486.7" cy="510.8" r="8.06"/><circle cx="478.3" cy="525.4" r="8.06"/><circle cx="498.1" cy="489.0" r="8.06"/><circle cx="495.0" cy="520.2" r="8.06"/><circle cx="573.8" cy="427.7" r="8.06"/><circle cx="625.8" cy="418.3" r="8.06"/><circle cx="512.3" cy="467.3" r="8.06"/><circle cx="526.9" cy="479.2" r="8.06"/><circle cx="499.8" cy="489.2" r="8.06"/><circle cx="487.3" cy="493.3" r="8.06"/><circle cx="487.3" cy="510.0" r="8.06"/><circle cx="519.6" cy="502.7" r="8.06"/><circle cx="588.3" cy="459.0" r="8.06"/><circle cx="583.1" cy="465.2" r="8.06"/><circle cx="570.6" cy="486.7" r="8.06"/><circle cx="599.8" cy="481.9" r="8.06"/><circle cx="594.2" cy="489.2" r="8.06"/><circle cx="559.2" cy="500.6" r="8.06"/><circle cx="572.7" cy="500.6" r="8.06"/><circle cx="613.3" cy="471.5" r="8.06"/><circle cx="617.5" cy="474.6" r="8.06"/><circle cx="632.7" cy="466.2" r="8.06"/><circle cx="646.0" cy="446.9" r="8.06"/><circle cx="622.7" cy="490.2" r="8.06"/><circle cx="625.8" cy="490.2" r="8.06"/><circle cx="629.0" cy="490.8" r="8.06"/><circle cx="667.5" cy="439.2" r="8.06"/><circle cx="668.5" cy="442.3" r="8.06"/><circle cx="679.0" cy="424.6" r="8.06"/><circle cx="659.2" cy="455.8" r="8.06"/><circle cx="695.2" cy="434.4" r="8.06"/><circle cx="700.8" cy="419.4" r="8.06"/><circle cx="702.9" cy="409.0" r="8.06"/><circle cx="723.3" cy="388.1" r="8.06"/><circle cx="731.0" cy="395.4" r="8.06"/><circle cx="750.8" cy="379.8" r="8.06"/><circle cx="754.0" cy="385.0" r="8.06"/><circle cx="132.8" cy="585.7" r="8.06"/><circle cx="132.8" cy="620.4" r="8.06"/><circle cx="200.1" cy="584.7" r="8.06"/><circle cx="222.4" cy="593.7" r="8.06"/><circle cx="180.3" cy="647.1" r="8.06"/><circle cx="188.2" cy="656.0" r="8.06"/><circle cx="143.7" cy="655.0" r="8.06"/><circle cx="189.2" cy="602.6" r="8.06"/><circle cx="189.2" cy="608.5" r="8.06"/><circle cx="188.2" cy="625.3" r="8.06"/><circle cx="209.0" cy="600.6" r="8.06"/><circle cx="211.0" cy="606.5" r="8.06"/><circle cx="203.0" cy="611.5" r="8.06"/><circle cx="241.6" cy="574.8" r="8.06"/><circle cx="244.6" cy="587.7" r="8.06"/><circle cx="241.6" cy="595.6" r="8.06"/><circle cx="222.8" cy="622.4" r="8.06"/><circle cx="226.8" cy="624.3" r="8.06"/><circle cx="236.7" cy="613.4" r="8.06"/><circle cx="246.6" cy="613.4" r="8.06"/><circle cx="1004.0" cy="470.0" r="8.06"/><circle cx="1001.9" cy="469.5" r="8.06"/><circle cx="1003.3" cy="467.0" r="8.06"/><circle cx="1007.6" cy="467.8" r="8.06"/><circle cx="1003.7" cy="469.0" r="8.06"/><circle cx="1002.2" cy="445.9" r="8.06"/><circle cx="1000.6" cy="443.1" r="8.06"/><circle cx="997.7" cy="444.7" r="8.06"/><circle cx="994.8" cy="441.5" r="8.06"/><circle cx="989.4" cy="477.5" r="8.06"/><circle cx="1000.0" cy="482.5" r="8.06"/><circle cx="1026.3" cy="472.5" r="8.06"/><circle cx="1020.6" cy="493.0" r="8.06"/><circle cx="1002.5" cy="492.5" r="8.06"/><circle cx="1006.3" cy="500.0" r="8.06"/><circle cx="1010.0" cy="502.5" r="8.06"/><circle cx="1013.8" cy="505.0" r="8.06"/><circle cx="1011.3" cy="510.0" r="8.06"/><circle cx="1015.0" cy="512.5" r="8.06"/><circle cx="1010.0" cy="517.5" r="8.06"/><circle cx="1012.5" cy="520.0" r="8.06"/><circle cx="1009.4" cy="525.0" r="8.06"/><circle cx="1027.0" cy="500.0" r="8.06"/><circle cx="1020.0" cy="458.8" r="8.06"/><circle cx="1023.8" cy="448.8" r="8.06"/><circle cx="1027.5" cy="455.0" r="8.06"/><circle cx="956.0" cy="526.0" r="8.06"/><circle cx="961.0" cy="527.5" r="8.06"/><circle cx="951.0" cy="521.0" r="8.06"/><circle cx="944.0" cy="527.5" r="8.06"/><circle cx="957.5" cy="520.0" r="8.06"/><circle cx="971.0" cy="510.0" r="8.06"/><circle cx="977.5" cy="511.0" r="8.06"/><circle cx="984.0" cy="511.0" r="8.06"/><circle cx="986.0" cy="507.5" r="8.06"/><circle cx="906.0" cy="555.0" r="8.06"/><circle cx="906.0" cy="567.5" r="8.06"/><circle cx="736.9" cy="416.8" r="8.06"/><circle cx="731.8" cy="416.5" r="8.06"/><circle cx="727.6" cy="416.9" r="8.06"/><circle cx="734.9" cy="418.3" r="8.06"/><circle cx="737.5" cy="420.4" r="8.06"/><circle cx="747.4" cy="415.1" r="8.06"/><circle cx="731.5" cy="418.4" r="8.06"/><circle cx="738.0" cy="418.5" r="8.06"/><circle cx="736.8" cy="415.8" r="8.06"/>
</g>
<path d="M76.0 581.2H1329.55" stroke="#00008B" stroke-width="2.84" stroke-dasharray="11.38 11.38" fill="none"/>
<path d="M76.0 545.1H1329.55" stroke="#00008B" stroke-width="2.84" stroke-dasharray="11.38 11.38" fill="none"/>
<path d="M76.0 546.2H1329.55" stroke="#FF0000" stroke-width="2.84" stroke-dasharray="2.845 8.535" fill="none"/>
<rect x="76.95" y="59.900000000000006" width="1251.6499999999999" height="812.1999999999999" fill="none" stroke="#3a3a3a" stroke-width="1.9"/>
</g>
<path d="M77.40 873.05v7.3M379.00 873.05v7.3M680.60 873.05v7.3M982.20 873.05v7.3M1283.80 873.05v7.3M76.0 674.96h-7.3M76.0 375.53h-7.3M76.0 76.10h-7.3" stroke="#333333" stroke-width="2.84" fill="none"/>
<text x="77.40" y="908.6" font-size="26.67" text-anchor="middle">0.0</text>
<text x="379.00" y="908.6" font-size="26.67" text-anchor="middle">2.5</text>
<text x="680.60" y="908.6" font-size="26.67" text-anchor="middle">5.0</text>
<text x="982.20" y="908.6" font-size="26.67" text-anchor="middle">7.5</text>
<text x="1283.80" y="908.6" font-size="26.67" text-anchor="middle">10.0</text>
<text x="62.6" y="684.06" font-size="26.67" text-anchor="end">1</text>
<text x="62.6" y="384.63" font-size="26.67" text-anchor="end">2</text>
<text x="62.6" y="85.20" font-size="26.67" text-anchor="end">3</text>
<text x="702.77" y="944.7" font-size="26.67" text-anchor="middle">log normalized counts</text>
<text transform="translate(37.4 466.00) rotate(-90)" font-size="26.67" text-anchor="middle">GDI</text>
<text x="78.2" y="37.1" font-size="32.15" font-weight="bold" font-style="italic">GDI plot - cl525</text>
</svg></body></html>
